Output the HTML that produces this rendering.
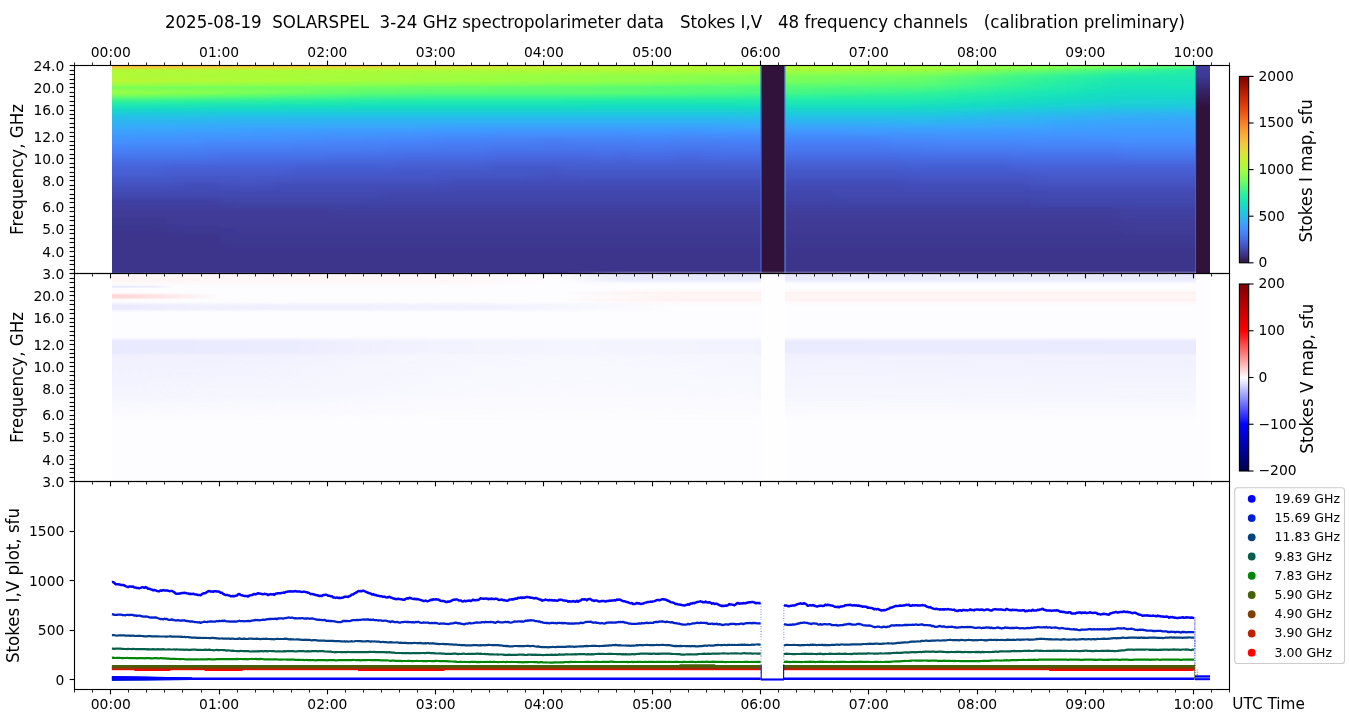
<!DOCTYPE html>
<html lang="en"><head><meta charset="utf-8"><title>SOLARSPEL 2025-08-19</title>
<style>html,body{margin:0;padding:0;background:#fff;overflow:hidden}svg{display:block}</style></head>
<body>
<svg width="1350" height="725" viewBox="0 0 1350 725" font-family="'DejaVu Sans','Liberation Sans',sans-serif" fill="#000">
<rect width="1350" height="725" fill="#fff"/>
<defs><filter id="hb" filterUnits="userSpaceOnUse" x="60" y="60" width="1190" height="220"><feGaussianBlur stdDeviation="7 0"/></filter><clipPath id="hc"><rect x="112" y="65.5" width="1084" height="208"/></clipPath><linearGradient id="c0" x1="0" y1="0" x2="0" y2="1"><stop offset="0.000" stop-color="#f8be39"/><stop offset="0.009" stop-color="#f4c73a"/><stop offset="0.011" stop-color="#eecf3a"/><stop offset="0.021" stop-color="#b1f936"/><stop offset="0.032" stop-color="#b1f936"/><stop offset="0.043" stop-color="#b1f936"/><stop offset="0.053" stop-color="#b1f936"/><stop offset="0.064" stop-color="#b7f735"/><stop offset="0.074" stop-color="#b9f635"/><stop offset="0.085" stop-color="#a7fc3a"/><stop offset="0.096" stop-color="#92ff47"/><stop offset="0.106" stop-color="#79fe59"/><stop offset="0.117" stop-color="#88ff4e"/><stop offset="0.128" stop-color="#99fe42"/><stop offset="0.138" stop-color="#8bff4b"/><stop offset="0.149" stop-color="#6dfe62"/><stop offset="0.170" stop-color="#35f394"/><stop offset="0.191" stop-color="#1de7b2"/><stop offset="0.213" stop-color="#18d9c8"/><stop offset="0.234" stop-color="#1fc9dd"/><stop offset="0.255" stop-color="#28bceb"/><stop offset="0.277" stop-color="#2fb2f4"/><stop offset="0.298" stop-color="#35abf8"/><stop offset="0.319" stop-color="#3ba0fd"/><stop offset="0.362" stop-color="#4391fe"/><stop offset="0.404" stop-color="#4682f8"/><stop offset="0.447" stop-color="#4771e9"/><stop offset="0.489" stop-color="#4664da"/><stop offset="0.532" stop-color="#455ccf"/><stop offset="0.574" stop-color="#4451bf"/><stop offset="0.617" stop-color="#4249b1"/><stop offset="0.660" stop-color="#4040a2"/><stop offset="0.702" stop-color="#3f3b97"/><stop offset="0.745" stop-color="#3e3891"/><stop offset="0.830" stop-color="#3d358b"/><stop offset="0.915" stop-color="#3d358b"/><stop offset="1.000" stop-color="#3d358b"/></linearGradient><linearGradient id="c1" x1="0" y1="0" x2="0" y2="1"><stop offset="0.000" stop-color="#f8be39"/><stop offset="0.009" stop-color="#f4c73a"/><stop offset="0.011" stop-color="#eecf3a"/><stop offset="0.021" stop-color="#b1f936"/><stop offset="0.032" stop-color="#b1f936"/><stop offset="0.043" stop-color="#b1f936"/><stop offset="0.053" stop-color="#b1f936"/><stop offset="0.064" stop-color="#b7f735"/><stop offset="0.074" stop-color="#b9f635"/><stop offset="0.085" stop-color="#a7fc3a"/><stop offset="0.096" stop-color="#92ff47"/><stop offset="0.106" stop-color="#79fe59"/><stop offset="0.117" stop-color="#88ff4e"/><stop offset="0.128" stop-color="#99fe42"/><stop offset="0.138" stop-color="#8bff4b"/><stop offset="0.149" stop-color="#6dfe62"/><stop offset="0.170" stop-color="#35f394"/><stop offset="0.191" stop-color="#1de7b2"/><stop offset="0.213" stop-color="#18d9c8"/><stop offset="0.234" stop-color="#1fc9dd"/><stop offset="0.255" stop-color="#28bceb"/><stop offset="0.277" stop-color="#2fb2f4"/><stop offset="0.298" stop-color="#35abf8"/><stop offset="0.319" stop-color="#3ba0fd"/><stop offset="0.362" stop-color="#4391fe"/><stop offset="0.404" stop-color="#4682f8"/><stop offset="0.447" stop-color="#4771e9"/><stop offset="0.489" stop-color="#4664da"/><stop offset="0.532" stop-color="#455ccf"/><stop offset="0.574" stop-color="#4451bf"/><stop offset="0.617" stop-color="#4249b1"/><stop offset="0.660" stop-color="#4040a2"/><stop offset="0.702" stop-color="#3f3b97"/><stop offset="0.745" stop-color="#3e3891"/><stop offset="0.830" stop-color="#3d358b"/><stop offset="0.915" stop-color="#3d358b"/><stop offset="1.000" stop-color="#3d358b"/></linearGradient><linearGradient id="c2" x1="0" y1="0" x2="0" y2="1"><stop offset="0.000" stop-color="#f8be39"/><stop offset="0.009" stop-color="#f4c73a"/><stop offset="0.011" stop-color="#ecd13a"/><stop offset="0.021" stop-color="#b1f936"/><stop offset="0.032" stop-color="#b1f936"/><stop offset="0.043" stop-color="#affa37"/><stop offset="0.053" stop-color="#b1f936"/><stop offset="0.064" stop-color="#b4f836"/><stop offset="0.074" stop-color="#b9f635"/><stop offset="0.085" stop-color="#a7fc3a"/><stop offset="0.096" stop-color="#92ff47"/><stop offset="0.106" stop-color="#79fe59"/><stop offset="0.117" stop-color="#88ff4e"/><stop offset="0.128" stop-color="#99fe42"/><stop offset="0.138" stop-color="#88ff4e"/><stop offset="0.149" stop-color="#69fd66"/><stop offset="0.170" stop-color="#35f394"/><stop offset="0.191" stop-color="#1de7b2"/><stop offset="0.213" stop-color="#18d9c8"/><stop offset="0.234" stop-color="#1fc9dd"/><stop offset="0.255" stop-color="#28bceb"/><stop offset="0.277" stop-color="#2fb2f4"/><stop offset="0.298" stop-color="#35abf8"/><stop offset="0.319" stop-color="#3ba0fd"/><stop offset="0.362" stop-color="#4391fe"/><stop offset="0.404" stop-color="#4682f8"/><stop offset="0.447" stop-color="#4771e9"/><stop offset="0.489" stop-color="#4664da"/><stop offset="0.532" stop-color="#455ccf"/><stop offset="0.574" stop-color="#4451bf"/><stop offset="0.617" stop-color="#4249b1"/><stop offset="0.660" stop-color="#4040a2"/><stop offset="0.702" stop-color="#3f3b97"/><stop offset="0.745" stop-color="#3e3891"/><stop offset="0.830" stop-color="#3d358b"/><stop offset="0.915" stop-color="#3d358b"/><stop offset="1.000" stop-color="#3d358b"/></linearGradient><linearGradient id="c3" x1="0" y1="0" x2="0" y2="1"><stop offset="0.000" stop-color="#f7c13a"/><stop offset="0.009" stop-color="#f2c93a"/><stop offset="0.011" stop-color="#ecd13a"/><stop offset="0.021" stop-color="#b1f936"/><stop offset="0.032" stop-color="#affa37"/><stop offset="0.043" stop-color="#affa37"/><stop offset="0.053" stop-color="#affa37"/><stop offset="0.064" stop-color="#b4f836"/><stop offset="0.074" stop-color="#b9f635"/><stop offset="0.085" stop-color="#a7fc3a"/><stop offset="0.096" stop-color="#92ff47"/><stop offset="0.106" stop-color="#79fe59"/><stop offset="0.117" stop-color="#84ff51"/><stop offset="0.128" stop-color="#96fe44"/><stop offset="0.138" stop-color="#84ff51"/><stop offset="0.149" stop-color="#69fd66"/><stop offset="0.170" stop-color="#35f394"/><stop offset="0.191" stop-color="#1de7b2"/><stop offset="0.213" stop-color="#18d9c8"/><stop offset="0.234" stop-color="#1fc9dd"/><stop offset="0.255" stop-color="#28bceb"/><stop offset="0.277" stop-color="#2fb2f4"/><stop offset="0.298" stop-color="#37a8fa"/><stop offset="0.319" stop-color="#3ba0fd"/><stop offset="0.362" stop-color="#4391fe"/><stop offset="0.404" stop-color="#4680f6"/><stop offset="0.447" stop-color="#4771e9"/><stop offset="0.489" stop-color="#4664da"/><stop offset="0.532" stop-color="#455ccf"/><stop offset="0.574" stop-color="#4451bf"/><stop offset="0.617" stop-color="#4249b1"/><stop offset="0.660" stop-color="#4040a2"/><stop offset="0.702" stop-color="#3f3b97"/><stop offset="0.745" stop-color="#3e3891"/><stop offset="0.830" stop-color="#3d358b"/><stop offset="0.915" stop-color="#3d358b"/><stop offset="1.000" stop-color="#3d358b"/></linearGradient><linearGradient id="c4" x1="0" y1="0" x2="0" y2="1"><stop offset="0.000" stop-color="#f7c13a"/><stop offset="0.009" stop-color="#f2c93a"/><stop offset="0.011" stop-color="#ebd339"/><stop offset="0.021" stop-color="#b1f936"/><stop offset="0.032" stop-color="#affa37"/><stop offset="0.043" stop-color="#affa37"/><stop offset="0.053" stop-color="#affa37"/><stop offset="0.064" stop-color="#b4f836"/><stop offset="0.074" stop-color="#b7f735"/><stop offset="0.085" stop-color="#a4fc3c"/><stop offset="0.096" stop-color="#8fff49"/><stop offset="0.106" stop-color="#79fe59"/><stop offset="0.117" stop-color="#80ff53"/><stop offset="0.128" stop-color="#92ff47"/><stop offset="0.138" stop-color="#80ff53"/><stop offset="0.149" stop-color="#65fd69"/><stop offset="0.170" stop-color="#32f298"/><stop offset="0.191" stop-color="#1ce6b4"/><stop offset="0.213" stop-color="#18d7ca"/><stop offset="0.234" stop-color="#1fc9dd"/><stop offset="0.255" stop-color="#28bceb"/><stop offset="0.277" stop-color="#2fb2f4"/><stop offset="0.298" stop-color="#37a8fa"/><stop offset="0.319" stop-color="#3ba0fd"/><stop offset="0.362" stop-color="#448ffe"/><stop offset="0.404" stop-color="#4680f6"/><stop offset="0.447" stop-color="#4771e9"/><stop offset="0.489" stop-color="#4664da"/><stop offset="0.532" stop-color="#455ccf"/><stop offset="0.574" stop-color="#4451bf"/><stop offset="0.617" stop-color="#4249b1"/><stop offset="0.660" stop-color="#4040a2"/><stop offset="0.702" stop-color="#3f3b97"/><stop offset="0.745" stop-color="#3e3891"/><stop offset="0.830" stop-color="#3d358b"/><stop offset="0.915" stop-color="#3d358b"/><stop offset="1.000" stop-color="#3d358b"/></linearGradient><linearGradient id="c5" x1="0" y1="0" x2="0" y2="1"><stop offset="0.000" stop-color="#f6c33a"/><stop offset="0.009" stop-color="#f1cb3a"/><stop offset="0.011" stop-color="#e9d539"/><stop offset="0.021" stop-color="#b1f936"/><stop offset="0.032" stop-color="#affa37"/><stop offset="0.043" stop-color="#affa37"/><stop offset="0.053" stop-color="#affa37"/><stop offset="0.064" stop-color="#b1f936"/><stop offset="0.074" stop-color="#b4f836"/><stop offset="0.085" stop-color="#a4fc3c"/><stop offset="0.096" stop-color="#8fff49"/><stop offset="0.106" stop-color="#75fe5c"/><stop offset="0.117" stop-color="#80ff53"/><stop offset="0.128" stop-color="#8fff49"/><stop offset="0.138" stop-color="#7dff56"/><stop offset="0.149" stop-color="#61fc6c"/><stop offset="0.170" stop-color="#32f298"/><stop offset="0.191" stop-color="#1ce6b4"/><stop offset="0.213" stop-color="#18d7ca"/><stop offset="0.234" stop-color="#20c7df"/><stop offset="0.255" stop-color="#28bceb"/><stop offset="0.277" stop-color="#2fb2f4"/><stop offset="0.298" stop-color="#37a8fa"/><stop offset="0.319" stop-color="#3ba0fd"/><stop offset="0.362" stop-color="#448ffe"/><stop offset="0.404" stop-color="#4680f6"/><stop offset="0.447" stop-color="#4771e9"/><stop offset="0.489" stop-color="#4661d6"/><stop offset="0.532" stop-color="#4559cb"/><stop offset="0.574" stop-color="#4451bf"/><stop offset="0.617" stop-color="#4249b1"/><stop offset="0.660" stop-color="#4040a2"/><stop offset="0.702" stop-color="#3f3b97"/><stop offset="0.745" stop-color="#3f3b97"/><stop offset="0.830" stop-color="#3d358b"/><stop offset="0.915" stop-color="#3d358b"/><stop offset="1.000" stop-color="#3d358b"/></linearGradient><linearGradient id="c6" x1="0" y1="0" x2="0" y2="1"><stop offset="0.000" stop-color="#f5c53a"/><stop offset="0.009" stop-color="#efcd3a"/><stop offset="0.011" stop-color="#e9d539"/><stop offset="0.021" stop-color="#b1f936"/><stop offset="0.032" stop-color="#affa37"/><stop offset="0.043" stop-color="#acfb38"/><stop offset="0.053" stop-color="#acfb38"/><stop offset="0.064" stop-color="#b1f936"/><stop offset="0.074" stop-color="#b4f836"/><stop offset="0.085" stop-color="#a1fd3d"/><stop offset="0.096" stop-color="#8fff49"/><stop offset="0.106" stop-color="#75fe5c"/><stop offset="0.117" stop-color="#7dff56"/><stop offset="0.128" stop-color="#8bff4b"/><stop offset="0.138" stop-color="#79fe59"/><stop offset="0.149" stop-color="#5dfc6f"/><stop offset="0.170" stop-color="#2ff19b"/><stop offset="0.191" stop-color="#1ce6b4"/><stop offset="0.213" stop-color="#18d7ca"/><stop offset="0.234" stop-color="#20c7df"/><stop offset="0.255" stop-color="#28bceb"/><stop offset="0.277" stop-color="#31aff5"/><stop offset="0.298" stop-color="#37a8fa"/><stop offset="0.319" stop-color="#3d9efe"/><stop offset="0.362" stop-color="#448ffe"/><stop offset="0.404" stop-color="#4680f6"/><stop offset="0.447" stop-color="#4771e9"/><stop offset="0.489" stop-color="#4661d6"/><stop offset="0.532" stop-color="#4559cb"/><stop offset="0.574" stop-color="#434eba"/><stop offset="0.617" stop-color="#4249b1"/><stop offset="0.660" stop-color="#4040a2"/><stop offset="0.702" stop-color="#3f3b97"/><stop offset="0.745" stop-color="#3f3b97"/><stop offset="0.830" stop-color="#3d358b"/><stop offset="0.915" stop-color="#3d358b"/><stop offset="1.000" stop-color="#3d358b"/></linearGradient><linearGradient id="c7" x1="0" y1="0" x2="0" y2="1"><stop offset="0.000" stop-color="#f5c53a"/><stop offset="0.009" stop-color="#eecf3a"/><stop offset="0.011" stop-color="#e7d739"/><stop offset="0.021" stop-color="#b1f936"/><stop offset="0.032" stop-color="#affa37"/><stop offset="0.043" stop-color="#acfb38"/><stop offset="0.053" stop-color="#acfb38"/><stop offset="0.064" stop-color="#affa37"/><stop offset="0.074" stop-color="#b1f936"/><stop offset="0.085" stop-color="#a1fd3d"/><stop offset="0.096" stop-color="#8bff4b"/><stop offset="0.106" stop-color="#75fe5c"/><stop offset="0.117" stop-color="#7dff56"/><stop offset="0.128" stop-color="#88ff4e"/><stop offset="0.138" stop-color="#75fe5c"/><stop offset="0.149" stop-color="#59fb73"/><stop offset="0.170" stop-color="#2ff19b"/><stop offset="0.191" stop-color="#1ae4b6"/><stop offset="0.213" stop-color="#18d7ca"/><stop offset="0.234" stop-color="#20c7df"/><stop offset="0.255" stop-color="#28bceb"/><stop offset="0.277" stop-color="#31aff5"/><stop offset="0.298" stop-color="#37a8fa"/><stop offset="0.319" stop-color="#3d9efe"/><stop offset="0.362" stop-color="#458cfd"/><stop offset="0.404" stop-color="#467df4"/><stop offset="0.447" stop-color="#4771e9"/><stop offset="0.489" stop-color="#4661d6"/><stop offset="0.532" stop-color="#4559cb"/><stop offset="0.574" stop-color="#434eba"/><stop offset="0.617" stop-color="#4249b1"/><stop offset="0.660" stop-color="#4040a2"/><stop offset="0.702" stop-color="#3f3b97"/><stop offset="0.745" stop-color="#3f3b97"/><stop offset="0.830" stop-color="#3d358b"/><stop offset="0.915" stop-color="#3d358b"/><stop offset="1.000" stop-color="#3d358b"/></linearGradient><linearGradient id="c8" x1="0" y1="0" x2="0" y2="1"><stop offset="0.000" stop-color="#f4c73a"/><stop offset="0.009" stop-color="#eecf3a"/><stop offset="0.011" stop-color="#e5d938"/><stop offset="0.021" stop-color="#b1f936"/><stop offset="0.032" stop-color="#acfb38"/><stop offset="0.043" stop-color="#acfb38"/><stop offset="0.053" stop-color="#acfb38"/><stop offset="0.064" stop-color="#affa37"/><stop offset="0.074" stop-color="#b1f936"/><stop offset="0.085" stop-color="#9ffd3f"/><stop offset="0.096" stop-color="#8bff4b"/><stop offset="0.106" stop-color="#75fe5c"/><stop offset="0.117" stop-color="#79fe59"/><stop offset="0.128" stop-color="#84ff51"/><stop offset="0.138" stop-color="#71fe5f"/><stop offset="0.149" stop-color="#59fb73"/><stop offset="0.170" stop-color="#2cf09e"/><stop offset="0.191" stop-color="#1ae4b6"/><stop offset="0.213" stop-color="#18d7ca"/><stop offset="0.234" stop-color="#20c7df"/><stop offset="0.255" stop-color="#2ab9ee"/><stop offset="0.277" stop-color="#31aff5"/><stop offset="0.298" stop-color="#38a5fb"/><stop offset="0.319" stop-color="#3d9efe"/><stop offset="0.362" stop-color="#458cfd"/><stop offset="0.404" stop-color="#467df4"/><stop offset="0.447" stop-color="#476ee6"/><stop offset="0.489" stop-color="#4661d6"/><stop offset="0.532" stop-color="#4559cb"/><stop offset="0.574" stop-color="#4451bf"/><stop offset="0.617" stop-color="#4249b1"/><stop offset="0.660" stop-color="#4143a7"/><stop offset="0.702" stop-color="#3f3b97"/><stop offset="0.745" stop-color="#3f3b97"/><stop offset="0.830" stop-color="#3e3891"/><stop offset="0.915" stop-color="#3d358b"/><stop offset="1.000" stop-color="#3d358b"/></linearGradient><linearGradient id="c9" x1="0" y1="0" x2="0" y2="1"><stop offset="0.000" stop-color="#f2c93a"/><stop offset="0.009" stop-color="#ecd13a"/><stop offset="0.011" stop-color="#e5d938"/><stop offset="0.021" stop-color="#b1f936"/><stop offset="0.032" stop-color="#acfb38"/><stop offset="0.043" stop-color="#acfb38"/><stop offset="0.053" stop-color="#a9fb39"/><stop offset="0.064" stop-color="#acfb38"/><stop offset="0.074" stop-color="#affa37"/><stop offset="0.085" stop-color="#9ffd3f"/><stop offset="0.096" stop-color="#8bff4b"/><stop offset="0.106" stop-color="#71fe5f"/><stop offset="0.117" stop-color="#75fe5c"/><stop offset="0.128" stop-color="#80ff53"/><stop offset="0.138" stop-color="#6dfe62"/><stop offset="0.149" stop-color="#55fa76"/><stop offset="0.170" stop-color="#2cf09e"/><stop offset="0.191" stop-color="#1ae4b6"/><stop offset="0.213" stop-color="#18d7ca"/><stop offset="0.234" stop-color="#20c7df"/><stop offset="0.255" stop-color="#2ab9ee"/><stop offset="0.277" stop-color="#31aff5"/><stop offset="0.298" stop-color="#38a5fb"/><stop offset="0.319" stop-color="#3d9efe"/><stop offset="0.362" stop-color="#458cfd"/><stop offset="0.404" stop-color="#467df4"/><stop offset="0.447" stop-color="#476ee6"/><stop offset="0.489" stop-color="#4661d6"/><stop offset="0.532" stop-color="#4559cb"/><stop offset="0.574" stop-color="#4451bf"/><stop offset="0.617" stop-color="#4249b1"/><stop offset="0.660" stop-color="#4143a7"/><stop offset="0.702" stop-color="#3f3b97"/><stop offset="0.745" stop-color="#3f3b97"/><stop offset="0.830" stop-color="#3e3891"/><stop offset="0.915" stop-color="#3d358b"/><stop offset="1.000" stop-color="#3d358b"/></linearGradient><linearGradient id="c10" x1="0" y1="0" x2="0" y2="1"><stop offset="0.000" stop-color="#f2c93a"/><stop offset="0.009" stop-color="#ebd339"/><stop offset="0.011" stop-color="#e3db38"/><stop offset="0.021" stop-color="#b1f936"/><stop offset="0.032" stop-color="#acfb38"/><stop offset="0.043" stop-color="#a9fb39"/><stop offset="0.053" stop-color="#a9fb39"/><stop offset="0.064" stop-color="#acfb38"/><stop offset="0.074" stop-color="#acfb38"/><stop offset="0.085" stop-color="#9cfe40"/><stop offset="0.096" stop-color="#88ff4e"/><stop offset="0.106" stop-color="#71fe5f"/><stop offset="0.117" stop-color="#75fe5c"/><stop offset="0.128" stop-color="#7dff56"/><stop offset="0.138" stop-color="#69fd66"/><stop offset="0.149" stop-color="#52fa7a"/><stop offset="0.170" stop-color="#2aefa1"/><stop offset="0.191" stop-color="#1ae4b6"/><stop offset="0.213" stop-color="#18d7ca"/><stop offset="0.234" stop-color="#20c7df"/><stop offset="0.255" stop-color="#2ab9ee"/><stop offset="0.277" stop-color="#31aff5"/><stop offset="0.298" stop-color="#38a5fb"/><stop offset="0.319" stop-color="#3e9bfe"/><stop offset="0.362" stop-color="#458cfd"/><stop offset="0.404" stop-color="#467df4"/><stop offset="0.447" stop-color="#476ee6"/><stop offset="0.489" stop-color="#4661d6"/><stop offset="0.532" stop-color="#4559cb"/><stop offset="0.574" stop-color="#4451bf"/><stop offset="0.617" stop-color="#4249b1"/><stop offset="0.660" stop-color="#4143a7"/><stop offset="0.702" stop-color="#3f3b97"/><stop offset="0.745" stop-color="#3f3b97"/><stop offset="0.830" stop-color="#3e3891"/><stop offset="0.915" stop-color="#3d358b"/><stop offset="1.000" stop-color="#3d358b"/></linearGradient><linearGradient id="c11" x1="0" y1="0" x2="0" y2="1"><stop offset="0.000" stop-color="#f1cb3a"/><stop offset="0.009" stop-color="#e9d539"/><stop offset="0.011" stop-color="#e1dd37"/><stop offset="0.021" stop-color="#b1f936"/><stop offset="0.032" stop-color="#acfb38"/><stop offset="0.043" stop-color="#a9fb39"/><stop offset="0.053" stop-color="#a9fb39"/><stop offset="0.064" stop-color="#a9fb39"/><stop offset="0.074" stop-color="#acfb38"/><stop offset="0.085" stop-color="#9cfe40"/><stop offset="0.096" stop-color="#88ff4e"/><stop offset="0.106" stop-color="#71fe5f"/><stop offset="0.117" stop-color="#71fe5f"/><stop offset="0.128" stop-color="#75fe5c"/><stop offset="0.138" stop-color="#65fd69"/><stop offset="0.149" stop-color="#4ef97d"/><stop offset="0.170" stop-color="#2aefa1"/><stop offset="0.191" stop-color="#19e3b9"/><stop offset="0.213" stop-color="#18d7ca"/><stop offset="0.234" stop-color="#20c7df"/><stop offset="0.255" stop-color="#2ab9ee"/><stop offset="0.277" stop-color="#31aff5"/><stop offset="0.298" stop-color="#38a5fb"/><stop offset="0.319" stop-color="#3e9bfe"/><stop offset="0.362" stop-color="#458cfd"/><stop offset="0.404" stop-color="#467df4"/><stop offset="0.447" stop-color="#476ee6"/><stop offset="0.489" stop-color="#4661d6"/><stop offset="0.532" stop-color="#4559cb"/><stop offset="0.574" stop-color="#434eba"/><stop offset="0.617" stop-color="#4249b1"/><stop offset="0.660" stop-color="#4143a7"/><stop offset="0.702" stop-color="#3f3b97"/><stop offset="0.745" stop-color="#3f3b97"/><stop offset="0.830" stop-color="#3e3891"/><stop offset="0.915" stop-color="#3d358b"/><stop offset="1.000" stop-color="#3d358b"/></linearGradient><linearGradient id="c12" x1="0" y1="0" x2="0" y2="1"><stop offset="0.000" stop-color="#efcd3a"/><stop offset="0.009" stop-color="#e9d539"/><stop offset="0.011" stop-color="#e1dd37"/><stop offset="0.021" stop-color="#affa37"/><stop offset="0.032" stop-color="#acfb38"/><stop offset="0.043" stop-color="#a9fb39"/><stop offset="0.053" stop-color="#a7fc3a"/><stop offset="0.064" stop-color="#a9fb39"/><stop offset="0.074" stop-color="#a9fb39"/><stop offset="0.085" stop-color="#99fe42"/><stop offset="0.096" stop-color="#88ff4e"/><stop offset="0.106" stop-color="#71fe5f"/><stop offset="0.117" stop-color="#71fe5f"/><stop offset="0.128" stop-color="#71fe5f"/><stop offset="0.138" stop-color="#61fc6c"/><stop offset="0.149" stop-color="#4af880"/><stop offset="0.170" stop-color="#2aefa1"/><stop offset="0.191" stop-color="#19e3b9"/><stop offset="0.213" stop-color="#19d5cd"/><stop offset="0.234" stop-color="#20c7df"/><stop offset="0.255" stop-color="#2ab9ee"/><stop offset="0.277" stop-color="#31aff5"/><stop offset="0.298" stop-color="#38a5fb"/><stop offset="0.319" stop-color="#3e9bfe"/><stop offset="0.362" stop-color="#458afc"/><stop offset="0.404" stop-color="#477bf2"/><stop offset="0.447" stop-color="#476ee6"/><stop offset="0.489" stop-color="#455ed3"/><stop offset="0.532" stop-color="#4456c7"/><stop offset="0.574" stop-color="#434eba"/><stop offset="0.617" stop-color="#4249b1"/><stop offset="0.660" stop-color="#4143a7"/><stop offset="0.702" stop-color="#3f3b97"/><stop offset="0.745" stop-color="#3f3b97"/><stop offset="0.830" stop-color="#3e3891"/><stop offset="0.915" stop-color="#3d358b"/><stop offset="1.000" stop-color="#3d358b"/></linearGradient><linearGradient id="c13" x1="0" y1="0" x2="0" y2="1"><stop offset="0.000" stop-color="#efcd3a"/><stop offset="0.009" stop-color="#e7d739"/><stop offset="0.011" stop-color="#dfdf37"/><stop offset="0.021" stop-color="#affa37"/><stop offset="0.032" stop-color="#acfb38"/><stop offset="0.043" stop-color="#a7fc3a"/><stop offset="0.053" stop-color="#a7fc3a"/><stop offset="0.064" stop-color="#a7fc3a"/><stop offset="0.074" stop-color="#a9fb39"/><stop offset="0.085" stop-color="#99fe42"/><stop offset="0.096" stop-color="#84ff51"/><stop offset="0.106" stop-color="#71fe5f"/><stop offset="0.117" stop-color="#6dfe62"/><stop offset="0.128" stop-color="#6dfe62"/><stop offset="0.138" stop-color="#5dfc6f"/><stop offset="0.149" stop-color="#46f884"/><stop offset="0.170" stop-color="#27eea4"/><stop offset="0.191" stop-color="#19e3b9"/><stop offset="0.213" stop-color="#19d5cd"/><stop offset="0.234" stop-color="#20c7df"/><stop offset="0.255" stop-color="#2ab9ee"/><stop offset="0.277" stop-color="#31aff5"/><stop offset="0.298" stop-color="#38a5fb"/><stop offset="0.319" stop-color="#3e9bfe"/><stop offset="0.362" stop-color="#458afc"/><stop offset="0.404" stop-color="#477bf2"/><stop offset="0.447" stop-color="#476ee6"/><stop offset="0.489" stop-color="#455ed3"/><stop offset="0.532" stop-color="#4456c7"/><stop offset="0.574" stop-color="#434eba"/><stop offset="0.617" stop-color="#4249b1"/><stop offset="0.660" stop-color="#4143a7"/><stop offset="0.702" stop-color="#3f3b97"/><stop offset="0.745" stop-color="#3f3b97"/><stop offset="0.830" stop-color="#3e3891"/><stop offset="0.915" stop-color="#3d358b"/><stop offset="1.000" stop-color="#3d358b"/></linearGradient><linearGradient id="c14" x1="0" y1="0" x2="0" y2="1"><stop offset="0.000" stop-color="#eecf3a"/><stop offset="0.009" stop-color="#e5d938"/><stop offset="0.011" stop-color="#dde037"/><stop offset="0.021" stop-color="#affa37"/><stop offset="0.032" stop-color="#a9fb39"/><stop offset="0.043" stop-color="#a7fc3a"/><stop offset="0.053" stop-color="#a4fc3c"/><stop offset="0.064" stop-color="#a7fc3a"/><stop offset="0.074" stop-color="#a7fc3a"/><stop offset="0.085" stop-color="#96fe44"/><stop offset="0.096" stop-color="#84ff51"/><stop offset="0.106" stop-color="#6dfe62"/><stop offset="0.117" stop-color="#69fd66"/><stop offset="0.128" stop-color="#69fd66"/><stop offset="0.138" stop-color="#59fb73"/><stop offset="0.149" stop-color="#46f884"/><stop offset="0.170" stop-color="#27eea4"/><stop offset="0.191" stop-color="#19e3b9"/><stop offset="0.213" stop-color="#19d5cd"/><stop offset="0.234" stop-color="#20c7df"/><stop offset="0.255" stop-color="#2ab9ee"/><stop offset="0.277" stop-color="#33adf7"/><stop offset="0.298" stop-color="#3aa3fc"/><stop offset="0.319" stop-color="#4099ff"/><stop offset="0.362" stop-color="#4687fb"/><stop offset="0.404" stop-color="#477bf2"/><stop offset="0.447" stop-color="#466be3"/><stop offset="0.489" stop-color="#455ed3"/><stop offset="0.532" stop-color="#4456c7"/><stop offset="0.574" stop-color="#434eba"/><stop offset="0.617" stop-color="#4249b1"/><stop offset="0.660" stop-color="#4143a7"/><stop offset="0.702" stop-color="#3f3e9c"/><stop offset="0.745" stop-color="#3f3b97"/><stop offset="0.830" stop-color="#3e3891"/><stop offset="0.915" stop-color="#3d358b"/><stop offset="1.000" stop-color="#3d358b"/></linearGradient><linearGradient id="c15" x1="0" y1="0" x2="0" y2="1"><stop offset="0.000" stop-color="#ecd13a"/><stop offset="0.009" stop-color="#e3db38"/><stop offset="0.011" stop-color="#dde037"/><stop offset="0.021" stop-color="#affa37"/><stop offset="0.032" stop-color="#a9fb39"/><stop offset="0.043" stop-color="#a7fc3a"/><stop offset="0.053" stop-color="#a4fc3c"/><stop offset="0.064" stop-color="#a4fc3c"/><stop offset="0.074" stop-color="#a4fc3c"/><stop offset="0.085" stop-color="#96fe44"/><stop offset="0.096" stop-color="#84ff51"/><stop offset="0.106" stop-color="#6dfe62"/><stop offset="0.117" stop-color="#69fd66"/><stop offset="0.128" stop-color="#65fd69"/><stop offset="0.138" stop-color="#55fa76"/><stop offset="0.149" stop-color="#43f787"/><stop offset="0.170" stop-color="#25eca7"/><stop offset="0.191" stop-color="#19e2bb"/><stop offset="0.213" stop-color="#19d5cd"/><stop offset="0.234" stop-color="#20c7df"/><stop offset="0.255" stop-color="#2ab9ee"/><stop offset="0.277" stop-color="#33adf7"/><stop offset="0.298" stop-color="#3aa3fc"/><stop offset="0.319" stop-color="#4099ff"/><stop offset="0.362" stop-color="#4687fb"/><stop offset="0.404" stop-color="#477bf2"/><stop offset="0.447" stop-color="#466be3"/><stop offset="0.489" stop-color="#455ed3"/><stop offset="0.532" stop-color="#4456c7"/><stop offset="0.574" stop-color="#434eba"/><stop offset="0.617" stop-color="#4249b1"/><stop offset="0.660" stop-color="#4143a7"/><stop offset="0.702" stop-color="#3f3e9c"/><stop offset="0.745" stop-color="#3f3b97"/><stop offset="0.830" stop-color="#3e3891"/><stop offset="0.915" stop-color="#3d358b"/><stop offset="1.000" stop-color="#3d358b"/></linearGradient><linearGradient id="c16" x1="0" y1="0" x2="0" y2="1"><stop offset="0.000" stop-color="#ecd13a"/><stop offset="0.009" stop-color="#e3db38"/><stop offset="0.011" stop-color="#dbe236"/><stop offset="0.021" stop-color="#affa37"/><stop offset="0.032" stop-color="#a9fb39"/><stop offset="0.043" stop-color="#a7fc3a"/><stop offset="0.053" stop-color="#a4fc3c"/><stop offset="0.064" stop-color="#a4fc3c"/><stop offset="0.074" stop-color="#a4fc3c"/><stop offset="0.085" stop-color="#92ff47"/><stop offset="0.096" stop-color="#80ff53"/><stop offset="0.106" stop-color="#6dfe62"/><stop offset="0.117" stop-color="#65fd69"/><stop offset="0.128" stop-color="#61fc6c"/><stop offset="0.138" stop-color="#52fa7a"/><stop offset="0.149" stop-color="#3ff68a"/><stop offset="0.170" stop-color="#25eca7"/><stop offset="0.191" stop-color="#19e2bb"/><stop offset="0.213" stop-color="#19d5cd"/><stop offset="0.234" stop-color="#20c7df"/><stop offset="0.255" stop-color="#2ab9ee"/><stop offset="0.277" stop-color="#33adf7"/><stop offset="0.298" stop-color="#3aa3fc"/><stop offset="0.319" stop-color="#4099ff"/><stop offset="0.362" stop-color="#4687fb"/><stop offset="0.404" stop-color="#477bf2"/><stop offset="0.447" stop-color="#466be3"/><stop offset="0.489" stop-color="#455ed3"/><stop offset="0.532" stop-color="#4456c7"/><stop offset="0.574" stop-color="#434eba"/><stop offset="0.617" stop-color="#4249b1"/><stop offset="0.660" stop-color="#4143a7"/><stop offset="0.702" stop-color="#3f3e9c"/><stop offset="0.745" stop-color="#3f3b97"/><stop offset="0.830" stop-color="#3e3891"/><stop offset="0.915" stop-color="#3d358b"/><stop offset="1.000" stop-color="#3d358b"/></linearGradient><linearGradient id="c17" x1="0" y1="0" x2="0" y2="1"><stop offset="0.000" stop-color="#e9d539"/><stop offset="0.009" stop-color="#e1dd37"/><stop offset="0.011" stop-color="#d9e436"/><stop offset="0.021" stop-color="#affa37"/><stop offset="0.032" stop-color="#a9fb39"/><stop offset="0.043" stop-color="#a4fc3c"/><stop offset="0.053" stop-color="#a1fd3d"/><stop offset="0.064" stop-color="#a1fd3d"/><stop offset="0.074" stop-color="#a1fd3d"/><stop offset="0.085" stop-color="#92ff47"/><stop offset="0.096" stop-color="#80ff53"/><stop offset="0.106" stop-color="#6dfe62"/><stop offset="0.117" stop-color="#65fd69"/><stop offset="0.128" stop-color="#61fc6c"/><stop offset="0.138" stop-color="#52fa7a"/><stop offset="0.149" stop-color="#3ff68a"/><stop offset="0.170" stop-color="#22ebaa"/><stop offset="0.191" stop-color="#19e2bb"/><stop offset="0.213" stop-color="#19d5cd"/><stop offset="0.234" stop-color="#20c7df"/><stop offset="0.255" stop-color="#2ab9ee"/><stop offset="0.277" stop-color="#33adf7"/><stop offset="0.298" stop-color="#3aa3fc"/><stop offset="0.319" stop-color="#4099ff"/><stop offset="0.362" stop-color="#4685fa"/><stop offset="0.404" stop-color="#4778f0"/><stop offset="0.447" stop-color="#466be3"/><stop offset="0.489" stop-color="#455ed3"/><stop offset="0.532" stop-color="#4456c7"/><stop offset="0.574" stop-color="#434eba"/><stop offset="0.617" stop-color="#4146ac"/><stop offset="0.660" stop-color="#4143a7"/><stop offset="0.702" stop-color="#3f3e9c"/><stop offset="0.745" stop-color="#3f3b97"/><stop offset="0.830" stop-color="#3e3891"/><stop offset="0.915" stop-color="#3d358b"/><stop offset="1.000" stop-color="#3d358b"/></linearGradient><linearGradient id="c18" x1="0" y1="0" x2="0" y2="1"><stop offset="0.000" stop-color="#e7d739"/><stop offset="0.009" stop-color="#dde037"/><stop offset="0.011" stop-color="#d7e535"/><stop offset="0.021" stop-color="#affa37"/><stop offset="0.032" stop-color="#a9fb39"/><stop offset="0.043" stop-color="#a4fc3c"/><stop offset="0.053" stop-color="#a1fd3d"/><stop offset="0.064" stop-color="#a1fd3d"/><stop offset="0.074" stop-color="#a1fd3d"/><stop offset="0.085" stop-color="#92ff47"/><stop offset="0.096" stop-color="#7dff56"/><stop offset="0.106" stop-color="#69fd66"/><stop offset="0.117" stop-color="#61fc6c"/><stop offset="0.128" stop-color="#5dfc6f"/><stop offset="0.138" stop-color="#4ef97d"/><stop offset="0.149" stop-color="#3ff68a"/><stop offset="0.170" stop-color="#22ebaa"/><stop offset="0.191" stop-color="#19e2bb"/><stop offset="0.213" stop-color="#19d5cd"/><stop offset="0.234" stop-color="#20c7df"/><stop offset="0.255" stop-color="#2ab9ee"/><stop offset="0.277" stop-color="#33adf7"/><stop offset="0.298" stop-color="#3aa3fc"/><stop offset="0.319" stop-color="#4099ff"/><stop offset="0.362" stop-color="#4685fa"/><stop offset="0.404" stop-color="#4778f0"/><stop offset="0.447" stop-color="#4669e0"/><stop offset="0.489" stop-color="#455ccf"/><stop offset="0.532" stop-color="#4456c7"/><stop offset="0.574" stop-color="#434eba"/><stop offset="0.617" stop-color="#4146ac"/><stop offset="0.660" stop-color="#4143a7"/><stop offset="0.702" stop-color="#3f3e9c"/><stop offset="0.745" stop-color="#3f3b97"/><stop offset="0.830" stop-color="#3e3891"/><stop offset="0.915" stop-color="#3d358b"/><stop offset="1.000" stop-color="#3d358b"/></linearGradient><linearGradient id="c19" x1="0" y1="0" x2="0" y2="1"><stop offset="0.000" stop-color="#e3db38"/><stop offset="0.009" stop-color="#dbe236"/><stop offset="0.011" stop-color="#d4e735"/><stop offset="0.021" stop-color="#affa37"/><stop offset="0.032" stop-color="#a9fb39"/><stop offset="0.043" stop-color="#a4fc3c"/><stop offset="0.053" stop-color="#9ffd3f"/><stop offset="0.064" stop-color="#9ffd3f"/><stop offset="0.074" stop-color="#9ffd3f"/><stop offset="0.085" stop-color="#8fff49"/><stop offset="0.096" stop-color="#7dff56"/><stop offset="0.106" stop-color="#69fd66"/><stop offset="0.117" stop-color="#61fc6c"/><stop offset="0.128" stop-color="#5dfc6f"/><stop offset="0.138" stop-color="#4ef97d"/><stop offset="0.149" stop-color="#3cf58e"/><stop offset="0.170" stop-color="#22ebaa"/><stop offset="0.191" stop-color="#19e2bb"/><stop offset="0.213" stop-color="#19d5cd"/><stop offset="0.234" stop-color="#20c7df"/><stop offset="0.255" stop-color="#2ab9ee"/><stop offset="0.277" stop-color="#33adf7"/><stop offset="0.298" stop-color="#3aa3fc"/><stop offset="0.319" stop-color="#4196ff"/><stop offset="0.362" stop-color="#4685fa"/><stop offset="0.404" stop-color="#4778f0"/><stop offset="0.447" stop-color="#4669e0"/><stop offset="0.489" stop-color="#455ccf"/><stop offset="0.532" stop-color="#4456c7"/><stop offset="0.574" stop-color="#434eba"/><stop offset="0.617" stop-color="#4146ac"/><stop offset="0.660" stop-color="#4143a7"/><stop offset="0.702" stop-color="#3f3e9c"/><stop offset="0.745" stop-color="#3f3b97"/><stop offset="0.830" stop-color="#3e3891"/><stop offset="0.915" stop-color="#3d358b"/><stop offset="1.000" stop-color="#3d358b"/></linearGradient><linearGradient id="c20" x1="0" y1="0" x2="0" y2="1"><stop offset="0.000" stop-color="#e1dd37"/><stop offset="0.009" stop-color="#d9e436"/><stop offset="0.011" stop-color="#d2e935"/><stop offset="0.021" stop-color="#affa37"/><stop offset="0.032" stop-color="#a9fb39"/><stop offset="0.043" stop-color="#a1fd3d"/><stop offset="0.053" stop-color="#9ffd3f"/><stop offset="0.064" stop-color="#9ffd3f"/><stop offset="0.074" stop-color="#9ffd3f"/><stop offset="0.085" stop-color="#8fff49"/><stop offset="0.096" stop-color="#7dff56"/><stop offset="0.106" stop-color="#69fd66"/><stop offset="0.117" stop-color="#61fc6c"/><stop offset="0.128" stop-color="#5dfc6f"/><stop offset="0.138" stop-color="#4ef97d"/><stop offset="0.149" stop-color="#3cf58e"/><stop offset="0.170" stop-color="#22ebaa"/><stop offset="0.191" stop-color="#19e2bb"/><stop offset="0.213" stop-color="#19d5cd"/><stop offset="0.234" stop-color="#20c7df"/><stop offset="0.255" stop-color="#2ab9ee"/><stop offset="0.277" stop-color="#33adf7"/><stop offset="0.298" stop-color="#3ba0fd"/><stop offset="0.319" stop-color="#4196ff"/><stop offset="0.362" stop-color="#4682f8"/><stop offset="0.404" stop-color="#4776ee"/><stop offset="0.447" stop-color="#4669e0"/><stop offset="0.489" stop-color="#455ccf"/><stop offset="0.532" stop-color="#4454c3"/><stop offset="0.574" stop-color="#434eba"/><stop offset="0.617" stop-color="#4146ac"/><stop offset="0.660" stop-color="#4143a7"/><stop offset="0.702" stop-color="#3f3e9c"/><stop offset="0.745" stop-color="#3f3b97"/><stop offset="0.830" stop-color="#3e3891"/><stop offset="0.915" stop-color="#3d358b"/><stop offset="1.000" stop-color="#3d358b"/></linearGradient><linearGradient id="c21" x1="0" y1="0" x2="0" y2="1"><stop offset="0.000" stop-color="#dde037"/><stop offset="0.009" stop-color="#d7e535"/><stop offset="0.011" stop-color="#d0ea34"/><stop offset="0.021" stop-color="#affa37"/><stop offset="0.032" stop-color="#a7fc3a"/><stop offset="0.043" stop-color="#a1fd3d"/><stop offset="0.053" stop-color="#9cfe40"/><stop offset="0.064" stop-color="#9cfe40"/><stop offset="0.074" stop-color="#9ffd3f"/><stop offset="0.085" stop-color="#8bff4b"/><stop offset="0.096" stop-color="#79fe59"/><stop offset="0.106" stop-color="#65fd69"/><stop offset="0.117" stop-color="#61fc6c"/><stop offset="0.128" stop-color="#5dfc6f"/><stop offset="0.138" stop-color="#4ef97d"/><stop offset="0.149" stop-color="#3cf58e"/><stop offset="0.170" stop-color="#22ebaa"/><stop offset="0.191" stop-color="#19e2bb"/><stop offset="0.213" stop-color="#19d5cd"/><stop offset="0.234" stop-color="#20c7df"/><stop offset="0.255" stop-color="#2ab9ee"/><stop offset="0.277" stop-color="#33adf7"/><stop offset="0.298" stop-color="#3ba0fd"/><stop offset="0.319" stop-color="#4196ff"/><stop offset="0.362" stop-color="#4682f8"/><stop offset="0.404" stop-color="#4776ee"/><stop offset="0.447" stop-color="#4669e0"/><stop offset="0.489" stop-color="#455ccf"/><stop offset="0.532" stop-color="#4454c3"/><stop offset="0.574" stop-color="#424bb5"/><stop offset="0.617" stop-color="#4146ac"/><stop offset="0.660" stop-color="#4143a7"/><stop offset="0.702" stop-color="#3f3e9c"/><stop offset="0.745" stop-color="#3f3b97"/><stop offset="0.830" stop-color="#3e3891"/><stop offset="0.915" stop-color="#3d358b"/><stop offset="1.000" stop-color="#3d358b"/></linearGradient><linearGradient id="c22" x1="0" y1="0" x2="0" y2="1"><stop offset="0.000" stop-color="#dbe236"/><stop offset="0.009" stop-color="#d2e935"/><stop offset="0.011" stop-color="#cdec34"/><stop offset="0.021" stop-color="#affa37"/><stop offset="0.032" stop-color="#a7fc3a"/><stop offset="0.043" stop-color="#a1fd3d"/><stop offset="0.053" stop-color="#9cfe40"/><stop offset="0.064" stop-color="#9cfe40"/><stop offset="0.074" stop-color="#9cfe40"/><stop offset="0.085" stop-color="#8bff4b"/><stop offset="0.096" stop-color="#79fe59"/><stop offset="0.106" stop-color="#65fd69"/><stop offset="0.117" stop-color="#61fc6c"/><stop offset="0.128" stop-color="#5dfc6f"/><stop offset="0.138" stop-color="#4ef97d"/><stop offset="0.149" stop-color="#3cf58e"/><stop offset="0.170" stop-color="#22ebaa"/><stop offset="0.191" stop-color="#19e2bb"/><stop offset="0.213" stop-color="#19d5cd"/><stop offset="0.234" stop-color="#20c7df"/><stop offset="0.255" stop-color="#2ab9ee"/><stop offset="0.277" stop-color="#33adf7"/><stop offset="0.298" stop-color="#3ba0fd"/><stop offset="0.319" stop-color="#4196ff"/><stop offset="0.362" stop-color="#4682f8"/><stop offset="0.404" stop-color="#4776ee"/><stop offset="0.447" stop-color="#4669e0"/><stop offset="0.489" stop-color="#455ccf"/><stop offset="0.532" stop-color="#4454c3"/><stop offset="0.574" stop-color="#424bb5"/><stop offset="0.617" stop-color="#4146ac"/><stop offset="0.660" stop-color="#4143a7"/><stop offset="0.702" stop-color="#3f3e9c"/><stop offset="0.745" stop-color="#3f3b97"/><stop offset="0.830" stop-color="#3e3891"/><stop offset="0.915" stop-color="#3d358b"/><stop offset="1.000" stop-color="#3d358b"/></linearGradient><linearGradient id="c23" x1="0" y1="0" x2="0" y2="1"><stop offset="0.000" stop-color="#d7e535"/><stop offset="0.009" stop-color="#d0ea34"/><stop offset="0.011" stop-color="#cbed34"/><stop offset="0.021" stop-color="#affa37"/><stop offset="0.032" stop-color="#a7fc3a"/><stop offset="0.043" stop-color="#9ffd3f"/><stop offset="0.053" stop-color="#99fe42"/><stop offset="0.064" stop-color="#99fe42"/><stop offset="0.074" stop-color="#9cfe40"/><stop offset="0.085" stop-color="#8bff4b"/><stop offset="0.096" stop-color="#79fe59"/><stop offset="0.106" stop-color="#61fc6c"/><stop offset="0.117" stop-color="#5dfc6f"/><stop offset="0.128" stop-color="#5dfc6f"/><stop offset="0.138" stop-color="#4ef97d"/><stop offset="0.149" stop-color="#3cf58e"/><stop offset="0.170" stop-color="#22ebaa"/><stop offset="0.191" stop-color="#19e2bb"/><stop offset="0.213" stop-color="#19d5cd"/><stop offset="0.234" stop-color="#20c7df"/><stop offset="0.255" stop-color="#2ab9ee"/><stop offset="0.277" stop-color="#33adf7"/><stop offset="0.298" stop-color="#3ba0fd"/><stop offset="0.319" stop-color="#4294ff"/><stop offset="0.362" stop-color="#4680f6"/><stop offset="0.404" stop-color="#4773eb"/><stop offset="0.447" stop-color="#4666dd"/><stop offset="0.489" stop-color="#4559cb"/><stop offset="0.532" stop-color="#4454c3"/><stop offset="0.574" stop-color="#424bb5"/><stop offset="0.617" stop-color="#4146ac"/><stop offset="0.660" stop-color="#4143a7"/><stop offset="0.702" stop-color="#3f3e9c"/><stop offset="0.745" stop-color="#3f3b97"/><stop offset="0.830" stop-color="#3e3891"/><stop offset="0.915" stop-color="#3d358b"/><stop offset="1.000" stop-color="#3d358b"/></linearGradient><linearGradient id="c24" x1="0" y1="0" x2="0" y2="1"><stop offset="0.000" stop-color="#d4e735"/><stop offset="0.009" stop-color="#cdec34"/><stop offset="0.011" stop-color="#c8ef34"/><stop offset="0.021" stop-color="#affa37"/><stop offset="0.032" stop-color="#a7fc3a"/><stop offset="0.043" stop-color="#9ffd3f"/><stop offset="0.053" stop-color="#99fe42"/><stop offset="0.064" stop-color="#99fe42"/><stop offset="0.074" stop-color="#99fe42"/><stop offset="0.085" stop-color="#88ff4e"/><stop offset="0.096" stop-color="#75fe5c"/><stop offset="0.106" stop-color="#61fc6c"/><stop offset="0.117" stop-color="#5dfc6f"/><stop offset="0.128" stop-color="#5dfc6f"/><stop offset="0.138" stop-color="#4ef97d"/><stop offset="0.149" stop-color="#3cf58e"/><stop offset="0.170" stop-color="#22ebaa"/><stop offset="0.191" stop-color="#19e2bb"/><stop offset="0.213" stop-color="#19d5cd"/><stop offset="0.234" stop-color="#20c7df"/><stop offset="0.255" stop-color="#2ab9ee"/><stop offset="0.277" stop-color="#33adf7"/><stop offset="0.298" stop-color="#3ba0fd"/><stop offset="0.319" stop-color="#4294ff"/><stop offset="0.362" stop-color="#4680f6"/><stop offset="0.404" stop-color="#4773eb"/><stop offset="0.447" stop-color="#4666dd"/><stop offset="0.489" stop-color="#4559cb"/><stop offset="0.532" stop-color="#4454c3"/><stop offset="0.574" stop-color="#424bb5"/><stop offset="0.617" stop-color="#4146ac"/><stop offset="0.660" stop-color="#4143a7"/><stop offset="0.702" stop-color="#3f3e9c"/><stop offset="0.745" stop-color="#3f3b97"/><stop offset="0.830" stop-color="#3e3891"/><stop offset="0.915" stop-color="#3d358b"/><stop offset="1.000" stop-color="#3d358b"/></linearGradient><linearGradient id="c25" x1="0" y1="0" x2="0" y2="1"><stop offset="0.000" stop-color="#d0ea34"/><stop offset="0.009" stop-color="#cbed34"/><stop offset="0.011" stop-color="#c6f034"/><stop offset="0.021" stop-color="#affa37"/><stop offset="0.032" stop-color="#a7fc3a"/><stop offset="0.043" stop-color="#9ffd3f"/><stop offset="0.053" stop-color="#96fe44"/><stop offset="0.064" stop-color="#99fe42"/><stop offset="0.074" stop-color="#99fe42"/><stop offset="0.085" stop-color="#88ff4e"/><stop offset="0.096" stop-color="#75fe5c"/><stop offset="0.106" stop-color="#61fc6c"/><stop offset="0.117" stop-color="#5dfc6f"/><stop offset="0.128" stop-color="#5dfc6f"/><stop offset="0.138" stop-color="#4ef97d"/><stop offset="0.149" stop-color="#3cf58e"/><stop offset="0.170" stop-color="#22ebaa"/><stop offset="0.191" stop-color="#19e2bb"/><stop offset="0.213" stop-color="#19d5cd"/><stop offset="0.234" stop-color="#20c7df"/><stop offset="0.255" stop-color="#2ab9ee"/><stop offset="0.277" stop-color="#33adf7"/><stop offset="0.298" stop-color="#3ba0fd"/><stop offset="0.319" stop-color="#4294ff"/><stop offset="0.362" stop-color="#4680f6"/><stop offset="0.404" stop-color="#4773eb"/><stop offset="0.447" stop-color="#4666dd"/><stop offset="0.489" stop-color="#4559cb"/><stop offset="0.532" stop-color="#4454c3"/><stop offset="0.574" stop-color="#424bb5"/><stop offset="0.617" stop-color="#4146ac"/><stop offset="0.660" stop-color="#4143a7"/><stop offset="0.702" stop-color="#3f3e9c"/><stop offset="0.745" stop-color="#3f3b97"/><stop offset="0.830" stop-color="#3e3891"/><stop offset="0.915" stop-color="#3d358b"/><stop offset="1.000" stop-color="#3d358b"/></linearGradient><linearGradient id="c26" x1="0" y1="0" x2="0" y2="1"><stop offset="0.000" stop-color="#cdec34"/><stop offset="0.009" stop-color="#c6f034"/><stop offset="0.011" stop-color="#c3f134"/><stop offset="0.021" stop-color="#affa37"/><stop offset="0.032" stop-color="#a7fc3a"/><stop offset="0.043" stop-color="#9cfe40"/><stop offset="0.053" stop-color="#96fe44"/><stop offset="0.064" stop-color="#96fe44"/><stop offset="0.074" stop-color="#96fe44"/><stop offset="0.085" stop-color="#84ff51"/><stop offset="0.096" stop-color="#71fe5f"/><stop offset="0.106" stop-color="#5dfc6f"/><stop offset="0.117" stop-color="#5dfc6f"/><stop offset="0.128" stop-color="#5dfc6f"/><stop offset="0.138" stop-color="#4ef97d"/><stop offset="0.149" stop-color="#3cf58e"/><stop offset="0.170" stop-color="#22ebaa"/><stop offset="0.191" stop-color="#19e2bb"/><stop offset="0.213" stop-color="#19d5cd"/><stop offset="0.234" stop-color="#20c7df"/><stop offset="0.255" stop-color="#2ab9ee"/><stop offset="0.277" stop-color="#33adf7"/><stop offset="0.298" stop-color="#3ba0fd"/><stop offset="0.319" stop-color="#4294ff"/><stop offset="0.362" stop-color="#467df4"/><stop offset="0.404" stop-color="#4773eb"/><stop offset="0.447" stop-color="#4666dd"/><stop offset="0.489" stop-color="#4559cb"/><stop offset="0.532" stop-color="#4451bf"/><stop offset="0.574" stop-color="#424bb5"/><stop offset="0.617" stop-color="#4146ac"/><stop offset="0.660" stop-color="#4143a7"/><stop offset="0.702" stop-color="#3f3e9c"/><stop offset="0.745" stop-color="#3f3b97"/><stop offset="0.830" stop-color="#3e3891"/><stop offset="0.915" stop-color="#3d358b"/><stop offset="1.000" stop-color="#3d358b"/></linearGradient><linearGradient id="c27" x1="0" y1="0" x2="0" y2="1"><stop offset="0.000" stop-color="#c8ef34"/><stop offset="0.009" stop-color="#c3f134"/><stop offset="0.011" stop-color="#c1f334"/><stop offset="0.021" stop-color="#affa37"/><stop offset="0.032" stop-color="#a7fc3a"/><stop offset="0.043" stop-color="#9cfe40"/><stop offset="0.053" stop-color="#92ff47"/><stop offset="0.064" stop-color="#96fe44"/><stop offset="0.074" stop-color="#96fe44"/><stop offset="0.085" stop-color="#84ff51"/><stop offset="0.096" stop-color="#71fe5f"/><stop offset="0.106" stop-color="#5dfc6f"/><stop offset="0.117" stop-color="#5dfc6f"/><stop offset="0.128" stop-color="#5dfc6f"/><stop offset="0.138" stop-color="#4ef97d"/><stop offset="0.149" stop-color="#3cf58e"/><stop offset="0.170" stop-color="#20eaac"/><stop offset="0.191" stop-color="#19e2bb"/><stop offset="0.213" stop-color="#19d5cd"/><stop offset="0.234" stop-color="#20c7df"/><stop offset="0.255" stop-color="#2ab9ee"/><stop offset="0.277" stop-color="#33adf7"/><stop offset="0.298" stop-color="#3ba0fd"/><stop offset="0.319" stop-color="#4294ff"/><stop offset="0.362" stop-color="#4680f6"/><stop offset="0.404" stop-color="#4773eb"/><stop offset="0.447" stop-color="#4666dd"/><stop offset="0.489" stop-color="#455ccf"/><stop offset="0.532" stop-color="#4454c3"/><stop offset="0.574" stop-color="#424bb5"/><stop offset="0.617" stop-color="#4146ac"/><stop offset="0.660" stop-color="#4143a7"/><stop offset="0.702" stop-color="#3f3e9c"/><stop offset="0.745" stop-color="#3f3b97"/><stop offset="0.830" stop-color="#3e3891"/><stop offset="0.915" stop-color="#3d358b"/><stop offset="1.000" stop-color="#3d358b"/></linearGradient><linearGradient id="c28" x1="0" y1="0" x2="0" y2="1"><stop offset="0.000" stop-color="#c6f034"/><stop offset="0.009" stop-color="#c1f334"/><stop offset="0.011" stop-color="#bef434"/><stop offset="0.021" stop-color="#b1f936"/><stop offset="0.032" stop-color="#a7fc3a"/><stop offset="0.043" stop-color="#9cfe40"/><stop offset="0.053" stop-color="#92ff47"/><stop offset="0.064" stop-color="#92ff47"/><stop offset="0.074" stop-color="#96fe44"/><stop offset="0.085" stop-color="#84ff51"/><stop offset="0.096" stop-color="#71fe5f"/><stop offset="0.106" stop-color="#5dfc6f"/><stop offset="0.117" stop-color="#59fb73"/><stop offset="0.128" stop-color="#5dfc6f"/><stop offset="0.138" stop-color="#4ef97d"/><stop offset="0.149" stop-color="#3cf58e"/><stop offset="0.170" stop-color="#20eaac"/><stop offset="0.191" stop-color="#18e0bd"/><stop offset="0.213" stop-color="#19d5cd"/><stop offset="0.234" stop-color="#20c7df"/><stop offset="0.255" stop-color="#2ab9ee"/><stop offset="0.277" stop-color="#33adf7"/><stop offset="0.298" stop-color="#3ba0fd"/><stop offset="0.319" stop-color="#4294ff"/><stop offset="0.362" stop-color="#4680f6"/><stop offset="0.404" stop-color="#4773eb"/><stop offset="0.447" stop-color="#4666dd"/><stop offset="0.489" stop-color="#455ccf"/><stop offset="0.532" stop-color="#4454c3"/><stop offset="0.574" stop-color="#424bb5"/><stop offset="0.617" stop-color="#4146ac"/><stop offset="0.660" stop-color="#4143a7"/><stop offset="0.702" stop-color="#3f3e9c"/><stop offset="0.745" stop-color="#3f3b97"/><stop offset="0.830" stop-color="#3e3891"/><stop offset="0.915" stop-color="#3d358b"/><stop offset="1.000" stop-color="#3d358b"/></linearGradient><linearGradient id="c29" x1="0" y1="0" x2="0" y2="1"><stop offset="0.000" stop-color="#c1f334"/><stop offset="0.009" stop-color="#bef434"/><stop offset="0.011" stop-color="#bcf534"/><stop offset="0.021" stop-color="#b1f936"/><stop offset="0.032" stop-color="#a4fc3c"/><stop offset="0.043" stop-color="#99fe42"/><stop offset="0.053" stop-color="#8fff49"/><stop offset="0.064" stop-color="#92ff47"/><stop offset="0.074" stop-color="#92ff47"/><stop offset="0.085" stop-color="#80ff53"/><stop offset="0.096" stop-color="#6dfe62"/><stop offset="0.106" stop-color="#59fb73"/><stop offset="0.117" stop-color="#59fb73"/><stop offset="0.128" stop-color="#5dfc6f"/><stop offset="0.138" stop-color="#4ef97d"/><stop offset="0.149" stop-color="#3cf58e"/><stop offset="0.170" stop-color="#20eaac"/><stop offset="0.191" stop-color="#18e0bd"/><stop offset="0.213" stop-color="#19d5cd"/><stop offset="0.234" stop-color="#20c7df"/><stop offset="0.255" stop-color="#2ab9ee"/><stop offset="0.277" stop-color="#33adf7"/><stop offset="0.298" stop-color="#3ba0fd"/><stop offset="0.319" stop-color="#4294ff"/><stop offset="0.362" stop-color="#4680f6"/><stop offset="0.404" stop-color="#4776ee"/><stop offset="0.447" stop-color="#4669e0"/><stop offset="0.489" stop-color="#455ccf"/><stop offset="0.532" stop-color="#4454c3"/><stop offset="0.574" stop-color="#424bb5"/><stop offset="0.617" stop-color="#4146ac"/><stop offset="0.660" stop-color="#4143a7"/><stop offset="0.702" stop-color="#3f3e9c"/><stop offset="0.745" stop-color="#3f3b97"/><stop offset="0.830" stop-color="#3e3891"/><stop offset="0.915" stop-color="#3d358b"/><stop offset="1.000" stop-color="#3d358b"/></linearGradient><linearGradient id="c30" x1="0" y1="0" x2="0" y2="1"><stop offset="0.000" stop-color="#bcf534"/><stop offset="0.009" stop-color="#b9f635"/><stop offset="0.011" stop-color="#b9f635"/><stop offset="0.021" stop-color="#b1f936"/><stop offset="0.032" stop-color="#a4fc3c"/><stop offset="0.043" stop-color="#99fe42"/><stop offset="0.053" stop-color="#8fff49"/><stop offset="0.064" stop-color="#8fff49"/><stop offset="0.074" stop-color="#92ff47"/><stop offset="0.085" stop-color="#80ff53"/><stop offset="0.096" stop-color="#6dfe62"/><stop offset="0.106" stop-color="#59fb73"/><stop offset="0.117" stop-color="#59fb73"/><stop offset="0.128" stop-color="#5dfc6f"/><stop offset="0.138" stop-color="#4ef97d"/><stop offset="0.149" stop-color="#38f491"/><stop offset="0.170" stop-color="#20eaac"/><stop offset="0.191" stop-color="#18e0bd"/><stop offset="0.213" stop-color="#19d5cd"/><stop offset="0.234" stop-color="#20c7df"/><stop offset="0.255" stop-color="#2ab9ee"/><stop offset="0.277" stop-color="#33adf7"/><stop offset="0.298" stop-color="#3ba0fd"/><stop offset="0.319" stop-color="#4294ff"/><stop offset="0.362" stop-color="#4680f6"/><stop offset="0.404" stop-color="#4773eb"/><stop offset="0.447" stop-color="#4666dd"/><stop offset="0.489" stop-color="#455ccf"/><stop offset="0.532" stop-color="#4454c3"/><stop offset="0.574" stop-color="#424bb5"/><stop offset="0.617" stop-color="#4146ac"/><stop offset="0.660" stop-color="#4143a7"/><stop offset="0.702" stop-color="#3f3e9c"/><stop offset="0.745" stop-color="#3f3b97"/><stop offset="0.830" stop-color="#3e3891"/><stop offset="0.915" stop-color="#3d358b"/><stop offset="1.000" stop-color="#3d358b"/></linearGradient><linearGradient id="c31" x1="0" y1="0" x2="0" y2="1"><stop offset="0.000" stop-color="#b9f635"/><stop offset="0.009" stop-color="#b7f735"/><stop offset="0.011" stop-color="#b7f735"/><stop offset="0.021" stop-color="#b1f936"/><stop offset="0.032" stop-color="#a4fc3c"/><stop offset="0.043" stop-color="#99fe42"/><stop offset="0.053" stop-color="#8bff4b"/><stop offset="0.064" stop-color="#8fff49"/><stop offset="0.074" stop-color="#8fff49"/><stop offset="0.085" stop-color="#7dff56"/><stop offset="0.096" stop-color="#6dfe62"/><stop offset="0.106" stop-color="#59fb73"/><stop offset="0.117" stop-color="#59fb73"/><stop offset="0.128" stop-color="#59fb73"/><stop offset="0.138" stop-color="#4ef97d"/><stop offset="0.149" stop-color="#38f491"/><stop offset="0.170" stop-color="#20eaac"/><stop offset="0.191" stop-color="#18e0bd"/><stop offset="0.213" stop-color="#19d5cd"/><stop offset="0.234" stop-color="#20c7df"/><stop offset="0.255" stop-color="#2ab9ee"/><stop offset="0.277" stop-color="#33adf7"/><stop offset="0.298" stop-color="#3ba0fd"/><stop offset="0.319" stop-color="#4196ff"/><stop offset="0.362" stop-color="#4682f8"/><stop offset="0.404" stop-color="#4776ee"/><stop offset="0.447" stop-color="#4669e0"/><stop offset="0.489" stop-color="#455ccf"/><stop offset="0.532" stop-color="#4454c3"/><stop offset="0.574" stop-color="#424bb5"/><stop offset="0.617" stop-color="#4146ac"/><stop offset="0.660" stop-color="#4143a7"/><stop offset="0.702" stop-color="#3f3e9c"/><stop offset="0.745" stop-color="#3f3b97"/><stop offset="0.830" stop-color="#3e3891"/><stop offset="0.915" stop-color="#3d358b"/><stop offset="1.000" stop-color="#3d358b"/></linearGradient><linearGradient id="c32" x1="0" y1="0" x2="0" y2="1"><stop offset="0.000" stop-color="#b7f735"/><stop offset="0.009" stop-color="#b4f836"/><stop offset="0.011" stop-color="#b4f836"/><stop offset="0.021" stop-color="#affa37"/><stop offset="0.032" stop-color="#a4fc3c"/><stop offset="0.043" stop-color="#96fe44"/><stop offset="0.053" stop-color="#8bff4b"/><stop offset="0.064" stop-color="#8bff4b"/><stop offset="0.074" stop-color="#8fff49"/><stop offset="0.085" stop-color="#7dff56"/><stop offset="0.096" stop-color="#69fd66"/><stop offset="0.106" stop-color="#55fa76"/><stop offset="0.117" stop-color="#55fa76"/><stop offset="0.128" stop-color="#59fb73"/><stop offset="0.138" stop-color="#4af880"/><stop offset="0.149" stop-color="#38f491"/><stop offset="0.170" stop-color="#20eaac"/><stop offset="0.191" stop-color="#18e0bd"/><stop offset="0.213" stop-color="#19d5cd"/><stop offset="0.234" stop-color="#20c7df"/><stop offset="0.255" stop-color="#2ab9ee"/><stop offset="0.277" stop-color="#33adf7"/><stop offset="0.298" stop-color="#3ba0fd"/><stop offset="0.319" stop-color="#4196ff"/><stop offset="0.362" stop-color="#4682f8"/><stop offset="0.404" stop-color="#4776ee"/><stop offset="0.447" stop-color="#4669e0"/><stop offset="0.489" stop-color="#455ccf"/><stop offset="0.532" stop-color="#4454c3"/><stop offset="0.574" stop-color="#424bb5"/><stop offset="0.617" stop-color="#4146ac"/><stop offset="0.660" stop-color="#4143a7"/><stop offset="0.702" stop-color="#3f3e9c"/><stop offset="0.745" stop-color="#3f3b97"/><stop offset="0.830" stop-color="#3e3891"/><stop offset="0.915" stop-color="#3d358b"/><stop offset="1.000" stop-color="#3d358b"/></linearGradient><linearGradient id="c33" x1="0" y1="0" x2="0" y2="1"><stop offset="0.000" stop-color="#b7f735"/><stop offset="0.009" stop-color="#b4f836"/><stop offset="0.011" stop-color="#b4f836"/><stop offset="0.021" stop-color="#affa37"/><stop offset="0.032" stop-color="#a1fd3d"/><stop offset="0.043" stop-color="#96fe44"/><stop offset="0.053" stop-color="#88ff4e"/><stop offset="0.064" stop-color="#8bff4b"/><stop offset="0.074" stop-color="#8bff4b"/><stop offset="0.085" stop-color="#79fe59"/><stop offset="0.096" stop-color="#69fd66"/><stop offset="0.106" stop-color="#55fa76"/><stop offset="0.117" stop-color="#55fa76"/><stop offset="0.128" stop-color="#55fa76"/><stop offset="0.138" stop-color="#4af880"/><stop offset="0.149" stop-color="#38f491"/><stop offset="0.170" stop-color="#20eaac"/><stop offset="0.191" stop-color="#18e0bd"/><stop offset="0.213" stop-color="#19d5cd"/><stop offset="0.234" stop-color="#20c7df"/><stop offset="0.255" stop-color="#2ab9ee"/><stop offset="0.277" stop-color="#33adf7"/><stop offset="0.298" stop-color="#3ba0fd"/><stop offset="0.319" stop-color="#4294ff"/><stop offset="0.362" stop-color="#4680f6"/><stop offset="0.404" stop-color="#4773eb"/><stop offset="0.447" stop-color="#4666dd"/><stop offset="0.489" stop-color="#455ccf"/><stop offset="0.532" stop-color="#4454c3"/><stop offset="0.574" stop-color="#424bb5"/><stop offset="0.617" stop-color="#4146ac"/><stop offset="0.660" stop-color="#4143a7"/><stop offset="0.702" stop-color="#3f3e9c"/><stop offset="0.745" stop-color="#3f3b97"/><stop offset="0.830" stop-color="#3e3891"/><stop offset="0.915" stop-color="#3d358b"/><stop offset="1.000" stop-color="#3d358b"/></linearGradient><linearGradient id="c34" x1="0" y1="0" x2="0" y2="1"><stop offset="0.000" stop-color="#b4f836"/><stop offset="0.009" stop-color="#b1f936"/><stop offset="0.011" stop-color="#b1f936"/><stop offset="0.021" stop-color="#affa37"/><stop offset="0.032" stop-color="#a1fd3d"/><stop offset="0.043" stop-color="#92ff47"/><stop offset="0.053" stop-color="#88ff4e"/><stop offset="0.064" stop-color="#88ff4e"/><stop offset="0.074" stop-color="#88ff4e"/><stop offset="0.085" stop-color="#79fe59"/><stop offset="0.096" stop-color="#65fd69"/><stop offset="0.106" stop-color="#55fa76"/><stop offset="0.117" stop-color="#55fa76"/><stop offset="0.128" stop-color="#55fa76"/><stop offset="0.138" stop-color="#46f884"/><stop offset="0.149" stop-color="#35f394"/><stop offset="0.170" stop-color="#20eaac"/><stop offset="0.191" stop-color="#18e0bd"/><stop offset="0.213" stop-color="#19d5cd"/><stop offset="0.234" stop-color="#20c7df"/><stop offset="0.255" stop-color="#2ab9ee"/><stop offset="0.277" stop-color="#33adf7"/><stop offset="0.298" stop-color="#3ba0fd"/><stop offset="0.319" stop-color="#4294ff"/><stop offset="0.362" stop-color="#4680f6"/><stop offset="0.404" stop-color="#4773eb"/><stop offset="0.447" stop-color="#4666dd"/><stop offset="0.489" stop-color="#455ccf"/><stop offset="0.532" stop-color="#4454c3"/><stop offset="0.574" stop-color="#424bb5"/><stop offset="0.617" stop-color="#4146ac"/><stop offset="0.660" stop-color="#4143a7"/><stop offset="0.702" stop-color="#3f3e9c"/><stop offset="0.745" stop-color="#3f3b97"/><stop offset="0.830" stop-color="#3e3891"/><stop offset="0.915" stop-color="#3d358b"/><stop offset="1.000" stop-color="#3d358b"/></linearGradient><linearGradient id="c35" x1="0" y1="0" x2="0" y2="1"><stop offset="0.000" stop-color="#b4f836"/><stop offset="0.009" stop-color="#b1f936"/><stop offset="0.011" stop-color="#b1f936"/><stop offset="0.021" stop-color="#acfb38"/><stop offset="0.032" stop-color="#9ffd3f"/><stop offset="0.043" stop-color="#92ff47"/><stop offset="0.053" stop-color="#84ff51"/><stop offset="0.064" stop-color="#84ff51"/><stop offset="0.074" stop-color="#84ff51"/><stop offset="0.085" stop-color="#75fe5c"/><stop offset="0.096" stop-color="#65fd69"/><stop offset="0.106" stop-color="#55fa76"/><stop offset="0.117" stop-color="#52fa7a"/><stop offset="0.128" stop-color="#52fa7a"/><stop offset="0.138" stop-color="#46f884"/><stop offset="0.149" stop-color="#35f394"/><stop offset="0.170" stop-color="#20eaac"/><stop offset="0.191" stop-color="#18e0bd"/><stop offset="0.213" stop-color="#19d5cd"/><stop offset="0.234" stop-color="#20c7df"/><stop offset="0.255" stop-color="#2ab9ee"/><stop offset="0.277" stop-color="#33adf7"/><stop offset="0.298" stop-color="#3ba0fd"/><stop offset="0.319" stop-color="#4196ff"/><stop offset="0.362" stop-color="#4680f6"/><stop offset="0.404" stop-color="#4776ee"/><stop offset="0.447" stop-color="#4669e0"/><stop offset="0.489" stop-color="#455ccf"/><stop offset="0.532" stop-color="#4454c3"/><stop offset="0.574" stop-color="#424bb5"/><stop offset="0.617" stop-color="#4146ac"/><stop offset="0.660" stop-color="#4143a7"/><stop offset="0.702" stop-color="#3f3e9c"/><stop offset="0.745" stop-color="#3f3b97"/><stop offset="0.830" stop-color="#3e3891"/><stop offset="0.915" stop-color="#3d358b"/><stop offset="1.000" stop-color="#3d358b"/></linearGradient><linearGradient id="c36" x1="0" y1="0" x2="0" y2="1"><stop offset="0.000" stop-color="#b1f936"/><stop offset="0.009" stop-color="#b1f936"/><stop offset="0.011" stop-color="#affa37"/><stop offset="0.021" stop-color="#acfb38"/><stop offset="0.032" stop-color="#9ffd3f"/><stop offset="0.043" stop-color="#8fff49"/><stop offset="0.053" stop-color="#84ff51"/><stop offset="0.064" stop-color="#84ff51"/><stop offset="0.074" stop-color="#84ff51"/><stop offset="0.085" stop-color="#75fe5c"/><stop offset="0.096" stop-color="#65fd69"/><stop offset="0.106" stop-color="#55fa76"/><stop offset="0.117" stop-color="#52fa7a"/><stop offset="0.128" stop-color="#4ef97d"/><stop offset="0.138" stop-color="#43f787"/><stop offset="0.149" stop-color="#35f394"/><stop offset="0.170" stop-color="#20eaac"/><stop offset="0.191" stop-color="#18e0bd"/><stop offset="0.213" stop-color="#19d5cd"/><stop offset="0.234" stop-color="#20c7df"/><stop offset="0.255" stop-color="#2ab9ee"/><stop offset="0.277" stop-color="#33adf7"/><stop offset="0.298" stop-color="#3aa3fc"/><stop offset="0.319" stop-color="#4196ff"/><stop offset="0.362" stop-color="#4682f8"/><stop offset="0.404" stop-color="#4776ee"/><stop offset="0.447" stop-color="#4669e0"/><stop offset="0.489" stop-color="#455ccf"/><stop offset="0.532" stop-color="#4454c3"/><stop offset="0.574" stop-color="#424bb5"/><stop offset="0.617" stop-color="#4146ac"/><stop offset="0.660" stop-color="#4143a7"/><stop offset="0.702" stop-color="#3f3e9c"/><stop offset="0.745" stop-color="#3f3b97"/><stop offset="0.830" stop-color="#3e3891"/><stop offset="0.915" stop-color="#3d358b"/><stop offset="1.000" stop-color="#3d358b"/></linearGradient><linearGradient id="c37" x1="0" y1="0" x2="0" y2="1"><stop offset="0.000" stop-color="#b1f936"/><stop offset="0.009" stop-color="#affa37"/><stop offset="0.011" stop-color="#affa37"/><stop offset="0.021" stop-color="#a9fb39"/><stop offset="0.032" stop-color="#9ffd3f"/><stop offset="0.043" stop-color="#8fff49"/><stop offset="0.053" stop-color="#80ff53"/><stop offset="0.064" stop-color="#80ff53"/><stop offset="0.074" stop-color="#80ff53"/><stop offset="0.085" stop-color="#71fe5f"/><stop offset="0.096" stop-color="#61fc6c"/><stop offset="0.106" stop-color="#52fa7a"/><stop offset="0.117" stop-color="#4ef97d"/><stop offset="0.128" stop-color="#4ef97d"/><stop offset="0.138" stop-color="#3ff68a"/><stop offset="0.149" stop-color="#32f298"/><stop offset="0.170" stop-color="#1fe9af"/><stop offset="0.191" stop-color="#19e2bb"/><stop offset="0.213" stop-color="#19d5cd"/><stop offset="0.234" stop-color="#20c7df"/><stop offset="0.255" stop-color="#28bceb"/><stop offset="0.277" stop-color="#33adf7"/><stop offset="0.298" stop-color="#3aa3fc"/><stop offset="0.319" stop-color="#4196ff"/><stop offset="0.362" stop-color="#4682f8"/><stop offset="0.404" stop-color="#4776ee"/><stop offset="0.447" stop-color="#4669e0"/><stop offset="0.489" stop-color="#455ccf"/><stop offset="0.532" stop-color="#4454c3"/><stop offset="0.574" stop-color="#424bb5"/><stop offset="0.617" stop-color="#4146ac"/><stop offset="0.660" stop-color="#4143a7"/><stop offset="0.702" stop-color="#3f3e9c"/><stop offset="0.745" stop-color="#3f3b97"/><stop offset="0.830" stop-color="#3e3891"/><stop offset="0.915" stop-color="#3d358b"/><stop offset="1.000" stop-color="#3d358b"/></linearGradient><linearGradient id="c38" x1="0" y1="0" x2="0" y2="1"><stop offset="0.000" stop-color="#affa37"/><stop offset="0.009" stop-color="#affa37"/><stop offset="0.011" stop-color="#acfb38"/><stop offset="0.021" stop-color="#a9fb39"/><stop offset="0.032" stop-color="#9cfe40"/><stop offset="0.043" stop-color="#8bff4b"/><stop offset="0.053" stop-color="#7dff56"/><stop offset="0.064" stop-color="#7dff56"/><stop offset="0.074" stop-color="#7dff56"/><stop offset="0.085" stop-color="#71fe5f"/><stop offset="0.096" stop-color="#61fc6c"/><stop offset="0.106" stop-color="#52fa7a"/><stop offset="0.117" stop-color="#4ef97d"/><stop offset="0.128" stop-color="#4af880"/><stop offset="0.138" stop-color="#3ff68a"/><stop offset="0.149" stop-color="#32f298"/><stop offset="0.170" stop-color="#1fe9af"/><stop offset="0.191" stop-color="#19e2bb"/><stop offset="0.213" stop-color="#19d5cd"/><stop offset="0.234" stop-color="#1fc9dd"/><stop offset="0.255" stop-color="#28bceb"/><stop offset="0.277" stop-color="#31aff5"/><stop offset="0.298" stop-color="#3aa3fc"/><stop offset="0.319" stop-color="#4196ff"/><stop offset="0.362" stop-color="#4682f8"/><stop offset="0.404" stop-color="#4776ee"/><stop offset="0.447" stop-color="#4669e0"/><stop offset="0.489" stop-color="#455ccf"/><stop offset="0.532" stop-color="#4454c3"/><stop offset="0.574" stop-color="#424bb5"/><stop offset="0.617" stop-color="#4146ac"/><stop offset="0.660" stop-color="#4143a7"/><stop offset="0.702" stop-color="#3f3e9c"/><stop offset="0.745" stop-color="#3f3b97"/><stop offset="0.830" stop-color="#3e3891"/><stop offset="0.915" stop-color="#3d358b"/><stop offset="1.000" stop-color="#3d358b"/></linearGradient><linearGradient id="c39" x1="0" y1="0" x2="0" y2="1"><stop offset="0.000" stop-color="#affa37"/><stop offset="0.009" stop-color="#acfb38"/><stop offset="0.011" stop-color="#acfb38"/><stop offset="0.021" stop-color="#a7fc3a"/><stop offset="0.032" stop-color="#9cfe40"/><stop offset="0.043" stop-color="#8bff4b"/><stop offset="0.053" stop-color="#7dff56"/><stop offset="0.064" stop-color="#7dff56"/><stop offset="0.074" stop-color="#79fe59"/><stop offset="0.085" stop-color="#6dfe62"/><stop offset="0.096" stop-color="#5dfc6f"/><stop offset="0.106" stop-color="#52fa7a"/><stop offset="0.117" stop-color="#4ef97d"/><stop offset="0.128" stop-color="#46f884"/><stop offset="0.138" stop-color="#3cf58e"/><stop offset="0.149" stop-color="#2ff19b"/><stop offset="0.170" stop-color="#1fe9af"/><stop offset="0.191" stop-color="#19e2bb"/><stop offset="0.213" stop-color="#19d5cd"/><stop offset="0.234" stop-color="#1fc9dd"/><stop offset="0.255" stop-color="#28bceb"/><stop offset="0.277" stop-color="#31aff5"/><stop offset="0.298" stop-color="#3aa3fc"/><stop offset="0.319" stop-color="#4196ff"/><stop offset="0.362" stop-color="#4682f8"/><stop offset="0.404" stop-color="#4776ee"/><stop offset="0.447" stop-color="#4669e0"/><stop offset="0.489" stop-color="#455ccf"/><stop offset="0.532" stop-color="#4454c3"/><stop offset="0.574" stop-color="#424bb5"/><stop offset="0.617" stop-color="#4146ac"/><stop offset="0.660" stop-color="#4143a7"/><stop offset="0.702" stop-color="#3f3e9c"/><stop offset="0.745" stop-color="#3f3b97"/><stop offset="0.830" stop-color="#3e3891"/><stop offset="0.915" stop-color="#3d358b"/><stop offset="1.000" stop-color="#3d358b"/></linearGradient><linearGradient id="c40" x1="0" y1="0" x2="0" y2="1"><stop offset="0.000" stop-color="#affa37"/><stop offset="0.009" stop-color="#acfb38"/><stop offset="0.011" stop-color="#acfb38"/><stop offset="0.021" stop-color="#a7fc3a"/><stop offset="0.032" stop-color="#99fe42"/><stop offset="0.043" stop-color="#88ff4e"/><stop offset="0.053" stop-color="#79fe59"/><stop offset="0.064" stop-color="#79fe59"/><stop offset="0.074" stop-color="#79fe59"/><stop offset="0.085" stop-color="#69fd66"/><stop offset="0.096" stop-color="#5dfc6f"/><stop offset="0.106" stop-color="#52fa7a"/><stop offset="0.117" stop-color="#4af880"/><stop offset="0.128" stop-color="#46f884"/><stop offset="0.138" stop-color="#3cf58e"/><stop offset="0.149" stop-color="#2ff19b"/><stop offset="0.170" stop-color="#1fe9af"/><stop offset="0.191" stop-color="#19e2bb"/><stop offset="0.213" stop-color="#19d5cd"/><stop offset="0.234" stop-color="#1fc9dd"/><stop offset="0.255" stop-color="#28bceb"/><stop offset="0.277" stop-color="#31aff5"/><stop offset="0.298" stop-color="#3aa3fc"/><stop offset="0.319" stop-color="#4196ff"/><stop offset="0.362" stop-color="#4682f8"/><stop offset="0.404" stop-color="#4776ee"/><stop offset="0.447" stop-color="#4669e0"/><stop offset="0.489" stop-color="#455ccf"/><stop offset="0.532" stop-color="#4454c3"/><stop offset="0.574" stop-color="#424bb5"/><stop offset="0.617" stop-color="#4146ac"/><stop offset="0.660" stop-color="#4143a7"/><stop offset="0.702" stop-color="#3f3e9c"/><stop offset="0.745" stop-color="#3f3b97"/><stop offset="0.830" stop-color="#3e3891"/><stop offset="0.915" stop-color="#3d358b"/><stop offset="1.000" stop-color="#3d358b"/></linearGradient><linearGradient id="c41" x1="0" y1="0" x2="0" y2="1"><stop offset="0.000" stop-color="#acfb38"/><stop offset="0.009" stop-color="#acfb38"/><stop offset="0.011" stop-color="#a9fb39"/><stop offset="0.021" stop-color="#a7fc3a"/><stop offset="0.032" stop-color="#99fe42"/><stop offset="0.043" stop-color="#88ff4e"/><stop offset="0.053" stop-color="#79fe59"/><stop offset="0.064" stop-color="#75fe5c"/><stop offset="0.074" stop-color="#75fe5c"/><stop offset="0.085" stop-color="#69fd66"/><stop offset="0.096" stop-color="#5dfc6f"/><stop offset="0.106" stop-color="#52fa7a"/><stop offset="0.117" stop-color="#4af880"/><stop offset="0.128" stop-color="#43f787"/><stop offset="0.138" stop-color="#38f491"/><stop offset="0.149" stop-color="#2ff19b"/><stop offset="0.170" stop-color="#1fe9af"/><stop offset="0.191" stop-color="#19e2bb"/><stop offset="0.213" stop-color="#19d5cd"/><stop offset="0.234" stop-color="#1fc9dd"/><stop offset="0.255" stop-color="#28bceb"/><stop offset="0.277" stop-color="#31aff5"/><stop offset="0.298" stop-color="#3aa3fc"/><stop offset="0.319" stop-color="#4196ff"/><stop offset="0.362" stop-color="#4682f8"/><stop offset="0.404" stop-color="#4776ee"/><stop offset="0.447" stop-color="#4669e0"/><stop offset="0.489" stop-color="#455ccf"/><stop offset="0.532" stop-color="#4454c3"/><stop offset="0.574" stop-color="#424bb5"/><stop offset="0.617" stop-color="#4146ac"/><stop offset="0.660" stop-color="#4143a7"/><stop offset="0.702" stop-color="#3f3e9c"/><stop offset="0.745" stop-color="#3f3b97"/><stop offset="0.830" stop-color="#3e3891"/><stop offset="0.915" stop-color="#3d358b"/><stop offset="1.000" stop-color="#3d358b"/></linearGradient><linearGradient id="c42" x1="0" y1="0" x2="0" y2="1"><stop offset="0.000" stop-color="#acfb38"/><stop offset="0.009" stop-color="#a9fb39"/><stop offset="0.011" stop-color="#a9fb39"/><stop offset="0.021" stop-color="#a4fc3c"/><stop offset="0.032" stop-color="#96fe44"/><stop offset="0.043" stop-color="#84ff51"/><stop offset="0.053" stop-color="#75fe5c"/><stop offset="0.064" stop-color="#75fe5c"/><stop offset="0.074" stop-color="#71fe5f"/><stop offset="0.085" stop-color="#65fd69"/><stop offset="0.096" stop-color="#59fb73"/><stop offset="0.106" stop-color="#4ef97d"/><stop offset="0.117" stop-color="#46f884"/><stop offset="0.128" stop-color="#43f787"/><stop offset="0.138" stop-color="#38f491"/><stop offset="0.149" stop-color="#2cf09e"/><stop offset="0.170" stop-color="#1fe9af"/><stop offset="0.191" stop-color="#19e2bb"/><stop offset="0.213" stop-color="#19d5cd"/><stop offset="0.234" stop-color="#1fc9dd"/><stop offset="0.255" stop-color="#28bceb"/><stop offset="0.277" stop-color="#31aff5"/><stop offset="0.298" stop-color="#3aa3fc"/><stop offset="0.319" stop-color="#4196ff"/><stop offset="0.362" stop-color="#4682f8"/><stop offset="0.404" stop-color="#4776ee"/><stop offset="0.447" stop-color="#4669e0"/><stop offset="0.489" stop-color="#455ccf"/><stop offset="0.532" stop-color="#4454c3"/><stop offset="0.574" stop-color="#424bb5"/><stop offset="0.617" stop-color="#4249b1"/><stop offset="0.660" stop-color="#4143a7"/><stop offset="0.702" stop-color="#3f3e9c"/><stop offset="0.745" stop-color="#3f3b97"/><stop offset="0.830" stop-color="#3e3891"/><stop offset="0.915" stop-color="#3d358b"/><stop offset="1.000" stop-color="#3d358b"/></linearGradient><linearGradient id="c43" x1="0" y1="0" x2="0" y2="1"><stop offset="0.000" stop-color="#a9fb39"/><stop offset="0.009" stop-color="#a9fb39"/><stop offset="0.011" stop-color="#a7fc3a"/><stop offset="0.021" stop-color="#a4fc3c"/><stop offset="0.032" stop-color="#96fe44"/><stop offset="0.043" stop-color="#84ff51"/><stop offset="0.053" stop-color="#75fe5c"/><stop offset="0.064" stop-color="#71fe5f"/><stop offset="0.074" stop-color="#6dfe62"/><stop offset="0.085" stop-color="#65fd69"/><stop offset="0.096" stop-color="#59fb73"/><stop offset="0.106" stop-color="#4ef97d"/><stop offset="0.117" stop-color="#46f884"/><stop offset="0.128" stop-color="#3ff68a"/><stop offset="0.138" stop-color="#35f394"/><stop offset="0.149" stop-color="#2cf09e"/><stop offset="0.170" stop-color="#1fe9af"/><stop offset="0.191" stop-color="#19e2bb"/><stop offset="0.213" stop-color="#19d5cd"/><stop offset="0.234" stop-color="#1fc9dd"/><stop offset="0.255" stop-color="#28bceb"/><stop offset="0.277" stop-color="#31aff5"/><stop offset="0.298" stop-color="#3aa3fc"/><stop offset="0.319" stop-color="#4099ff"/><stop offset="0.362" stop-color="#4682f8"/><stop offset="0.404" stop-color="#4776ee"/><stop offset="0.447" stop-color="#4669e0"/><stop offset="0.489" stop-color="#455ccf"/><stop offset="0.532" stop-color="#4454c3"/><stop offset="0.574" stop-color="#424bb5"/><stop offset="0.617" stop-color="#4249b1"/><stop offset="0.660" stop-color="#4143a7"/><stop offset="0.702" stop-color="#3f3e9c"/><stop offset="0.745" stop-color="#3f3b97"/><stop offset="0.830" stop-color="#3e3891"/><stop offset="0.915" stop-color="#3d358b"/><stop offset="1.000" stop-color="#3d358b"/></linearGradient><linearGradient id="c44" x1="0" y1="0" x2="0" y2="1"><stop offset="0.000" stop-color="#a9fb39"/><stop offset="0.009" stop-color="#a7fc3a"/><stop offset="0.011" stop-color="#a7fc3a"/><stop offset="0.021" stop-color="#a1fd3d"/><stop offset="0.032" stop-color="#92ff47"/><stop offset="0.043" stop-color="#80ff53"/><stop offset="0.053" stop-color="#71fe5f"/><stop offset="0.064" stop-color="#6dfe62"/><stop offset="0.074" stop-color="#6dfe62"/><stop offset="0.085" stop-color="#61fc6c"/><stop offset="0.096" stop-color="#59fb73"/><stop offset="0.106" stop-color="#4ef97d"/><stop offset="0.117" stop-color="#46f884"/><stop offset="0.128" stop-color="#3cf58e"/><stop offset="0.138" stop-color="#32f298"/><stop offset="0.149" stop-color="#2aefa1"/><stop offset="0.170" stop-color="#1fe9af"/><stop offset="0.191" stop-color="#19e2bb"/><stop offset="0.213" stop-color="#19d5cd"/><stop offset="0.234" stop-color="#1fc9dd"/><stop offset="0.255" stop-color="#28bceb"/><stop offset="0.277" stop-color="#31aff5"/><stop offset="0.298" stop-color="#38a5fb"/><stop offset="0.319" stop-color="#4099ff"/><stop offset="0.362" stop-color="#4682f8"/><stop offset="0.404" stop-color="#4776ee"/><stop offset="0.447" stop-color="#4669e0"/><stop offset="0.489" stop-color="#455ccf"/><stop offset="0.532" stop-color="#4454c3"/><stop offset="0.574" stop-color="#424bb5"/><stop offset="0.617" stop-color="#4249b1"/><stop offset="0.660" stop-color="#4143a7"/><stop offset="0.702" stop-color="#3f3e9c"/><stop offset="0.745" stop-color="#3f3b97"/><stop offset="0.830" stop-color="#3e3891"/><stop offset="0.915" stop-color="#3d358b"/><stop offset="1.000" stop-color="#3d358b"/></linearGradient><linearGradient id="c45" x1="0" y1="0" x2="0" y2="1"><stop offset="0.000" stop-color="#a7fc3a"/><stop offset="0.009" stop-color="#a7fc3a"/><stop offset="0.011" stop-color="#a7fc3a"/><stop offset="0.021" stop-color="#a1fd3d"/><stop offset="0.032" stop-color="#92ff47"/><stop offset="0.043" stop-color="#80ff53"/><stop offset="0.053" stop-color="#71fe5f"/><stop offset="0.064" stop-color="#6dfe62"/><stop offset="0.074" stop-color="#69fd66"/><stop offset="0.085" stop-color="#5dfc6f"/><stop offset="0.096" stop-color="#55fa76"/><stop offset="0.106" stop-color="#4ef97d"/><stop offset="0.117" stop-color="#43f787"/><stop offset="0.128" stop-color="#3cf58e"/><stop offset="0.138" stop-color="#32f298"/><stop offset="0.149" stop-color="#2aefa1"/><stop offset="0.170" stop-color="#1fe9af"/><stop offset="0.191" stop-color="#19e2bb"/><stop offset="0.213" stop-color="#19d5cd"/><stop offset="0.234" stop-color="#1fc9dd"/><stop offset="0.255" stop-color="#28bceb"/><stop offset="0.277" stop-color="#31aff5"/><stop offset="0.298" stop-color="#38a5fb"/><stop offset="0.319" stop-color="#4099ff"/><stop offset="0.362" stop-color="#4685fa"/><stop offset="0.404" stop-color="#4778f0"/><stop offset="0.447" stop-color="#4669e0"/><stop offset="0.489" stop-color="#455ccf"/><stop offset="0.532" stop-color="#4454c3"/><stop offset="0.574" stop-color="#424bb5"/><stop offset="0.617" stop-color="#4249b1"/><stop offset="0.660" stop-color="#4143a7"/><stop offset="0.702" stop-color="#3f3e9c"/><stop offset="0.745" stop-color="#3f3b97"/><stop offset="0.830" stop-color="#3e3891"/><stop offset="0.915" stop-color="#3d358b"/><stop offset="1.000" stop-color="#3d358b"/></linearGradient><linearGradient id="c46" x1="0" y1="0" x2="0" y2="1"><stop offset="0.000" stop-color="#a7fc3a"/><stop offset="0.009" stop-color="#a4fc3c"/><stop offset="0.011" stop-color="#a4fc3c"/><stop offset="0.021" stop-color="#a1fd3d"/><stop offset="0.032" stop-color="#8fff49"/><stop offset="0.043" stop-color="#7dff56"/><stop offset="0.053" stop-color="#6dfe62"/><stop offset="0.064" stop-color="#69fd66"/><stop offset="0.074" stop-color="#65fd69"/><stop offset="0.085" stop-color="#5dfc6f"/><stop offset="0.096" stop-color="#55fa76"/><stop offset="0.106" stop-color="#4ef97d"/><stop offset="0.117" stop-color="#43f787"/><stop offset="0.128" stop-color="#38f491"/><stop offset="0.138" stop-color="#2ff19b"/><stop offset="0.149" stop-color="#2aefa1"/><stop offset="0.170" stop-color="#1fe9af"/><stop offset="0.191" stop-color="#19e2bb"/><stop offset="0.213" stop-color="#19d5cd"/><stop offset="0.234" stop-color="#1fc9dd"/><stop offset="0.255" stop-color="#27bee9"/><stop offset="0.277" stop-color="#2fb2f4"/><stop offset="0.298" stop-color="#38a5fb"/><stop offset="0.319" stop-color="#3e9bfe"/><stop offset="0.362" stop-color="#4687fb"/><stop offset="0.404" stop-color="#4778f0"/><stop offset="0.447" stop-color="#466be3"/><stop offset="0.489" stop-color="#455ed3"/><stop offset="0.532" stop-color="#4456c7"/><stop offset="0.574" stop-color="#434eba"/><stop offset="0.617" stop-color="#4249b1"/><stop offset="0.660" stop-color="#4143a7"/><stop offset="0.702" stop-color="#3f3e9c"/><stop offset="0.745" stop-color="#3f3b97"/><stop offset="0.830" stop-color="#3e3891"/><stop offset="0.915" stop-color="#3d358b"/><stop offset="1.000" stop-color="#3d358b"/></linearGradient><linearGradient id="c47" x1="0" y1="0" x2="0" y2="1"><stop offset="0.000" stop-color="#a4fc3c"/><stop offset="0.009" stop-color="#a1fd3d"/><stop offset="0.011" stop-color="#a1fd3d"/><stop offset="0.021" stop-color="#9cfe40"/><stop offset="0.032" stop-color="#8bff4b"/><stop offset="0.043" stop-color="#79fe59"/><stop offset="0.053" stop-color="#69fd66"/><stop offset="0.064" stop-color="#65fd69"/><stop offset="0.074" stop-color="#61fc6c"/><stop offset="0.085" stop-color="#59fb73"/><stop offset="0.096" stop-color="#52fa7a"/><stop offset="0.106" stop-color="#4af880"/><stop offset="0.117" stop-color="#3ff68a"/><stop offset="0.128" stop-color="#35f394"/><stop offset="0.138" stop-color="#2cf09e"/><stop offset="0.149" stop-color="#27eea4"/><stop offset="0.170" stop-color="#1de7b2"/><stop offset="0.191" stop-color="#18e0bd"/><stop offset="0.213" stop-color="#19d5cd"/><stop offset="0.234" stop-color="#1fc9dd"/><stop offset="0.255" stop-color="#28bceb"/><stop offset="0.277" stop-color="#2fb2f4"/><stop offset="0.298" stop-color="#38a5fb"/><stop offset="0.319" stop-color="#3e9bfe"/><stop offset="0.362" stop-color="#4687fb"/><stop offset="0.404" stop-color="#477bf2"/><stop offset="0.447" stop-color="#466be3"/><stop offset="0.489" stop-color="#455ed3"/><stop offset="0.532" stop-color="#4456c7"/><stop offset="0.574" stop-color="#434eba"/><stop offset="0.617" stop-color="#4249b1"/><stop offset="0.660" stop-color="#4143a7"/><stop offset="0.702" stop-color="#3f3e9c"/><stop offset="0.745" stop-color="#3f3b97"/><stop offset="0.830" stop-color="#3e3891"/><stop offset="0.915" stop-color="#3d358b"/><stop offset="1.000" stop-color="#3d358b"/></linearGradient><linearGradient id="c48" x1="0" y1="0" x2="0" y2="1"><stop offset="0.000" stop-color="#a1fd3d"/><stop offset="0.009" stop-color="#9ffd3f"/><stop offset="0.011" stop-color="#9ffd3f"/><stop offset="0.021" stop-color="#96fe44"/><stop offset="0.032" stop-color="#84ff51"/><stop offset="0.043" stop-color="#71fe5f"/><stop offset="0.053" stop-color="#61fc6c"/><stop offset="0.064" stop-color="#5dfc6f"/><stop offset="0.074" stop-color="#55fa76"/><stop offset="0.085" stop-color="#52fa7a"/><stop offset="0.096" stop-color="#4af880"/><stop offset="0.106" stop-color="#43f787"/><stop offset="0.117" stop-color="#38f491"/><stop offset="0.128" stop-color="#2ff19b"/><stop offset="0.138" stop-color="#2aefa1"/><stop offset="0.149" stop-color="#25eca7"/><stop offset="0.170" stop-color="#1ce6b4"/><stop offset="0.191" stop-color="#18dec0"/><stop offset="0.213" stop-color="#1ad4d0"/><stop offset="0.234" stop-color="#20c7df"/><stop offset="0.255" stop-color="#28bceb"/><stop offset="0.277" stop-color="#31aff5"/><stop offset="0.298" stop-color="#38a5fb"/><stop offset="0.319" stop-color="#3e9bfe"/><stop offset="0.362" stop-color="#458afc"/><stop offset="0.404" stop-color="#477bf2"/><stop offset="0.447" stop-color="#466be3"/><stop offset="0.489" stop-color="#455ed3"/><stop offset="0.532" stop-color="#4456c7"/><stop offset="0.574" stop-color="#434eba"/><stop offset="0.617" stop-color="#4249b1"/><stop offset="0.660" stop-color="#4143a7"/><stop offset="0.702" stop-color="#3f3e9c"/><stop offset="0.745" stop-color="#3f3b97"/><stop offset="0.830" stop-color="#3e3891"/><stop offset="0.915" stop-color="#3d358b"/><stop offset="1.000" stop-color="#3d358b"/></linearGradient><linearGradient id="c49" x1="0" y1="0" x2="0" y2="1"><stop offset="0.000" stop-color="#9ffd3f"/><stop offset="0.009" stop-color="#9cfe40"/><stop offset="0.011" stop-color="#99fe42"/><stop offset="0.021" stop-color="#8fff49"/><stop offset="0.032" stop-color="#7dff56"/><stop offset="0.043" stop-color="#69fd66"/><stop offset="0.053" stop-color="#59fb73"/><stop offset="0.064" stop-color="#52fa7a"/><stop offset="0.074" stop-color="#4ef97d"/><stop offset="0.085" stop-color="#4af880"/><stop offset="0.096" stop-color="#43f787"/><stop offset="0.106" stop-color="#3cf58e"/><stop offset="0.117" stop-color="#32f298"/><stop offset="0.128" stop-color="#2cf09e"/><stop offset="0.138" stop-color="#25eca7"/><stop offset="0.149" stop-color="#20eaac"/><stop offset="0.170" stop-color="#1ae4b6"/><stop offset="0.191" stop-color="#18ddc2"/><stop offset="0.213" stop-color="#1ad2d2"/><stop offset="0.234" stop-color="#22c5e2"/><stop offset="0.255" stop-color="#2ab9ee"/><stop offset="0.277" stop-color="#31aff5"/><stop offset="0.298" stop-color="#38a5fb"/><stop offset="0.319" stop-color="#3e9bfe"/><stop offset="0.362" stop-color="#458afc"/><stop offset="0.404" stop-color="#477bf2"/><stop offset="0.447" stop-color="#466be3"/><stop offset="0.489" stop-color="#455ed3"/><stop offset="0.532" stop-color="#4456c7"/><stop offset="0.574" stop-color="#434eba"/><stop offset="0.617" stop-color="#4249b1"/><stop offset="0.660" stop-color="#4143a7"/><stop offset="0.702" stop-color="#3f3e9c"/><stop offset="0.745" stop-color="#3f3b97"/><stop offset="0.830" stop-color="#3e3891"/><stop offset="0.915" stop-color="#3d358b"/><stop offset="1.000" stop-color="#3d358b"/></linearGradient><linearGradient id="c50" x1="0" y1="0" x2="0" y2="1"><stop offset="0.000" stop-color="#99fe42"/><stop offset="0.009" stop-color="#96fe44"/><stop offset="0.011" stop-color="#96fe44"/><stop offset="0.021" stop-color="#88ff4e"/><stop offset="0.032" stop-color="#75fe5c"/><stop offset="0.043" stop-color="#61fc6c"/><stop offset="0.053" stop-color="#4ef97d"/><stop offset="0.064" stop-color="#4af880"/><stop offset="0.074" stop-color="#46f884"/><stop offset="0.085" stop-color="#43f787"/><stop offset="0.096" stop-color="#3cf58e"/><stop offset="0.106" stop-color="#35f394"/><stop offset="0.117" stop-color="#2ff19b"/><stop offset="0.128" stop-color="#27eea4"/><stop offset="0.138" stop-color="#22ebaa"/><stop offset="0.149" stop-color="#1fe9af"/><stop offset="0.170" stop-color="#19e3b9"/><stop offset="0.191" stop-color="#18dbc5"/><stop offset="0.213" stop-color="#1bd0d5"/><stop offset="0.234" stop-color="#23c3e4"/><stop offset="0.255" stop-color="#2cb7f0"/><stop offset="0.277" stop-color="#33adf7"/><stop offset="0.298" stop-color="#3aa3fc"/><stop offset="0.319" stop-color="#3e9bfe"/><stop offset="0.362" stop-color="#458afc"/><stop offset="0.404" stop-color="#477bf2"/><stop offset="0.447" stop-color="#466be3"/><stop offset="0.489" stop-color="#455ed3"/><stop offset="0.532" stop-color="#4456c7"/><stop offset="0.574" stop-color="#434eba"/><stop offset="0.617" stop-color="#4249b1"/><stop offset="0.660" stop-color="#4143a7"/><stop offset="0.702" stop-color="#3f3e9c"/><stop offset="0.745" stop-color="#3f3b97"/><stop offset="0.830" stop-color="#3e3891"/><stop offset="0.915" stop-color="#3d358b"/><stop offset="1.000" stop-color="#3d358b"/></linearGradient><linearGradient id="c51" x1="0" y1="0" x2="0" y2="1"><stop offset="0.000" stop-color="#96fe44"/><stop offset="0.009" stop-color="#92ff47"/><stop offset="0.011" stop-color="#8fff49"/><stop offset="0.021" stop-color="#7dff56"/><stop offset="0.032" stop-color="#69fd66"/><stop offset="0.043" stop-color="#55fa76"/><stop offset="0.053" stop-color="#46f884"/><stop offset="0.064" stop-color="#43f787"/><stop offset="0.074" stop-color="#3ff68a"/><stop offset="0.085" stop-color="#38f491"/><stop offset="0.096" stop-color="#35f394"/><stop offset="0.106" stop-color="#2ff19b"/><stop offset="0.117" stop-color="#2aefa1"/><stop offset="0.128" stop-color="#25eca7"/><stop offset="0.138" stop-color="#1fe9af"/><stop offset="0.149" stop-color="#1ce6b4"/><stop offset="0.170" stop-color="#19e2bb"/><stop offset="0.191" stop-color="#18d9c8"/><stop offset="0.213" stop-color="#1ccdd8"/><stop offset="0.234" stop-color="#25c0e7"/><stop offset="0.255" stop-color="#2eb4f2"/><stop offset="0.277" stop-color="#33adf7"/><stop offset="0.298" stop-color="#3aa3fc"/><stop offset="0.319" stop-color="#3e9bfe"/><stop offset="0.362" stop-color="#458afc"/><stop offset="0.404" stop-color="#477bf2"/><stop offset="0.447" stop-color="#466be3"/><stop offset="0.489" stop-color="#455ed3"/><stop offset="0.532" stop-color="#4456c7"/><stop offset="0.574" stop-color="#434eba"/><stop offset="0.617" stop-color="#4249b1"/><stop offset="0.660" stop-color="#4143a7"/><stop offset="0.702" stop-color="#3f3e9c"/><stop offset="0.745" stop-color="#3f3b97"/><stop offset="0.830" stop-color="#3e3891"/><stop offset="0.915" stop-color="#3d358b"/><stop offset="1.000" stop-color="#3d358b"/></linearGradient><linearGradient id="c52" x1="0" y1="0" x2="0" y2="1"><stop offset="0.000" stop-color="#92ff47"/><stop offset="0.009" stop-color="#8bff4b"/><stop offset="0.011" stop-color="#88ff4e"/><stop offset="0.021" stop-color="#75fe5c"/><stop offset="0.032" stop-color="#61fc6c"/><stop offset="0.043" stop-color="#4ef97d"/><stop offset="0.053" stop-color="#3ff68a"/><stop offset="0.064" stop-color="#3cf58e"/><stop offset="0.074" stop-color="#38f491"/><stop offset="0.085" stop-color="#32f298"/><stop offset="0.096" stop-color="#2ff19b"/><stop offset="0.106" stop-color="#2aefa1"/><stop offset="0.117" stop-color="#25eca7"/><stop offset="0.128" stop-color="#20eaac"/><stop offset="0.138" stop-color="#1de7b2"/><stop offset="0.149" stop-color="#1ae4b6"/><stop offset="0.170" stop-color="#18dec0"/><stop offset="0.191" stop-color="#18d7ca"/><stop offset="0.213" stop-color="#1ecbda"/><stop offset="0.234" stop-color="#27bee9"/><stop offset="0.255" stop-color="#2eb4f2"/><stop offset="0.277" stop-color="#35abf8"/><stop offset="0.298" stop-color="#3aa3fc"/><stop offset="0.319" stop-color="#4099ff"/><stop offset="0.362" stop-color="#458afc"/><stop offset="0.404" stop-color="#467df4"/><stop offset="0.447" stop-color="#476ee6"/><stop offset="0.489" stop-color="#4661d6"/><stop offset="0.532" stop-color="#4456c7"/><stop offset="0.574" stop-color="#434eba"/><stop offset="0.617" stop-color="#4249b1"/><stop offset="0.660" stop-color="#4143a7"/><stop offset="0.702" stop-color="#3f3e9c"/><stop offset="0.745" stop-color="#3f3b97"/><stop offset="0.830" stop-color="#3e3891"/><stop offset="0.915" stop-color="#3d358b"/><stop offset="1.000" stop-color="#3d358b"/></linearGradient><linearGradient id="c53" x1="0" y1="0" x2="0" y2="1"><stop offset="0.000" stop-color="#8bff4b"/><stop offset="0.009" stop-color="#88ff4e"/><stop offset="0.011" stop-color="#84ff51"/><stop offset="0.021" stop-color="#6dfe62"/><stop offset="0.032" stop-color="#59fb73"/><stop offset="0.043" stop-color="#46f884"/><stop offset="0.053" stop-color="#38f491"/><stop offset="0.064" stop-color="#35f394"/><stop offset="0.074" stop-color="#32f298"/><stop offset="0.085" stop-color="#2cf09e"/><stop offset="0.096" stop-color="#2aefa1"/><stop offset="0.106" stop-color="#27eea4"/><stop offset="0.117" stop-color="#22ebaa"/><stop offset="0.128" stop-color="#1de7b2"/><stop offset="0.138" stop-color="#1ce6b4"/><stop offset="0.149" stop-color="#19e3b9"/><stop offset="0.170" stop-color="#18ddc2"/><stop offset="0.191" stop-color="#19d5cd"/><stop offset="0.213" stop-color="#1fc9dd"/><stop offset="0.234" stop-color="#27bee9"/><stop offset="0.255" stop-color="#2fb2f4"/><stop offset="0.277" stop-color="#35abf8"/><stop offset="0.298" stop-color="#3aa3fc"/><stop offset="0.319" stop-color="#3e9bfe"/><stop offset="0.362" stop-color="#458cfd"/><stop offset="0.404" stop-color="#467df4"/><stop offset="0.447" stop-color="#476ee6"/><stop offset="0.489" stop-color="#4661d6"/><stop offset="0.532" stop-color="#4559cb"/><stop offset="0.574" stop-color="#4451bf"/><stop offset="0.617" stop-color="#4249b1"/><stop offset="0.660" stop-color="#4146ac"/><stop offset="0.702" stop-color="#3f3e9c"/><stop offset="0.745" stop-color="#3f3b97"/><stop offset="0.830" stop-color="#3e3891"/><stop offset="0.915" stop-color="#3d358b"/><stop offset="1.000" stop-color="#3d358b"/></linearGradient><linearGradient id="c54" x1="0" y1="0" x2="0" y2="1"><stop offset="0.000" stop-color="#88ff4e"/><stop offset="0.009" stop-color="#84ff51"/><stop offset="0.011" stop-color="#7dff56"/><stop offset="0.021" stop-color="#65fd69"/><stop offset="0.032" stop-color="#52fa7a"/><stop offset="0.043" stop-color="#3ff68a"/><stop offset="0.053" stop-color="#32f298"/><stop offset="0.064" stop-color="#2ff19b"/><stop offset="0.074" stop-color="#2cf09e"/><stop offset="0.085" stop-color="#27eea4"/><stop offset="0.096" stop-color="#25eca7"/><stop offset="0.106" stop-color="#22ebaa"/><stop offset="0.117" stop-color="#1fe9af"/><stop offset="0.128" stop-color="#1ce6b4"/><stop offset="0.138" stop-color="#19e3b9"/><stop offset="0.149" stop-color="#18e0bd"/><stop offset="0.170" stop-color="#18dbc5"/><stop offset="0.191" stop-color="#1ad4d0"/><stop offset="0.213" stop-color="#20c7df"/><stop offset="0.234" stop-color="#28bceb"/><stop offset="0.255" stop-color="#31aff5"/><stop offset="0.277" stop-color="#37a8fa"/><stop offset="0.298" stop-color="#3ba0fd"/><stop offset="0.319" stop-color="#4099ff"/><stop offset="0.362" stop-color="#458afc"/><stop offset="0.404" stop-color="#467df4"/><stop offset="0.447" stop-color="#476ee6"/><stop offset="0.489" stop-color="#4661d6"/><stop offset="0.532" stop-color="#4559cb"/><stop offset="0.574" stop-color="#4451bf"/><stop offset="0.617" stop-color="#4249b1"/><stop offset="0.660" stop-color="#4146ac"/><stop offset="0.702" stop-color="#3f3e9c"/><stop offset="0.745" stop-color="#3f3b97"/><stop offset="0.830" stop-color="#3e3891"/><stop offset="0.915" stop-color="#3d358b"/><stop offset="1.000" stop-color="#3d358b"/></linearGradient><linearGradient id="c55" x1="0" y1="0" x2="0" y2="1"><stop offset="0.000" stop-color="#84ff51"/><stop offset="0.009" stop-color="#7dff56"/><stop offset="0.011" stop-color="#79fe59"/><stop offset="0.021" stop-color="#59fb73"/><stop offset="0.032" stop-color="#4af880"/><stop offset="0.043" stop-color="#38f491"/><stop offset="0.053" stop-color="#2cf09e"/><stop offset="0.064" stop-color="#2aefa1"/><stop offset="0.074" stop-color="#27eea4"/><stop offset="0.085" stop-color="#22ebaa"/><stop offset="0.096" stop-color="#20eaac"/><stop offset="0.106" stop-color="#1fe9af"/><stop offset="0.117" stop-color="#1ce6b4"/><stop offset="0.128" stop-color="#19e3b9"/><stop offset="0.138" stop-color="#19e2bb"/><stop offset="0.149" stop-color="#18dec0"/><stop offset="0.170" stop-color="#18d9c8"/><stop offset="0.191" stop-color="#1ad2d2"/><stop offset="0.213" stop-color="#22c5e2"/><stop offset="0.234" stop-color="#2ab9ee"/><stop offset="0.255" stop-color="#31aff5"/><stop offset="0.277" stop-color="#38a5fb"/><stop offset="0.298" stop-color="#3ba0fd"/><stop offset="0.319" stop-color="#4099ff"/><stop offset="0.362" stop-color="#458afc"/><stop offset="0.404" stop-color="#467df4"/><stop offset="0.447" stop-color="#476ee6"/><stop offset="0.489" stop-color="#4661d6"/><stop offset="0.532" stop-color="#4559cb"/><stop offset="0.574" stop-color="#4451bf"/><stop offset="0.617" stop-color="#4249b1"/><stop offset="0.660" stop-color="#4146ac"/><stop offset="0.702" stop-color="#3f3e9c"/><stop offset="0.745" stop-color="#3f3b97"/><stop offset="0.830" stop-color="#3e3891"/><stop offset="0.915" stop-color="#3d358b"/><stop offset="1.000" stop-color="#3d358b"/></linearGradient><linearGradient id="c56" x1="0" y1="0" x2="0" y2="1"><stop offset="0.000" stop-color="#7dff56"/><stop offset="0.009" stop-color="#79fe59"/><stop offset="0.011" stop-color="#71fe5f"/><stop offset="0.021" stop-color="#52fa7a"/><stop offset="0.032" stop-color="#3ff68a"/><stop offset="0.043" stop-color="#32f298"/><stop offset="0.053" stop-color="#27eea4"/><stop offset="0.064" stop-color="#25eca7"/><stop offset="0.074" stop-color="#20eaac"/><stop offset="0.085" stop-color="#1fe9af"/><stop offset="0.096" stop-color="#1de7b2"/><stop offset="0.106" stop-color="#1ce6b4"/><stop offset="0.117" stop-color="#19e3b9"/><stop offset="0.128" stop-color="#19e2bb"/><stop offset="0.138" stop-color="#18dec0"/><stop offset="0.149" stop-color="#18ddc2"/><stop offset="0.170" stop-color="#18d7ca"/><stop offset="0.191" stop-color="#1bd0d5"/><stop offset="0.213" stop-color="#23c3e4"/><stop offset="0.234" stop-color="#2cb7f0"/><stop offset="0.255" stop-color="#33adf7"/><stop offset="0.277" stop-color="#38a5fb"/><stop offset="0.298" stop-color="#3d9efe"/><stop offset="0.319" stop-color="#4099ff"/><stop offset="0.362" stop-color="#458cfd"/><stop offset="0.404" stop-color="#467df4"/><stop offset="0.447" stop-color="#476ee6"/><stop offset="0.489" stop-color="#4661d6"/><stop offset="0.532" stop-color="#4559cb"/><stop offset="0.574" stop-color="#4451bf"/><stop offset="0.617" stop-color="#4249b1"/><stop offset="0.660" stop-color="#4146ac"/><stop offset="0.702" stop-color="#3f3e9c"/><stop offset="0.745" stop-color="#3f3b97"/><stop offset="0.830" stop-color="#3e3891"/><stop offset="0.915" stop-color="#3d358b"/><stop offset="1.000" stop-color="#3d358b"/></linearGradient><linearGradient id="c57" x1="0" y1="0" x2="0" y2="1"><stop offset="0.000" stop-color="#79fe59"/><stop offset="0.009" stop-color="#71fe5f"/><stop offset="0.011" stop-color="#6dfe62"/><stop offset="0.021" stop-color="#4af880"/><stop offset="0.032" stop-color="#38f491"/><stop offset="0.043" stop-color="#2aefa1"/><stop offset="0.053" stop-color="#22ebaa"/><stop offset="0.064" stop-color="#1fe9af"/><stop offset="0.074" stop-color="#1de7b2"/><stop offset="0.085" stop-color="#1ce6b4"/><stop offset="0.096" stop-color="#1ae4b6"/><stop offset="0.106" stop-color="#19e3b9"/><stop offset="0.117" stop-color="#19e2bb"/><stop offset="0.128" stop-color="#18dec0"/><stop offset="0.138" stop-color="#18ddc2"/><stop offset="0.149" stop-color="#18d9c8"/><stop offset="0.170" stop-color="#19d5cd"/><stop offset="0.191" stop-color="#1ccdd8"/><stop offset="0.213" stop-color="#25c0e7"/><stop offset="0.234" stop-color="#2eb4f2"/><stop offset="0.255" stop-color="#35abf8"/><stop offset="0.277" stop-color="#3aa3fc"/><stop offset="0.298" stop-color="#3d9efe"/><stop offset="0.319" stop-color="#4099ff"/><stop offset="0.362" stop-color="#458cfd"/><stop offset="0.404" stop-color="#467df4"/><stop offset="0.447" stop-color="#476ee6"/><stop offset="0.489" stop-color="#4661d6"/><stop offset="0.532" stop-color="#4559cb"/><stop offset="0.574" stop-color="#4451bf"/><stop offset="0.617" stop-color="#4249b1"/><stop offset="0.660" stop-color="#4146ac"/><stop offset="0.702" stop-color="#3f3e9c"/><stop offset="0.745" stop-color="#3f3b97"/><stop offset="0.830" stop-color="#3e3891"/><stop offset="0.915" stop-color="#3d358b"/><stop offset="1.000" stop-color="#3d358b"/></linearGradient><linearGradient id="c58" x1="0" y1="0" x2="0" y2="1"><stop offset="0.000" stop-color="#71fe5f"/><stop offset="0.009" stop-color="#69fd66"/><stop offset="0.011" stop-color="#61fc6c"/><stop offset="0.021" stop-color="#43f787"/><stop offset="0.032" stop-color="#32f298"/><stop offset="0.043" stop-color="#27eea4"/><stop offset="0.053" stop-color="#20eaac"/><stop offset="0.064" stop-color="#1de7b2"/><stop offset="0.074" stop-color="#1ce6b4"/><stop offset="0.085" stop-color="#1ae4b6"/><stop offset="0.096" stop-color="#19e3b9"/><stop offset="0.106" stop-color="#19e2bb"/><stop offset="0.117" stop-color="#18e0bd"/><stop offset="0.128" stop-color="#18dec0"/><stop offset="0.138" stop-color="#18dbc5"/><stop offset="0.149" stop-color="#18d9c8"/><stop offset="0.170" stop-color="#1ad4d0"/><stop offset="0.191" stop-color="#1ccdd8"/><stop offset="0.213" stop-color="#25c0e7"/><stop offset="0.234" stop-color="#2eb4f2"/><stop offset="0.255" stop-color="#35abf8"/><stop offset="0.277" stop-color="#3aa3fc"/><stop offset="0.298" stop-color="#3d9efe"/><stop offset="0.319" stop-color="#4099ff"/><stop offset="0.362" stop-color="#448ffe"/><stop offset="0.404" stop-color="#4680f6"/><stop offset="0.447" stop-color="#4771e9"/><stop offset="0.489" stop-color="#4661d6"/><stop offset="0.532" stop-color="#4559cb"/><stop offset="0.574" stop-color="#4451bf"/><stop offset="0.617" stop-color="#4249b1"/><stop offset="0.660" stop-color="#4146ac"/><stop offset="0.702" stop-color="#4040a2"/><stop offset="0.745" stop-color="#3f3e9c"/><stop offset="0.830" stop-color="#3e3891"/><stop offset="0.915" stop-color="#3d358b"/><stop offset="1.000" stop-color="#3d358b"/></linearGradient><linearGradient id="c59" x1="0" y1="0" x2="0" y2="1"><stop offset="0.000" stop-color="#69fd66"/><stop offset="0.009" stop-color="#61fc6c"/><stop offset="0.011" stop-color="#59fb73"/><stop offset="0.021" stop-color="#38f491"/><stop offset="0.032" stop-color="#2ff19b"/><stop offset="0.043" stop-color="#25eca7"/><stop offset="0.053" stop-color="#1fe9af"/><stop offset="0.064" stop-color="#1de7b2"/><stop offset="0.074" stop-color="#1ce6b4"/><stop offset="0.085" stop-color="#1ae4b6"/><stop offset="0.096" stop-color="#19e3b9"/><stop offset="0.106" stop-color="#19e2bb"/><stop offset="0.117" stop-color="#18e0bd"/><stop offset="0.128" stop-color="#18ddc2"/><stop offset="0.138" stop-color="#18dbc5"/><stop offset="0.149" stop-color="#18d9c8"/><stop offset="0.170" stop-color="#1ad4d0"/><stop offset="0.191" stop-color="#1ccdd8"/><stop offset="0.213" stop-color="#25c0e7"/><stop offset="0.234" stop-color="#2fb2f4"/><stop offset="0.255" stop-color="#35abf8"/><stop offset="0.277" stop-color="#3aa3fc"/><stop offset="0.298" stop-color="#3d9efe"/><stop offset="0.319" stop-color="#4099ff"/><stop offset="0.362" stop-color="#448ffe"/><stop offset="0.404" stop-color="#4680f6"/><stop offset="0.447" stop-color="#4771e9"/><stop offset="0.489" stop-color="#4661d6"/><stop offset="0.532" stop-color="#4559cb"/><stop offset="0.574" stop-color="#4451bf"/><stop offset="0.617" stop-color="#4249b1"/><stop offset="0.660" stop-color="#4146ac"/><stop offset="0.702" stop-color="#4040a2"/><stop offset="0.745" stop-color="#3f3e9c"/><stop offset="0.830" stop-color="#3e3891"/><stop offset="0.915" stop-color="#3d358b"/><stop offset="1.000" stop-color="#3d358b"/></linearGradient><linearGradient id="c60" x1="0" y1="0" x2="0" y2="1"><stop offset="0.000" stop-color="#5dfc6f"/><stop offset="0.009" stop-color="#55fa76"/><stop offset="0.011" stop-color="#4ef97d"/><stop offset="0.021" stop-color="#32f298"/><stop offset="0.032" stop-color="#2aefa1"/><stop offset="0.043" stop-color="#22ebaa"/><stop offset="0.053" stop-color="#1fe9af"/><stop offset="0.064" stop-color="#1de7b2"/><stop offset="0.074" stop-color="#1ce6b4"/><stop offset="0.085" stop-color="#1ae4b6"/><stop offset="0.096" stop-color="#19e3b9"/><stop offset="0.106" stop-color="#19e2bb"/><stop offset="0.117" stop-color="#18e0bd"/><stop offset="0.128" stop-color="#18ddc2"/><stop offset="0.138" stop-color="#18dbc5"/><stop offset="0.149" stop-color="#18d9c8"/><stop offset="0.170" stop-color="#1ad4d0"/><stop offset="0.191" stop-color="#1ccdd8"/><stop offset="0.213" stop-color="#25c0e7"/><stop offset="0.234" stop-color="#2fb2f4"/><stop offset="0.255" stop-color="#35abf8"/><stop offset="0.277" stop-color="#3aa3fc"/><stop offset="0.298" stop-color="#3d9efe"/><stop offset="0.319" stop-color="#4099ff"/><stop offset="0.362" stop-color="#448ffe"/><stop offset="0.404" stop-color="#4680f6"/><stop offset="0.447" stop-color="#4771e9"/><stop offset="0.489" stop-color="#4661d6"/><stop offset="0.532" stop-color="#4559cb"/><stop offset="0.574" stop-color="#4451bf"/><stop offset="0.617" stop-color="#4249b1"/><stop offset="0.660" stop-color="#4146ac"/><stop offset="0.702" stop-color="#4040a2"/><stop offset="0.745" stop-color="#3f3e9c"/><stop offset="0.830" stop-color="#3e3891"/><stop offset="0.915" stop-color="#3d358b"/><stop offset="1.000" stop-color="#3d358b"/></linearGradient><linearGradient id="c61" x1="0" y1="0" x2="0" y2="1"><stop offset="0.000" stop-color="#55fa76"/><stop offset="0.009" stop-color="#4af880"/><stop offset="0.011" stop-color="#46f884"/><stop offset="0.021" stop-color="#2aefa1"/><stop offset="0.032" stop-color="#25eca7"/><stop offset="0.043" stop-color="#20eaac"/><stop offset="0.053" stop-color="#1fe9af"/><stop offset="0.064" stop-color="#1de7b2"/><stop offset="0.074" stop-color="#1ae4b6"/><stop offset="0.085" stop-color="#1ae4b6"/><stop offset="0.096" stop-color="#19e3b9"/><stop offset="0.106" stop-color="#19e2bb"/><stop offset="0.117" stop-color="#18e0bd"/><stop offset="0.128" stop-color="#18ddc2"/><stop offset="0.138" stop-color="#18dbc5"/><stop offset="0.149" stop-color="#18d9c8"/><stop offset="0.170" stop-color="#1ad4d0"/><stop offset="0.191" stop-color="#1ecbda"/><stop offset="0.213" stop-color="#27bee9"/><stop offset="0.234" stop-color="#2fb2f4"/><stop offset="0.255" stop-color="#37a8fa"/><stop offset="0.277" stop-color="#3aa3fc"/><stop offset="0.298" stop-color="#3d9efe"/><stop offset="0.319" stop-color="#4099ff"/><stop offset="0.362" stop-color="#448ffe"/><stop offset="0.404" stop-color="#4680f6"/><stop offset="0.447" stop-color="#4771e9"/><stop offset="0.489" stop-color="#4661d6"/><stop offset="0.532" stop-color="#4559cb"/><stop offset="0.574" stop-color="#4451bf"/><stop offset="0.617" stop-color="#4249b1"/><stop offset="0.660" stop-color="#4146ac"/><stop offset="0.702" stop-color="#4040a2"/><stop offset="0.745" stop-color="#3f3e9c"/><stop offset="0.830" stop-color="#3e3891"/><stop offset="0.915" stop-color="#3d358b"/><stop offset="1.000" stop-color="#3d358b"/></linearGradient><linearGradient id="c62" x1="0" y1="0" x2="0" y2="1"><stop offset="0.000" stop-color="#52fa7a"/><stop offset="0.009" stop-color="#46f884"/><stop offset="0.011" stop-color="#43f787"/><stop offset="0.021" stop-color="#27eea4"/><stop offset="0.032" stop-color="#25eca7"/><stop offset="0.043" stop-color="#20eaac"/><stop offset="0.053" stop-color="#1fe9af"/><stop offset="0.064" stop-color="#1ce6b4"/><stop offset="0.074" stop-color="#1ae4b6"/><stop offset="0.085" stop-color="#1ae4b6"/><stop offset="0.096" stop-color="#19e3b9"/><stop offset="0.106" stop-color="#19e2bb"/><stop offset="0.117" stop-color="#18e0bd"/><stop offset="0.128" stop-color="#18ddc2"/><stop offset="0.138" stop-color="#18dbc5"/><stop offset="0.149" stop-color="#18d9c8"/><stop offset="0.170" stop-color="#1ad4d0"/><stop offset="0.191" stop-color="#1ecbda"/><stop offset="0.213" stop-color="#27bee9"/><stop offset="0.234" stop-color="#2fb2f4"/><stop offset="0.255" stop-color="#37a8fa"/><stop offset="0.277" stop-color="#3aa3fc"/><stop offset="0.298" stop-color="#3d9efe"/><stop offset="0.319" stop-color="#4099ff"/><stop offset="0.362" stop-color="#448ffe"/><stop offset="0.404" stop-color="#4680f6"/><stop offset="0.447" stop-color="#4771e9"/><stop offset="0.489" stop-color="#4661d6"/><stop offset="0.532" stop-color="#4559cb"/><stop offset="0.574" stop-color="#4451bf"/><stop offset="0.617" stop-color="#4249b1"/><stop offset="0.660" stop-color="#4146ac"/><stop offset="0.702" stop-color="#4040a2"/><stop offset="0.745" stop-color="#3f3e9c"/><stop offset="0.830" stop-color="#3e3891"/><stop offset="0.915" stop-color="#3d358b"/><stop offset="1.000" stop-color="#3d358b"/></linearGradient><linearGradient id="c63" x1="0" y1="0" x2="0" y2="1"><stop offset="0.000" stop-color="#52fa7a"/><stop offset="0.009" stop-color="#46f884"/><stop offset="0.011" stop-color="#43f787"/><stop offset="0.021" stop-color="#27eea4"/><stop offset="0.032" stop-color="#25eca7"/><stop offset="0.043" stop-color="#20eaac"/><stop offset="0.053" stop-color="#1fe9af"/><stop offset="0.064" stop-color="#1ce6b4"/><stop offset="0.074" stop-color="#1ae4b6"/><stop offset="0.085" stop-color="#1ae4b6"/><stop offset="0.096" stop-color="#19e3b9"/><stop offset="0.106" stop-color="#19e2bb"/><stop offset="0.117" stop-color="#18e0bd"/><stop offset="0.128" stop-color="#18ddc2"/><stop offset="0.138" stop-color="#18dbc5"/><stop offset="0.149" stop-color="#18d9c8"/><stop offset="0.170" stop-color="#1ad4d0"/><stop offset="0.191" stop-color="#1ecbda"/><stop offset="0.213" stop-color="#27bee9"/><stop offset="0.234" stop-color="#2fb2f4"/><stop offset="0.255" stop-color="#37a8fa"/><stop offset="0.277" stop-color="#3aa3fc"/><stop offset="0.298" stop-color="#3d9efe"/><stop offset="0.319" stop-color="#4099ff"/><stop offset="0.362" stop-color="#448ffe"/><stop offset="0.404" stop-color="#4680f6"/><stop offset="0.447" stop-color="#4771e9"/><stop offset="0.489" stop-color="#4661d6"/><stop offset="0.532" stop-color="#4559cb"/><stop offset="0.574" stop-color="#4451bf"/><stop offset="0.617" stop-color="#4249b1"/><stop offset="0.660" stop-color="#4146ac"/><stop offset="0.702" stop-color="#4040a2"/><stop offset="0.745" stop-color="#3f3e9c"/><stop offset="0.830" stop-color="#3e3891"/><stop offset="0.915" stop-color="#3d358b"/><stop offset="1.000" stop-color="#3d358b"/></linearGradient><linearGradient id="c64" x1="0" y1="0" x2="0" y2="1"><stop offset="0.000" stop-color="#52fa7a"/><stop offset="0.009" stop-color="#46f884"/><stop offset="0.011" stop-color="#43f787"/><stop offset="0.021" stop-color="#27eea4"/><stop offset="0.032" stop-color="#25eca7"/><stop offset="0.043" stop-color="#20eaac"/><stop offset="0.053" stop-color="#1fe9af"/><stop offset="0.064" stop-color="#1ce6b4"/><stop offset="0.074" stop-color="#1ae4b6"/><stop offset="0.085" stop-color="#1ae4b6"/><stop offset="0.096" stop-color="#19e3b9"/><stop offset="0.106" stop-color="#19e2bb"/><stop offset="0.117" stop-color="#18e0bd"/><stop offset="0.128" stop-color="#18ddc2"/><stop offset="0.138" stop-color="#18dbc5"/><stop offset="0.149" stop-color="#18d9c8"/><stop offset="0.170" stop-color="#1ad4d0"/><stop offset="0.191" stop-color="#1ecbda"/><stop offset="0.213" stop-color="#27bee9"/><stop offset="0.234" stop-color="#2fb2f4"/><stop offset="0.255" stop-color="#37a8fa"/><stop offset="0.277" stop-color="#3aa3fc"/><stop offset="0.298" stop-color="#3d9efe"/><stop offset="0.319" stop-color="#4099ff"/><stop offset="0.362" stop-color="#448ffe"/><stop offset="0.404" stop-color="#4680f6"/><stop offset="0.447" stop-color="#4771e9"/><stop offset="0.489" stop-color="#4661d6"/><stop offset="0.532" stop-color="#4559cb"/><stop offset="0.574" stop-color="#4451bf"/><stop offset="0.617" stop-color="#4249b1"/><stop offset="0.660" stop-color="#4146ac"/><stop offset="0.702" stop-color="#4040a2"/><stop offset="0.745" stop-color="#3f3e9c"/><stop offset="0.830" stop-color="#3e3891"/><stop offset="0.915" stop-color="#3d358b"/><stop offset="1.000" stop-color="#3d358b"/></linearGradient><linearGradient id="endb" x1="0" y1="0" x2="0" y2="1"><stop offset="0" stop-color="#3f3e9c"/><stop offset="0.05" stop-color="#3c3a94"/><stop offset="0.12" stop-color="#35246a"/><stop offset="0.2" stop-color="#30123b"/><stop offset="1" stop-color="#30123b"/></linearGradient><linearGradient id="v1" x1="0" y1="0" x2="0" y2="1"><stop offset="0" stop-color="#e9e9ff" stop-opacity="0"/><stop offset="0.35" stop-color="#e9e9ff" stop-opacity="1"/><stop offset="0.65" stop-color="#e9e9ff" stop-opacity="1"/><stop offset="1" stop-color="#e9e9ff" stop-opacity="0"/></linearGradient><linearGradient id="v1m" x1="0" y1="0" x2="1" y2="0"><stop offset="0" stop-color="#fff" stop-opacity="0"/><stop offset="0.1" stop-color="#fff" stop-opacity="1"/><stop offset="1" stop-color="#fff" stop-opacity="1"/></linearGradient><mask id="v1k" maskUnits="userSpaceOnUse" x="560" y="271.0" width="636" height="13.0"><rect x="560" y="271.0" width="636" height="13.0" fill="url(#v1m)"/></mask><linearGradient id="v2" x1="0" y1="0" x2="0" y2="1"><stop offset="0" stop-color="#fff5f5" stop-opacity="0"/><stop offset="0.35" stop-color="#fff5f5" stop-opacity="1"/><stop offset="0.65" stop-color="#fff5f5" stop-opacity="1"/><stop offset="1" stop-color="#fff5f5" stop-opacity="0"/></linearGradient><linearGradient id="v2m" x1="0" y1="0" x2="1" y2="0"><stop offset="0" stop-color="#fff" stop-opacity="1"/><stop offset="0.8" stop-color="#fff" stop-opacity="0.8"/><stop offset="1" stop-color="#fff" stop-opacity="0"/></linearGradient><mask id="v2k" maskUnits="userSpaceOnUse" x="112" y="272" width="450" height="14"><rect x="112" y="272" width="450" height="14" fill="url(#v2m)"/></mask><linearGradient id="v2b" x1="0" y1="0" x2="0" y2="1"><stop offset="0" stop-color="#e9e9ff" stop-opacity="0"/><stop offset="0.35" stop-color="#e9e9ff" stop-opacity="1"/><stop offset="0.65" stop-color="#e9e9ff" stop-opacity="1"/><stop offset="1" stop-color="#e9e9ff" stop-opacity="0"/></linearGradient><linearGradient id="v2bm" x1="0" y1="0" x2="1" y2="0"><stop offset="0" stop-color="#fff" stop-opacity="1"/><stop offset="0.7" stop-color="#fff" stop-opacity="0.8"/><stop offset="1" stop-color="#fff" stop-opacity="0"/></linearGradient><mask id="v2bk" maskUnits="userSpaceOnUse" x="112" y="285.09999999999997" width="62" height="3.2"><rect x="112" y="285.09999999999997" width="62" height="3.2" fill="url(#v2bm)"/></mask><linearGradient id="v3" x1="0" y1="0" x2="0" y2="1"><stop offset="0" stop-color="#ffd5d5" stop-opacity="0"/><stop offset="0.35" stop-color="#ffd5d5" stop-opacity="1"/><stop offset="0.65" stop-color="#ffd5d5" stop-opacity="1"/><stop offset="1" stop-color="#ffd5d5" stop-opacity="0"/></linearGradient><linearGradient id="v3m" x1="0" y1="0" x2="1" y2="0"><stop offset="0" stop-color="#fff" stop-opacity="1"/><stop offset="0.3" stop-color="#fff" stop-opacity="0.75"/><stop offset="1" stop-color="#fff" stop-opacity="0"/></linearGradient><mask id="v3k" maskUnits="userSpaceOnUse" x="112" y="292.7" width="110" height="7.2"><rect x="112" y="292.7" width="110" height="7.2" fill="url(#v3m)"/></mask><linearGradient id="v4" x1="0" y1="0" x2="0" y2="1"><stop offset="0" stop-color="#fff5f5" stop-opacity="0"/><stop offset="0.35" stop-color="#fff5f5" stop-opacity="1"/><stop offset="0.65" stop-color="#fff5f5" stop-opacity="1"/><stop offset="1" stop-color="#fff5f5" stop-opacity="0"/></linearGradient><linearGradient id="v4m" x1="0" y1="0" x2="1" y2="0"><stop offset="0" stop-color="#fff" stop-opacity="0"/><stop offset="0.15" stop-color="#fff" stop-opacity="1"/><stop offset="1" stop-color="#fff" stop-opacity="1"/></linearGradient><mask id="v4k" maskUnits="userSpaceOnUse" x="560" y="288" width="636" height="18"><rect x="560" y="288" width="636" height="18" fill="url(#v4m)"/></mask><linearGradient id="v5" x1="0" y1="0" x2="0" y2="1"><stop offset="0" stop-color="#e9e9ff" stop-opacity="0"/><stop offset="0.35" stop-color="#e9e9ff" stop-opacity="1"/><stop offset="0.65" stop-color="#e9e9ff" stop-opacity="1"/><stop offset="1" stop-color="#e9e9ff" stop-opacity="0"/></linearGradient><linearGradient id="v5m" x1="0" y1="0" x2="1" y2="0"><stop offset="0" stop-color="#fff" stop-opacity="1"/><stop offset="0.14" stop-color="#fff" stop-opacity="0.7"/><stop offset="0.7" stop-color="#fff" stop-opacity="0.55"/><stop offset="1" stop-color="#fff" stop-opacity="0"/></linearGradient><mask id="v5k" maskUnits="userSpaceOnUse" x="112" y="301.5" width="560" height="11.0"><rect x="112" y="301.5" width="560" height="11.0" fill="url(#v5m)"/></mask><linearGradient id="v6" x1="0" y1="0" x2="0" y2="1"><stop offset="0.000" stop-color="#e9e9ff" stop-opacity="0"/><stop offset="0.048" stop-color="#e9e9ff" stop-opacity="1"/><stop offset="0.181" stop-color="#e9e9ff" stop-opacity="1"/><stop offset="0.241" stop-color="#e9e9ff" stop-opacity="0.62"/><stop offset="0.663" stop-color="#e9e9ff" stop-opacity="0.42"/><stop offset="1.000" stop-color="#e9e9ff" stop-opacity="0"/></linearGradient><linearGradient id="v6m" x1="0" y1="0" x2="1" y2="0"><stop offset="0" stop-color="#fff" stop-opacity="1"/><stop offset="0.17" stop-color="#fff" stop-opacity="0.85"/><stop offset="0.3" stop-color="#fff" stop-opacity="0.5"/><stop offset="0.42" stop-color="#fff" stop-opacity="0.42"/><stop offset="0.59" stop-color="#fff" stop-opacity="0.5"/><stop offset="0.62" stop-color="#fff" stop-opacity="0.9"/><stop offset="1" stop-color="#fff" stop-opacity="0.92"/></linearGradient><mask id="v6k" maskUnits="userSpaceOnUse" x="112" y="337" width="1084" height="83"><rect x="112" y="337" width="1084" height="83" fill="url(#v6m)"/></mask><linearGradient id="v8" x1="0" y1="0" x2="0" y2="1"><stop offset="0" stop-color="#fff1f1" stop-opacity="0"/><stop offset="0.35" stop-color="#fff1f1" stop-opacity="1"/><stop offset="0.65" stop-color="#fff1f1" stop-opacity="1"/><stop offset="1" stop-color="#fff1f1" stop-opacity="0"/></linearGradient><linearGradient id="v8m" x1="0" y1="0" x2="1" y2="0"><stop offset="0" stop-color="#fff" stop-opacity="0"/><stop offset="0.2" stop-color="#fff" stop-opacity="1"/><stop offset="1" stop-color="#fff" stop-opacity="1"/></linearGradient><mask id="v8k" maskUnits="userSpaceOnUse" x="560" y="291.4" width="636" height="3.2"><rect x="560" y="291.4" width="636" height="3.2" fill="url(#v8m)"/></mask><linearGradient id="v9" x1="0" y1="0" x2="0" y2="1"><stop offset="0" stop-color="#fff1f1" stop-opacity="0"/><stop offset="0.35" stop-color="#fff1f1" stop-opacity="1"/><stop offset="0.65" stop-color="#fff1f1" stop-opacity="1"/><stop offset="1" stop-color="#fff1f1" stop-opacity="0"/></linearGradient><linearGradient id="v9m" x1="0" y1="0" x2="1" y2="0"><stop offset="0" stop-color="#fff" stop-opacity="0"/><stop offset="0.2" stop-color="#fff" stop-opacity="1"/><stop offset="1" stop-color="#fff" stop-opacity="1"/></linearGradient><mask id="v9k" maskUnits="userSpaceOnUse" x="560" y="298.4" width="636" height="3.2"><rect x="560" y="298.4" width="636" height="3.2" fill="url(#v9m)"/></mask><linearGradient id="cb1" x1="0" y1="0" x2="0" y2="1"><stop offset="0.0000" stop-color="#7a0403"/><stop offset="0.0312" stop-color="#920b01"/><stop offset="0.0625" stop-color="#a91601"/><stop offset="0.0938" stop-color="#be2102"/><stop offset="0.1250" stop-color="#d02f05"/><stop offset="0.1562" stop-color="#df3f08"/><stop offset="0.1875" stop-color="#eb500e"/><stop offset="0.2188" stop-color="#f46617"/><stop offset="0.2500" stop-color="#fb7e21"/><stop offset="0.2812" stop-color="#fe962b"/><stop offset="0.3125" stop-color="#fdac34"/><stop offset="0.3438" stop-color="#f8be39"/><stop offset="0.3750" stop-color="#eecf3a"/><stop offset="0.4062" stop-color="#dfdf37"/><stop offset="0.4375" stop-color="#cdec34"/><stop offset="0.4688" stop-color="#b9f635"/><stop offset="0.5000" stop-color="#a4fc3c"/><stop offset="0.5312" stop-color="#8bff4b"/><stop offset="0.5625" stop-color="#6dfe62"/><stop offset="0.5938" stop-color="#4ef97d"/><stop offset="0.6250" stop-color="#32f298"/><stop offset="0.6562" stop-color="#1fe9af"/><stop offset="0.6875" stop-color="#18ddc2"/><stop offset="0.7188" stop-color="#1ccdd8"/><stop offset="0.7500" stop-color="#28bceb"/><stop offset="0.7812" stop-color="#37a8fa"/><stop offset="0.8125" stop-color="#4294ff"/><stop offset="0.8438" stop-color="#4680f6"/><stop offset="0.8750" stop-color="#466be3"/><stop offset="0.9062" stop-color="#4456c7"/><stop offset="0.9375" stop-color="#4040a2"/><stop offset="0.9688" stop-color="#392a73"/><stop offset="1.0000" stop-color="#30123b"/></linearGradient><linearGradient id="cb2" x1="0" y1="0" x2="0" y2="1"><stop offset="0.0000" stop-color="#800000"/><stop offset="0.0312" stop-color="#8e0000"/><stop offset="0.0625" stop-color="#9e0000"/><stop offset="0.0938" stop-color="#ae0000"/><stop offset="0.1250" stop-color="#be0000"/><stop offset="0.1562" stop-color="#ce0000"/><stop offset="0.1875" stop-color="#de0000"/><stop offset="0.2188" stop-color="#ee0000"/><stop offset="0.2500" stop-color="#fe0000"/><stop offset="0.2812" stop-color="#ff1d1d"/><stop offset="0.3125" stop-color="#ff3d3d"/><stop offset="0.3438" stop-color="#ff5d5d"/><stop offset="0.3750" stop-color="#ff7d7d"/><stop offset="0.4062" stop-color="#ff9d9d"/><stop offset="0.4375" stop-color="#ffbdbd"/><stop offset="0.4688" stop-color="#ffdddd"/><stop offset="0.5000" stop-color="#fffdfd"/><stop offset="0.5312" stop-color="#e1e1ff"/><stop offset="0.5625" stop-color="#c1c1ff"/><stop offset="0.5938" stop-color="#a1a1ff"/><stop offset="0.6250" stop-color="#8181ff"/><stop offset="0.6562" stop-color="#6161ff"/><stop offset="0.6875" stop-color="#4141ff"/><stop offset="0.7188" stop-color="#2121ff"/><stop offset="0.7500" stop-color="#0101ff"/><stop offset="0.7812" stop-color="#0000e9"/><stop offset="0.8125" stop-color="#0000d3"/><stop offset="0.8438" stop-color="#0000bc"/><stop offset="0.8750" stop-color="#0000a6"/><stop offset="0.9062" stop-color="#000090"/><stop offset="0.9375" stop-color="#000079"/><stop offset="0.9688" stop-color="#000063"/><stop offset="1.0000" stop-color="#00004c"/></linearGradient></defs>
<g clip-path="url(#hc)"><g filter="url(#hb)">
<rect x="76" y="65.5" width="19" height="208" fill="url(#c0)"/>
<rect x="94" y="65.5" width="19" height="208" fill="url(#c1)"/>
<rect x="112" y="65.5" width="19" height="208" fill="url(#c2)"/>
<rect x="130" y="65.5" width="19" height="208" fill="url(#c3)"/>
<rect x="148" y="65.5" width="19" height="208" fill="url(#c4)"/>
<rect x="166" y="65.5" width="19" height="208" fill="url(#c5)"/>
<rect x="184" y="65.5" width="19" height="208" fill="url(#c6)"/>
<rect x="202" y="65.5" width="19" height="208" fill="url(#c7)"/>
<rect x="220" y="65.5" width="19" height="208" fill="url(#c8)"/>
<rect x="238" y="65.5" width="19" height="208" fill="url(#c9)"/>
<rect x="256" y="65.5" width="19" height="208" fill="url(#c10)"/>
<rect x="274" y="65.5" width="19" height="208" fill="url(#c11)"/>
<rect x="292" y="65.5" width="19" height="208" fill="url(#c12)"/>
<rect x="310" y="65.5" width="19" height="208" fill="url(#c13)"/>
<rect x="328" y="65.5" width="19" height="208" fill="url(#c14)"/>
<rect x="346" y="65.5" width="19" height="208" fill="url(#c15)"/>
<rect x="364" y="65.5" width="19" height="208" fill="url(#c16)"/>
<rect x="382" y="65.5" width="19" height="208" fill="url(#c17)"/>
<rect x="400" y="65.5" width="19" height="208" fill="url(#c18)"/>
<rect x="418" y="65.5" width="19" height="208" fill="url(#c19)"/>
<rect x="436" y="65.5" width="19" height="208" fill="url(#c20)"/>
<rect x="454" y="65.5" width="19" height="208" fill="url(#c21)"/>
<rect x="472" y="65.5" width="19" height="208" fill="url(#c22)"/>
<rect x="490" y="65.5" width="19" height="208" fill="url(#c23)"/>
<rect x="508" y="65.5" width="19" height="208" fill="url(#c24)"/>
<rect x="526" y="65.5" width="19" height="208" fill="url(#c25)"/>
<rect x="544" y="65.5" width="19" height="208" fill="url(#c26)"/>
<rect x="562" y="65.5" width="19" height="208" fill="url(#c27)"/>
<rect x="580" y="65.5" width="19" height="208" fill="url(#c28)"/>
<rect x="598" y="65.5" width="19" height="208" fill="url(#c29)"/>
<rect x="616" y="65.5" width="19" height="208" fill="url(#c30)"/>
<rect x="634" y="65.5" width="19" height="208" fill="url(#c31)"/>
<rect x="652" y="65.5" width="19" height="208" fill="url(#c32)"/>
<rect x="670" y="65.5" width="19" height="208" fill="url(#c33)"/>
<rect x="688" y="65.5" width="19" height="208" fill="url(#c34)"/>
<rect x="706" y="65.5" width="19" height="208" fill="url(#c35)"/>
<rect x="724" y="65.5" width="19" height="208" fill="url(#c36)"/>
<rect x="742" y="65.5" width="19" height="208" fill="url(#c37)"/>
<rect x="760" y="65.5" width="19" height="208" fill="url(#c38)"/>
<rect x="778" y="65.5" width="19" height="208" fill="url(#c39)"/>
<rect x="796" y="65.5" width="19" height="208" fill="url(#c40)"/>
<rect x="814" y="65.5" width="19" height="208" fill="url(#c41)"/>
<rect x="832" y="65.5" width="19" height="208" fill="url(#c42)"/>
<rect x="850" y="65.5" width="19" height="208" fill="url(#c43)"/>
<rect x="868" y="65.5" width="19" height="208" fill="url(#c44)"/>
<rect x="886" y="65.5" width="19" height="208" fill="url(#c45)"/>
<rect x="904" y="65.5" width="19" height="208" fill="url(#c46)"/>
<rect x="922" y="65.5" width="19" height="208" fill="url(#c47)"/>
<rect x="940" y="65.5" width="19" height="208" fill="url(#c48)"/>
<rect x="958" y="65.5" width="19" height="208" fill="url(#c49)"/>
<rect x="976" y="65.5" width="19" height="208" fill="url(#c50)"/>
<rect x="994" y="65.5" width="19" height="208" fill="url(#c51)"/>
<rect x="1012" y="65.5" width="19" height="208" fill="url(#c52)"/>
<rect x="1030" y="65.5" width="19" height="208" fill="url(#c53)"/>
<rect x="1048" y="65.5" width="19" height="208" fill="url(#c54)"/>
<rect x="1066" y="65.5" width="19" height="208" fill="url(#c55)"/>
<rect x="1084" y="65.5" width="19" height="208" fill="url(#c56)"/>
<rect x="1102" y="65.5" width="19" height="208" fill="url(#c57)"/>
<rect x="1120" y="65.5" width="19" height="208" fill="url(#c58)"/>
<rect x="1138" y="65.5" width="19" height="208" fill="url(#c59)"/>
<rect x="1156" y="65.5" width="19" height="208" fill="url(#c60)"/>
<rect x="1174" y="65.5" width="19" height="208" fill="url(#c61)"/>
<rect x="1192" y="65.5" width="5" height="208" fill="url(#c62)"/>
<rect x="1196" y="65.5" width="19" height="208" fill="url(#c63)"/>
<rect x="1214" y="65.5" width="19" height="208" fill="url(#c64)"/>
</g></g>
<rect x="761.2" y="65.5" width="23.6" height="208" fill="#30123b"/>
<rect x="760.4" y="65.5" width="1.1" height="208" fill="#4668d8"/>
<rect x="784.5" y="65.5" width="1.1" height="208" fill="#4590f0"/>
<rect x="1195.6" y="65.5" width="14.4" height="208" fill="url(#endb)"/>
<rect x="1195.2" y="65.5" width="0.9" height="208" fill="#4585f0" opacity="0.7"/>
<rect x="112" y="273.5" width="1098" height="208" fill="#fdfdff"/>
<rect x="560" y="271.0" width="636" height="13.0" fill="url(#v1)" mask="url(#v1k)"/>
<rect x="112" y="272" width="450" height="14" fill="url(#v2)" mask="url(#v2k)"/>
<rect x="112" y="285.09999999999997" width="62" height="3.2" fill="url(#v2b)" mask="url(#v2bk)"/>
<rect x="112" y="292.7" width="110" height="7.2" fill="url(#v3)" mask="url(#v3k)"/>
<rect x="560" y="288" width="636" height="18" fill="url(#v4)" mask="url(#v4k)"/>
<rect x="112" y="301.5" width="560" height="11.0" fill="url(#v5)" mask="url(#v5k)"/>
<rect x="112" y="337" width="1084" height="83" fill="url(#v6)" mask="url(#v6k)"/>
<rect x="560" y="291.4" width="636" height="3.2" fill="url(#v8)" mask="url(#v8k)"/>
<rect x="560" y="298.4" width="636" height="3.2" fill="url(#v9)" mask="url(#v9k)"/>
<rect x="761.2" y="273.5" width="23.6" height="208" fill="#fefdff"/>
<rect x="1196" y="273.5" width="14" height="208" fill="#fdfcff"/>
<rect x="111.9" y="668.0" width="648.8" height="2.2" fill="#ff0000"/>
<rect x="784.0" y="668.0" width="410.6" height="2.2" fill="#ff0000"/>
<rect x="134.3" y="669.8" width="36.1" height="1.2" rx="0.6" fill="#ff0000"/>
<rect x="204.6" y="669.8" width="37.9" height="1.2" rx="0.6" fill="#ff0000"/>
<rect x="358.0" y="669.8" width="86.6" height="1.2" rx="0.6" fill="#ff0000"/>
<rect x="1049.2" y="669.8" width="144.4" height="1.2" rx="0.6" fill="#ff0000"/>
<rect x="111.9" y="667.2" width="648.8" height="2.2" fill="#ba2405"/>
<rect x="784.0" y="667.2" width="410.6" height="2.2" fill="#ba2405"/>
<rect x="111.9" y="666.4" width="648.8" height="2.3" fill="#804005"/>
<rect x="784.0" y="666.4" width="410.6" height="2.3" fill="#804005"/>
<rect x="111.9" y="665.0" width="648.8" height="2.4" fill="#46600a"/>
<rect x="784.0" y="665.0" width="410.6" height="2.4" fill="#46600a"/>
<rect x="679.3" y="664.2" width="36.1" height="1.5" rx="0.7" fill="#46600a"/>
<path d="M111.9 676.2 L132.5 676.4 L192.0 677.6 L192.0 680 L146.9 680.8 L111.9 680.9Z" fill="#0826d4"/>
<path d="M111.9 676.0 L132.5 676.2 L192.0 677.5 L192.0 679.2 L111.9 679.0Z" fill="#0000ff"/>
<line x1="111.9" y1="678.7" x2="760.7" y2="678.7" stroke="#0000ff" stroke-width="2.4"/>
<line x1="784.0" y1="678.7" x2="1194.5" y2="678.7" stroke="#0000ff" stroke-width="2.4"/>
<polyline points="111.9,657.9 113.1,657.7 114.4,657.9 115.6,658.0 116.9,657.8 118.1,657.9 119.4,657.9 120.6,658.0 121.9,658.1 123.1,658.1 124.4,658.0 125.6,658.0 126.9,657.9 128.1,658.0 129.4,658.1 130.6,658.0 131.9,658.1 133.1,658.1 134.4,658.2 135.6,658.1 136.9,658.3 138.1,658.2 139.4,658.2 140.6,658.1 141.9,658.2 143.1,658.2 144.4,658.3 145.6,658.2 146.9,658.2 148.1,658.2 149.4,658.1 150.6,658.4 151.9,658.3 153.1,658.3 154.4,658.2 155.6,658.2 156.9,658.2 158.1,658.3 159.4,658.3 160.6,658.2 161.9,658.2 163.1,658.3 164.4,658.4 165.6,658.4 166.9,658.6 168.1,658.7 169.4,658.7 170.6,658.8 171.9,658.8 173.1,658.8 174.4,658.8 175.6,658.9 176.9,659.0 178.1,659.0 179.4,659.1 180.6,659.1 181.9,659.0 183.1,659.0 184.4,659.2 185.6,659.3 186.9,659.3 188.1,659.4 189.4,659.3 190.6,659.3 191.9,659.4 193.1,659.4 194.4,659.4 195.6,659.3 196.9,659.3 198.1,659.4 199.4,659.5 200.6,659.4 201.9,659.3 203.1,659.3 204.4,659.3 205.6,659.3 206.9,659.4 208.1,659.2 209.4,659.2 210.6,659.3 211.9,659.4 213.1,659.4 214.4,659.3 215.6,659.3 216.9,659.2 218.1,659.1 219.4,659.1 220.6,659.2 221.9,659.2 223.1,659.0 224.4,659.2 225.6,659.2 226.9,659.1 228.1,659.0 229.4,659.1 230.6,659.1 231.9,659.1 233.1,659.2 234.4,659.1 235.6,659.1 236.9,658.9 238.1,659.1 239.4,659.0 240.6,659.0 241.9,659.0 243.1,659.1 244.4,659.0 245.6,659.1 246.9,659.2 248.1,659.3 249.4,659.0 250.6,659.0 251.9,658.9 253.1,659.0 254.4,659.0 255.6,658.9 256.9,659.1 258.1,659.1 259.4,659.1 260.6,658.9 261.9,659.0 263.1,659.2 264.4,659.3 265.6,659.3 266.9,659.3 268.1,659.3 269.4,659.3 270.6,659.3 271.9,659.5 273.1,659.3 274.4,659.3 275.6,659.3 276.9,659.4 278.1,659.5 279.4,659.6 280.6,659.6 281.9,659.6 283.1,659.5 284.4,659.5 285.6,659.5 286.9,659.7 288.1,659.6 289.4,659.7 290.6,659.7 291.9,659.7 293.1,659.7 294.4,659.7 295.6,659.9 296.9,659.8 298.1,659.9 299.4,659.9 300.6,659.9 301.9,660.0 303.1,659.9 304.4,660.1 305.6,660.0 306.9,659.9 308.1,660.1 309.4,660.2 310.6,660.1 311.9,660.1 313.1,660.0 314.4,660.2 315.6,660.3 316.9,660.1 318.1,660.1 319.4,660.0 320.6,660.2 321.9,660.2 323.1,660.2 324.4,660.2 325.6,660.1 326.9,660.3 328.1,660.2 329.4,660.2 330.6,660.2 331.9,660.0 333.1,660.2 334.4,660.2 335.6,660.3 336.9,660.3 338.1,660.2 339.4,660.0 340.6,660.1 341.9,660.1 343.1,660.1 344.4,660.0 345.6,660.1 346.9,660.2 348.1,660.2 349.4,660.1 350.6,660.0 351.9,660.1 353.1,659.8 354.4,660.0 355.6,660.2 356.9,660.2 358.1,660.2 359.4,660.1 360.6,660.3 361.9,660.1 363.1,660.1 364.4,660.1 365.6,660.0 366.9,660.1 368.1,660.0 369.4,660.0 370.6,660.2 371.9,660.1 373.1,660.1 374.4,660.2 375.6,660.1 376.9,660.1 378.1,660.2 379.4,660.2 380.6,660.3 381.9,660.3 383.1,660.4 384.4,660.3 385.6,660.3 386.9,660.4 388.1,660.5 389.4,660.7 390.6,660.8 391.9,660.7 393.1,660.7 394.4,660.7 395.6,660.8 396.9,660.8 398.1,660.9 399.4,660.8 400.6,660.9 401.9,661.1 403.1,661.0 404.4,661.0 405.6,661.0 406.9,661.0 408.1,660.9 409.4,660.8 410.6,661.0 411.9,661.1 413.1,661.1 414.4,661.0 415.6,661.0 416.9,660.9 418.1,661.0 419.4,661.0 420.6,661.0 421.9,661.0 423.1,661.1 424.4,661.1 425.6,661.0 426.9,661.1 428.1,661.0 429.4,661.0 430.6,661.0 431.9,661.1 433.1,661.0 434.4,661.1 435.6,660.9 436.9,660.8 438.1,661.0 439.4,661.1 440.6,661.0 441.9,661.1 443.1,661.1 444.4,661.2 445.6,661.2 446.9,661.2 448.1,661.3 449.4,661.4 450.6,661.5 451.9,661.5 453.1,661.5 454.4,661.6 455.6,661.7 456.9,661.9 458.1,662.0 459.4,661.9 460.6,661.9 461.9,661.9 463.1,662.0 464.4,661.9 465.6,662.0 466.9,662.0 468.1,662.0 469.4,662.1 470.6,661.9 471.9,661.9 473.1,661.8 474.4,661.9 475.6,661.9 476.9,662.1 478.1,661.9 479.4,662.1 480.6,661.9 481.9,662.0 483.1,662.0 484.4,661.9 485.6,662.0 486.9,661.9 488.1,662.0 489.4,661.9 490.6,661.8 491.9,662.0 493.1,661.9 494.4,661.9 495.6,662.0 496.9,662.0 498.1,662.1 499.4,662.0 500.6,662.0 501.9,662.0 503.1,661.9 504.4,662.0 505.6,662.1 506.9,661.9 508.1,662.0 509.4,662.0 510.6,662.0 511.9,661.9 513.1,662.0 514.4,662.0 515.6,662.0 516.9,662.0 518.1,662.1 519.4,662.0 520.6,662.2 521.9,662.2 523.1,662.3 524.4,662.1 525.6,662.1 526.9,662.1 528.1,662.2 529.4,662.0 530.6,662.0 531.9,662.0 533.1,662.0 534.4,662.2 535.6,662.2 536.9,662.2 538.1,662.3 539.4,662.3 540.6,662.2 541.9,662.2 543.1,662.4 544.4,662.5 545.6,662.4 546.9,662.5 548.1,662.5 549.4,662.5 550.6,662.6 551.9,662.7 553.1,662.6 554.4,662.4 555.6,662.4 556.9,662.4 558.1,662.5 559.4,662.3 560.6,662.3 561.9,662.3 563.1,662.3 564.4,662.1 565.6,662.0 566.9,662.0 568.1,662.1 569.4,662.2 570.6,661.9 571.9,661.9 573.1,662.0 574.4,662.0 575.6,661.9 576.9,662.0 578.1,662.0 579.4,662.0 580.6,662.0 581.9,662.0 583.1,662.0 584.4,662.0 585.6,661.8 586.9,661.9 588.1,661.8 589.4,661.9 590.6,662.0 591.9,662.0 593.1,662.0 594.4,661.9 595.6,661.9 596.9,661.8 598.1,661.8 599.4,662.0 600.6,662.0 601.9,661.9 603.1,661.9 604.4,661.9 605.6,661.9 606.9,661.9 608.1,661.9 609.4,661.9 610.6,661.7 611.9,661.7 613.1,661.9 614.4,661.9 615.6,662.0 616.9,662.0 618.1,662.0 619.4,662.0 620.6,662.0 621.9,661.9 623.1,662.0 624.4,661.9 625.6,662.0 626.9,661.9 628.1,662.1 629.4,662.0 630.6,662.0 631.9,661.8 633.1,662.1 634.4,661.9 635.6,662.0 636.9,661.9 638.1,661.9 639.4,661.9 640.6,661.9 641.9,662.0 643.1,662.0 644.4,661.9 645.6,661.9 646.9,662.0 648.1,661.9 649.4,661.8 650.6,661.8 651.9,661.8 653.1,661.8 654.4,661.8 655.6,662.0 656.9,661.9 658.1,661.9 659.4,661.8 660.6,661.9 661.9,661.9 663.1,661.8 664.4,661.8 665.6,661.8 666.9,662.0 668.1,661.9 669.4,661.8 670.6,662.0 671.9,661.9 673.1,662.0 674.4,661.9 675.6,661.9 676.9,661.8 678.1,661.9 679.4,662.0 680.6,662.0 681.9,662.1 683.1,661.9 684.4,661.9 685.6,661.9 686.9,662.0 688.1,662.0 689.4,661.9 690.6,661.9 691.9,661.8 693.1,661.9 694.4,662.0 695.6,662.1 696.9,662.0 698.1,661.7 699.4,662.0 700.6,661.8 701.9,661.9 703.1,661.9 704.4,661.9 705.6,661.9 706.9,661.7 708.1,661.8 709.4,661.9 710.6,661.9 711.9,661.9 713.1,661.7 714.4,661.9 715.6,661.9 716.9,661.8 718.1,661.8 719.4,661.8 720.6,661.8 721.9,661.9 723.1,661.9 724.4,662.0 725.6,662.1 726.9,662.0 728.1,662.0 729.4,662.0 730.6,662.0 731.9,661.9 733.1,662.0 734.4,661.9 735.6,662.0 736.9,662.0 738.1,661.9 739.4,662.0 740.6,662.0 741.9,662.0 743.1,662.0 744.4,661.9 745.6,661.8 746.9,661.9 748.1,661.8 749.4,662.0 750.6,662.0 751.9,661.9 753.1,662.0 754.4,661.9 755.6,662.0 756.9,661.9 758.1,661.9 759.4,661.8 760.6,661.9" fill="none" stroke="#00870a" stroke-width="2.2" stroke-linejoin="round"/>
<polyline points="784.0,661.8 785.2,661.8 786.5,661.7 787.7,661.8 789.0,661.9 790.2,662.1 791.5,662.0 792.7,661.8 794.0,661.9 795.2,661.8 796.5,661.9 797.7,662.0 799.0,661.9 800.2,662.0 801.5,662.1 802.7,662.0 804.0,662.0 805.2,661.9 806.5,661.8 807.7,661.8 809.0,661.9 810.2,661.7 811.5,661.9 812.7,661.8 814.0,661.8 815.2,662.1 816.5,662.0 817.7,661.9 819.0,661.9 820.2,661.7 821.5,661.8 822.7,661.7 824.0,661.8 825.2,661.8 826.5,661.9 827.7,661.9 829.0,662.0 830.2,661.9 831.5,661.9 832.7,662.0 834.0,662.1 835.2,662.0 836.5,661.9 837.7,661.9 839.0,661.9 840.2,661.9 841.5,661.9 842.7,661.9 844.0,661.9 845.2,661.9 846.5,662.0 847.7,662.0 849.0,662.0 850.2,662.0 851.5,661.8 852.7,661.8 854.0,661.9 855.2,661.8 856.5,661.9 857.7,661.8 859.0,661.8 860.2,661.7 861.5,661.8 862.7,661.9 864.0,661.8 865.2,661.8 866.5,661.8 867.7,661.9 869.0,661.9 870.2,662.0 871.5,662.0 872.7,662.0 874.0,662.0 875.2,661.8 876.5,661.9 877.7,661.9 879.0,662.0 880.2,661.9 881.5,662.0 882.7,662.0 884.0,662.0 885.2,661.9 886.5,661.8 887.7,661.9 889.0,661.9 890.2,661.8 891.5,661.7 892.7,661.5 894.0,661.5 895.2,661.4 896.5,661.4 897.7,661.4 899.0,661.4 900.2,661.3 901.5,661.2 902.7,661.1 904.0,661.0 905.2,660.9 906.5,661.0 907.7,661.0 909.0,660.8 910.2,660.9 911.5,660.6 912.7,660.5 914.0,660.5 915.2,660.6 916.5,660.6 917.7,660.6 919.0,660.6 920.2,660.7 921.5,660.6 922.7,660.6 924.0,660.5 925.2,660.5 926.5,660.7 927.7,660.7 929.0,660.9 930.2,660.7 931.5,660.7 932.7,660.7 934.0,660.7 935.2,660.7 936.5,660.7 937.7,660.8 939.0,660.8 940.2,660.8 941.5,660.9 942.7,660.8 944.0,660.7 945.2,660.8 946.5,660.9 947.7,660.8 949.0,660.9 950.2,660.9 951.5,661.0 952.7,660.9 954.0,661.1 955.2,660.9 956.5,661.0 957.7,661.0 959.0,661.0 960.2,661.2 961.5,661.2 962.7,661.2 964.0,661.2 965.2,661.1 966.5,661.1 967.7,661.2 969.0,661.0 970.2,661.1 971.5,661.0 972.7,661.1 974.0,661.1 975.2,661.2 976.5,661.1 977.7,661.1 979.0,661.1 980.2,661.1 981.5,661.0 982.7,660.9 984.0,660.9 985.2,660.8 986.5,660.8 987.7,660.9 989.0,660.9 990.2,660.7 991.5,660.7 992.7,660.5 994.0,660.5 995.2,660.5 996.5,660.4 997.7,660.5 999.0,660.5 1000.2,660.5 1001.5,660.6 1002.7,660.5 1004.0,660.3 1005.2,660.3 1006.5,660.2 1007.7,660.3 1009.0,660.3 1010.2,660.4 1011.5,660.1 1012.7,660.2 1014.0,660.1 1015.2,660.1 1016.5,660.1 1017.7,660.1 1019.0,660.0 1020.2,660.0 1021.5,660.0 1022.7,659.9 1024.0,659.9 1025.2,660.0 1026.5,660.0 1027.7,659.9 1029.0,659.9 1030.2,659.8 1031.5,659.9 1032.7,659.8 1034.0,659.7 1035.2,659.9 1036.5,659.9 1037.7,659.8 1039.0,659.7 1040.2,659.6 1041.5,659.6 1042.7,659.6 1044.0,659.6 1045.2,659.7 1046.5,659.7 1047.7,659.7 1049.0,659.7 1050.2,659.6 1051.5,659.6 1052.7,659.5 1054.0,659.7 1055.2,659.6 1056.5,659.7 1057.7,659.7 1059.0,659.7 1060.2,659.6 1061.5,659.5 1062.7,659.6 1064.0,659.5 1065.2,659.7 1066.5,659.7 1067.7,659.8 1069.0,659.6 1070.2,659.6 1071.5,659.6 1072.7,659.6 1074.0,659.7 1075.2,659.7 1076.5,659.7 1077.7,659.7 1079.0,659.6 1080.2,659.8 1081.5,659.8 1082.7,659.8 1084.0,659.6 1085.2,659.6 1086.5,659.6 1087.7,659.6 1089.0,659.7 1090.2,659.6 1091.5,659.7 1092.7,659.7 1094.0,659.8 1095.2,659.7 1096.5,659.8 1097.7,659.8 1099.0,659.7 1100.2,659.7 1101.5,659.6 1102.7,659.8 1104.0,659.8 1105.2,659.9 1106.5,659.9 1107.7,659.7 1109.0,659.8 1110.2,659.7 1111.5,659.7 1112.7,659.6 1114.0,659.7 1115.2,659.6 1116.5,659.6 1117.7,659.6 1119.0,659.8 1120.2,659.8 1121.5,659.7 1122.7,659.7 1124.0,659.7 1125.2,659.6 1126.5,659.7 1127.7,659.7 1129.0,659.8 1130.2,659.8 1131.5,659.8 1132.7,659.8 1134.0,659.6 1135.2,659.7 1136.5,659.6 1137.7,659.6 1139.0,659.7 1140.2,659.6 1141.5,659.6 1142.7,659.7 1144.0,659.7 1145.2,659.7 1146.5,659.7 1147.7,659.7 1149.0,659.7 1150.2,659.8 1151.5,659.7 1152.7,659.7 1154.0,659.7 1155.2,659.6 1156.5,659.5 1157.7,659.5 1159.0,659.7 1160.2,659.8 1161.5,659.7 1162.7,659.7 1164.0,659.7 1165.2,659.6 1166.5,659.7 1167.7,659.6 1169.0,659.6 1170.2,659.5 1171.5,659.7 1172.7,659.5 1174.0,659.7 1175.2,659.5 1176.5,659.7 1177.7,659.6 1179.0,659.6 1180.2,659.8 1181.5,659.8 1182.7,659.7 1184.0,659.7 1185.2,659.7 1186.5,659.7 1187.7,659.7 1189.0,659.7 1190.2,659.7 1191.5,659.6 1192.7,659.6 1194.0,659.7" fill="none" stroke="#00870a" stroke-width="2.2" stroke-linejoin="round"/>
<line x1="761.0" y1="661.9" x2="761.0" y2="673.9" stroke="#00870a" stroke-width="0.9" stroke-dasharray="0.8 1.8" opacity="0.75"/>
<line x1="783.8" y1="661.9" x2="783.8" y2="673.9" stroke="#00870a" stroke-width="0.9" stroke-dasharray="0.8 1.8" opacity="0.75"/>
<line x1="1194.9" y1="659.7" x2="1194.9" y2="671.7" stroke="#00870a" stroke-width="0.9" stroke-dasharray="0.8 1.8" opacity="0.75"/>
<polyline points="111.9,648.6 113.1,648.7 114.4,648.9 115.6,648.7 116.9,648.7 118.1,648.6 119.4,648.7 120.6,648.7 121.9,648.8 123.1,648.8 124.4,649.0 125.6,649.0 126.9,649.1 128.1,648.8 129.4,649.0 130.6,649.0 131.9,649.1 133.1,648.9 134.4,649.0 135.6,649.1 136.9,649.1 138.1,649.1 139.4,649.1 140.6,649.2 141.9,649.2 143.1,649.2 144.4,649.1 145.6,649.1 146.9,649.3 148.1,649.2 149.4,649.4 150.6,649.4 151.9,649.4 153.1,649.1 154.4,649.3 155.6,649.3 156.9,649.3 158.1,649.2 159.4,649.3 160.6,649.4 161.9,649.4 163.1,649.2 164.4,649.4 165.6,649.5 166.9,649.5 168.1,649.4 169.4,649.4 170.6,649.5 171.9,649.5 173.1,649.5 174.4,649.4 175.6,649.6 176.9,649.4 178.1,649.5 179.4,649.6 180.6,649.6 181.9,649.7 183.1,649.6 184.4,649.8 185.6,649.6 186.9,649.7 188.1,649.8 189.4,649.8 190.6,649.9 191.9,649.6 193.1,649.6 194.4,649.7 195.6,649.6 196.9,649.8 198.1,649.8 199.4,649.9 200.6,649.8 201.9,650.0 203.1,649.8 204.4,649.8 205.6,649.7 206.9,649.9 208.1,649.8 209.4,649.6 210.6,649.9 211.9,650.0 213.1,650.2 214.4,650.3 215.6,650.0 216.9,649.9 218.1,650.1 219.4,650.1 220.6,650.0 221.9,650.0 223.1,650.1 224.4,650.2 225.6,650.4 226.9,650.6 228.1,650.4 229.4,650.5 230.6,650.7 231.9,650.9 233.1,650.7 234.4,650.9 235.6,651.0 236.9,651.1 238.1,651.0 239.4,651.1 240.6,650.9 241.9,651.0 243.1,651.2 244.4,651.0 245.6,651.2 246.9,651.2 248.1,651.2 249.4,651.3 250.6,651.5 251.9,651.4 253.1,651.3 254.4,651.3 255.6,651.3 256.9,651.3 258.1,651.2 259.4,651.3 260.6,651.2 261.9,651.2 263.1,651.3 264.4,651.2 265.6,651.1 266.9,651.1 268.1,651.3 269.4,651.0 270.6,651.0 271.9,651.2 273.1,651.2 274.4,651.2 275.6,651.5 276.9,651.3 278.1,651.4 279.4,651.3 280.6,651.4 281.9,651.5 283.1,651.3 284.4,651.1 285.6,651.3 286.9,651.1 288.1,651.2 289.4,651.2 290.6,651.0 291.9,651.1 293.1,651.1 294.4,651.3 295.6,651.5 296.9,651.3 298.1,651.2 299.4,651.0 300.6,651.2 301.9,651.2 303.1,651.0 304.4,651.3 305.6,651.3 306.9,651.4 308.1,651.1 309.4,651.4 310.6,651.4 311.9,651.2 313.1,651.1 314.4,651.0 315.6,651.1 316.9,651.1 318.1,651.3 319.4,651.2 320.6,651.2 321.9,651.2 323.1,651.2 324.4,651.4 325.6,651.5 326.9,651.5 328.1,651.6 329.4,651.6 330.6,651.7 331.9,651.9 333.1,652.0 334.4,652.3 335.6,652.1 336.9,652.1 338.1,652.0 339.4,652.0 340.6,652.1 341.9,652.2 343.1,652.1 344.4,652.0 345.6,652.2 346.9,652.2 348.1,651.9 349.4,652.0 350.6,652.2 351.9,652.0 353.1,652.2 354.4,652.1 355.6,652.1 356.9,652.1 358.1,652.1 359.4,652.2 360.6,652.1 361.9,652.2 363.1,652.1 364.4,652.1 365.6,652.2 366.9,652.2 368.1,652.1 369.4,651.9 370.6,651.9 371.9,652.0 373.1,651.9 374.4,651.9 375.6,652.1 376.9,652.1 378.1,652.0 379.4,652.1 380.6,652.2 381.9,652.1 383.1,652.2 384.4,652.2 385.6,652.4 386.9,652.2 388.1,652.3 389.4,652.2 390.6,652.3 391.9,652.6 393.1,652.7 394.4,652.7 395.6,653.0 396.9,653.0 398.1,653.0 399.4,653.0 400.6,653.0 401.9,653.1 403.1,653.1 404.4,653.2 405.6,653.2 406.9,653.2 408.1,653.1 409.4,653.2 410.6,653.3 411.9,653.0 413.1,653.2 414.4,653.2 415.6,653.2 416.9,653.2 418.1,653.2 419.4,653.1 420.6,653.1 421.9,653.0 423.1,653.0 424.4,653.1 425.6,653.1 426.9,652.9 428.1,652.9 429.4,652.9 430.6,653.2 431.9,653.1 433.1,653.0 434.4,653.3 435.6,653.4 436.9,653.5 438.1,653.5 439.4,653.3 440.6,653.4 441.9,653.6 443.1,653.5 444.4,653.7 445.6,653.8 446.9,653.9 448.1,653.9 449.4,653.8 450.6,653.9 451.9,653.9 453.1,653.7 454.4,653.7 455.6,653.7 456.9,653.9 458.1,654.1 459.4,653.9 460.6,654.0 461.9,653.8 463.1,653.7 464.4,653.7 465.6,654.0 466.9,654.0 468.1,653.8 469.4,653.8 470.6,653.8 471.9,653.9 473.1,653.9 474.4,653.9 475.6,653.8 476.9,653.7 478.1,653.7 479.4,653.9 480.6,653.7 481.9,653.9 483.1,654.0 484.4,653.9 485.6,654.1 486.9,654.0 488.1,654.1 489.4,654.3 490.6,654.3 491.9,654.4 493.1,654.4 494.4,654.5 495.6,654.5 496.9,654.4 498.1,654.6 499.4,654.5 500.6,654.5 501.9,654.5 503.1,654.6 504.4,654.8 505.6,654.8 506.9,654.8 508.1,654.9 509.4,654.7 510.6,654.8 511.9,654.9 513.1,654.8 514.4,654.8 515.6,654.8 516.9,654.8 518.1,654.7 519.4,654.5 520.6,654.7 521.9,654.7 523.1,654.7 524.4,654.8 525.6,655.0 526.9,654.9 528.1,654.7 529.4,654.6 530.6,654.6 531.9,654.8 533.1,654.7 534.4,654.8 535.6,654.7 536.9,654.8 538.1,654.8 539.4,654.8 540.6,654.9 541.9,655.0 543.1,655.2 544.4,655.0 545.6,654.9 546.9,654.9 548.1,654.9 549.4,654.9 550.6,654.8 551.9,654.7 553.1,654.8 554.4,654.8 555.6,654.7 556.9,654.8 558.1,654.8 559.4,654.4 560.6,654.6 561.9,654.7 563.1,654.7 564.4,654.6 565.6,654.3 566.9,654.3 568.1,654.4 569.4,654.5 570.6,654.4 571.9,654.4 573.1,654.3 574.4,654.3 575.6,654.2 576.9,654.3 578.1,654.2 579.4,654.0 580.6,654.1 581.9,654.0 583.1,654.2 584.4,654.0 585.6,654.3 586.9,654.3 588.1,654.2 589.4,654.3 590.6,654.3 591.9,654.2 593.1,654.3 594.4,654.2 595.6,654.0 596.9,654.0 598.1,653.9 599.4,653.9 600.6,653.8 601.9,654.0 603.1,653.7 604.4,654.0 605.6,654.0 606.9,654.0 608.1,653.8 609.4,653.8 610.6,653.8 611.9,653.9 613.1,654.0 614.4,654.0 615.6,654.0 616.9,654.1 618.1,654.1 619.4,654.2 620.6,654.0 621.9,654.4 623.1,654.1 624.4,654.3 625.6,654.2 626.9,654.4 628.1,654.3 629.4,654.4 630.6,654.4 631.9,654.2 633.1,654.2 634.4,654.3 635.6,654.1 636.9,654.0 638.1,653.8 639.4,653.8 640.6,653.7 641.9,653.6 643.1,653.7 644.4,653.7 645.6,653.7 646.9,653.6 648.1,653.6 649.4,653.9 650.6,653.7 651.9,653.8 653.1,653.7 654.4,653.7 655.6,653.8 656.9,653.8 658.1,653.7 659.4,653.8 660.6,653.6 661.9,653.7 663.1,653.7 664.4,653.7 665.6,653.6 666.9,653.5 668.1,653.7 669.4,653.5 670.6,653.9 671.9,653.9 673.1,654.0 674.4,654.0 675.6,654.0 676.9,654.1 678.1,654.1 679.4,654.2 680.6,654.4 681.9,654.7 683.1,654.5 684.4,654.7 685.6,654.5 686.9,654.3 688.1,654.4 689.4,654.4 690.6,654.4 691.9,654.3 693.1,654.5 694.4,654.4 695.6,654.4 696.9,654.3 698.1,654.1 699.4,654.0 700.6,654.0 701.9,653.9 703.1,653.8 704.4,653.7 705.6,653.8 706.9,653.9 708.1,653.7 709.4,653.8 710.6,653.8 711.9,653.7 713.1,653.5 714.4,653.7 715.6,653.5 716.9,653.8 718.1,653.5 719.4,653.6 720.6,653.5 721.9,653.5 723.1,653.3 724.4,653.4 725.6,653.5 726.9,653.5 728.1,653.6 729.4,653.5 730.6,653.5 731.9,653.4 733.1,653.5 734.4,653.4 735.6,653.4 736.9,653.4 738.1,653.5 739.4,653.5 740.6,653.6 741.9,653.5 743.1,653.2 744.4,653.2 745.6,653.3 746.9,653.3 748.1,653.5 749.4,653.3 750.6,653.4 751.9,653.6 753.1,653.6 754.4,653.5 755.6,653.5 756.9,653.6 758.1,653.5 759.4,653.6 760.6,653.4" fill="none" stroke="#065f4b" stroke-width="2.2" stroke-linejoin="round"/>
<polyline points="784.0,654.0 785.2,653.8 786.5,653.6 787.7,653.9 789.0,653.8 790.2,654.0 791.5,654.0 792.7,654.2 794.0,654.1 795.2,654.1 796.5,654.0 797.7,654.0 799.0,654.0 800.2,654.0 801.5,653.9 802.7,653.9 804.0,653.8 805.2,653.7 806.5,653.9 807.7,653.9 809.0,653.8 810.2,653.8 811.5,653.8 812.7,653.8 814.0,654.0 815.2,654.0 816.5,654.2 817.7,653.9 819.0,653.9 820.2,653.7 821.5,653.8 822.7,654.1 824.0,654.2 825.2,653.9 826.5,654.0 827.7,654.0 829.0,653.8 830.2,653.6 831.5,653.9 832.7,653.9 834.0,654.0 835.2,653.8 836.5,653.9 837.7,653.8 839.0,653.7 840.2,653.8 841.5,653.8 842.7,653.8 844.0,653.8 845.2,653.7 846.5,653.8 847.7,654.0 849.0,654.0 850.2,653.9 851.5,654.1 852.7,653.8 854.0,653.7 855.2,653.6 856.5,653.8 857.7,653.7 859.0,653.7 860.2,653.6 861.5,653.7 862.7,653.6 864.0,653.7 865.2,653.5 866.5,653.6 867.7,653.4 869.0,653.4 870.2,653.5 871.5,653.5 872.7,653.5 874.0,653.6 875.2,653.5 876.5,653.7 877.7,653.7 879.0,653.5 880.2,653.4 881.5,653.4 882.7,653.5 884.0,653.5 885.2,653.4 886.5,653.3 887.7,653.3 889.0,653.2 890.2,653.3 891.5,653.1 892.7,653.0 894.0,652.9 895.2,653.0 896.5,652.7 897.7,652.8 899.0,652.8 900.2,652.8 901.5,652.8 902.7,652.6 904.0,652.5 905.2,652.3 906.5,652.4 907.7,652.6 909.0,652.4 910.2,652.3 911.5,652.1 912.7,652.0 914.0,652.1 915.2,652.3 916.5,652.2 917.7,652.1 919.0,652.0 920.2,651.9 921.5,652.2 922.7,651.8 924.0,651.9 925.2,651.7 926.5,651.7 927.7,651.6 929.0,651.7 930.2,651.8 931.5,651.7 932.7,651.7 934.0,651.6 935.2,651.8 936.5,651.8 937.7,651.9 939.0,651.7 940.2,651.6 941.5,651.7 942.7,651.8 944.0,651.9 945.2,652.0 946.5,652.2 947.7,652.1 949.0,652.1 950.2,652.0 951.5,651.9 952.7,652.0 954.0,652.0 955.2,652.1 956.5,651.8 957.7,651.8 959.0,651.9 960.2,651.9 961.5,652.1 962.7,652.1 964.0,652.2 965.2,651.9 966.5,652.0 967.7,652.1 969.0,652.2 970.2,652.2 971.5,652.2 972.7,652.0 974.0,652.0 975.2,652.1 976.5,651.9 977.7,652.1 979.0,651.9 980.2,652.3 981.5,652.1 982.7,651.9 984.0,652.1 985.2,652.0 986.5,652.0 987.7,652.0 989.0,652.1 990.2,652.0 991.5,652.0 992.7,651.8 994.0,651.8 995.2,651.7 996.5,651.6 997.7,651.8 999.0,651.6 1000.2,651.4 1001.5,651.4 1002.7,651.4 1004.0,651.3 1005.2,651.5 1006.5,651.4 1007.7,651.4 1009.0,651.3 1010.2,651.3 1011.5,651.2 1012.7,651.2 1014.0,650.9 1015.2,651.1 1016.5,651.1 1017.7,651.0 1019.0,651.1 1020.2,651.2 1021.5,651.1 1022.7,651.0 1024.0,650.8 1025.2,650.9 1026.5,650.9 1027.7,650.8 1029.0,650.7 1030.2,650.9 1031.5,651.0 1032.7,651.0 1034.0,650.9 1035.2,650.6 1036.5,650.6 1037.7,650.6 1039.0,650.9 1040.2,650.7 1041.5,650.8 1042.7,650.8 1044.0,651.0 1045.2,651.0 1046.5,650.9 1047.7,650.8 1049.0,650.9 1050.2,650.9 1051.5,650.9 1052.7,650.9 1054.0,650.7 1055.2,650.9 1056.5,650.9 1057.7,650.7 1059.0,650.8 1060.2,650.7 1061.5,650.8 1062.7,650.8 1064.0,650.8 1065.2,650.8 1066.5,650.8 1067.7,651.0 1069.0,651.0 1070.2,651.0 1071.5,650.9 1072.7,651.0 1074.0,650.9 1075.2,650.9 1076.5,650.9 1077.7,651.0 1079.0,651.1 1080.2,651.1 1081.5,651.0 1082.7,650.8 1084.0,650.9 1085.2,650.7 1086.5,650.7 1087.7,650.8 1089.0,651.0 1090.2,650.9 1091.5,651.1 1092.7,651.0 1094.0,651.1 1095.2,650.8 1096.5,650.9 1097.7,651.0 1099.0,651.0 1100.2,651.0 1101.5,650.8 1102.7,650.9 1104.0,650.9 1105.2,650.9 1106.5,650.8 1107.7,650.7 1109.0,650.8 1110.2,650.9 1111.5,651.0 1112.7,650.9 1114.0,651.2 1115.2,651.2 1116.5,651.0 1117.7,650.9 1119.0,650.6 1120.2,650.7 1121.5,650.4 1122.7,650.4 1124.0,650.3 1125.2,650.1 1126.5,649.8 1127.7,649.7 1129.0,649.6 1130.2,649.5 1131.5,649.7 1132.7,649.6 1134.0,649.8 1135.2,649.7 1136.5,649.6 1137.7,649.7 1139.0,649.7 1140.2,649.6 1141.5,649.6 1142.7,649.7 1144.0,649.5 1145.2,649.6 1146.5,649.5 1147.7,649.5 1149.0,649.8 1150.2,649.6 1151.5,649.9 1152.7,649.6 1154.0,649.8 1155.2,649.7 1156.5,649.8 1157.7,649.8 1159.0,649.8 1160.2,649.7 1161.5,649.8 1162.7,649.6 1164.0,649.6 1165.2,649.6 1166.5,649.5 1167.7,649.6 1169.0,649.9 1170.2,649.7 1171.5,649.6 1172.7,649.6 1174.0,649.4 1175.2,649.7 1176.5,649.6 1177.7,649.7 1179.0,649.7 1180.2,649.8 1181.5,649.7 1182.7,649.5 1184.0,649.5 1185.2,649.6 1186.5,649.4 1187.7,649.7 1189.0,649.7 1190.2,650.0 1191.5,650.1 1192.7,649.6 1194.0,649.8" fill="none" stroke="#065f4b" stroke-width="2.2" stroke-linejoin="round"/>
<line x1="761.0" y1="653.5" x2="761.0" y2="665.5" stroke="#065f4b" stroke-width="0.9" stroke-dasharray="0.8 1.8" opacity="0.75"/>
<line x1="783.8" y1="653.9" x2="783.8" y2="665.9" stroke="#065f4b" stroke-width="0.9" stroke-dasharray="0.8 1.8" opacity="0.75"/>
<line x1="1194.9" y1="649.7" x2="1194.9" y2="661.7" stroke="#065f4b" stroke-width="0.9" stroke-dasharray="0.8 1.8" opacity="0.75"/>
<polyline points="111.9,635.2 113.1,635.2 114.4,635.2 115.6,635.5 116.9,635.6 118.1,635.5 119.4,635.3 120.6,635.4 121.9,635.4 123.1,635.3 124.4,635.4 125.6,635.7 126.9,635.7 128.1,635.7 129.4,635.6 130.6,635.9 131.9,635.6 133.1,635.7 134.4,635.8 135.6,636.0 136.9,635.9 138.1,635.9 139.4,635.9 140.6,635.9 141.9,636.0 143.1,636.2 144.4,636.4 145.6,636.3 146.9,636.3 148.1,636.2 149.4,636.1 150.6,636.2 151.9,636.3 153.1,636.4 154.4,636.4 155.6,636.4 156.9,636.3 158.1,636.4 159.4,636.5 160.6,636.5 161.9,636.5 163.1,636.5 164.4,636.5 165.6,636.6 166.9,636.7 168.1,636.5 169.4,636.4 170.6,636.2 171.9,636.7 173.1,636.6 174.4,636.6 175.6,636.6 176.9,636.6 178.1,636.6 179.4,636.7 180.6,636.8 181.9,636.7 183.1,637.0 184.4,636.9 185.6,637.1 186.9,637.0 188.1,637.0 189.4,637.4 190.6,637.4 191.9,637.7 193.1,637.6 194.4,637.6 195.6,637.6 196.9,637.8 198.1,637.9 199.4,637.9 200.6,637.9 201.9,638.0 203.1,637.9 204.4,638.0 205.6,637.9 206.9,638.0 208.1,638.0 209.4,638.1 210.6,638.1 211.9,637.9 213.1,637.9 214.4,638.2 215.6,638.1 216.9,638.4 218.1,638.4 219.4,638.6 220.6,638.5 221.9,638.4 223.1,638.6 224.4,638.7 225.6,638.6 226.9,638.7 228.1,638.6 229.4,638.7 230.6,638.9 231.9,638.7 233.1,638.6 234.4,638.9 235.6,639.0 236.9,638.8 238.1,638.9 239.4,638.4 240.6,638.8 241.9,638.9 243.1,638.8 244.4,638.6 245.6,638.9 246.9,639.0 248.1,638.8 249.4,638.6 250.6,638.6 251.9,638.6 253.1,638.8 254.4,638.9 255.6,638.9 256.9,638.6 258.1,638.9 259.4,638.9 260.6,639.2 261.9,638.9 263.1,638.9 264.4,638.9 265.6,638.9 266.9,638.7 268.1,639.0 269.4,639.0 270.6,639.1 271.9,639.1 273.1,639.1 274.4,639.3 275.6,639.0 276.9,638.8 278.1,638.8 279.4,639.0 280.6,639.0 281.9,639.0 283.1,639.0 284.4,638.7 285.6,638.8 286.9,638.7 288.1,639.2 289.4,639.3 290.6,639.2 291.9,639.3 293.1,639.4 294.4,639.5 295.6,639.5 296.9,639.4 298.1,639.4 299.4,639.6 300.6,639.7 301.9,639.8 303.1,639.8 304.4,639.8 305.6,639.7 306.9,639.8 308.1,639.9 309.4,639.8 310.6,640.1 311.9,640.3 313.1,640.2 314.4,640.2 315.6,640.1 316.9,640.3 318.1,640.6 319.4,640.7 320.6,640.7 321.9,640.6 323.1,640.7 324.4,640.7 325.6,640.8 326.9,640.9 328.1,640.9 329.4,640.8 330.6,640.8 331.9,640.9 333.1,640.9 334.4,641.1 335.6,641.2 336.9,641.1 338.1,641.1 339.4,641.2 340.6,641.3 341.9,641.4 343.1,641.5 344.4,641.2 345.6,641.6 346.9,641.3 348.1,641.6 349.4,641.5 350.6,641.4 351.9,641.2 353.1,641.5 354.4,641.3 355.6,641.0 356.9,641.0 358.1,641.2 359.4,641.0 360.6,641.1 361.9,641.4 363.1,641.3 364.4,641.5 365.6,641.3 366.9,641.1 368.1,641.1 369.4,641.3 370.6,641.6 371.9,641.4 373.1,641.5 374.4,641.4 375.6,641.5 376.9,641.6 378.1,641.7 379.4,641.7 380.6,642.1 381.9,642.0 383.1,641.9 384.4,642.1 385.6,642.0 386.9,642.3 388.1,642.4 389.4,642.3 390.6,642.2 391.9,642.3 393.1,642.5 394.4,642.5 395.6,642.5 396.9,642.4 398.1,642.5 399.4,642.9 400.6,642.7 401.9,642.8 403.1,642.9 404.4,642.9 405.6,642.9 406.9,643.1 408.1,643.0 409.4,643.2 410.6,643.1 411.9,643.2 413.1,643.0 414.4,642.9 415.6,643.0 416.9,643.1 418.1,643.2 419.4,643.1 420.6,642.9 421.9,643.3 423.1,643.4 424.4,643.4 425.6,643.1 426.9,643.3 428.1,643.0 429.4,643.6 430.6,643.3 431.9,643.4 433.1,643.2 434.4,643.6 435.6,643.6 436.9,643.9 438.1,643.9 439.4,644.1 440.6,644.0 441.9,644.0 443.1,643.9 444.4,644.1 445.6,644.2 446.9,644.1 448.1,644.2 449.4,644.3 450.6,644.3 451.9,644.3 453.1,644.7 454.4,644.7 455.6,644.7 456.9,644.7 458.1,645.0 459.4,644.9 460.6,645.2 461.9,645.1 463.1,645.0 464.4,645.1 465.6,645.3 466.9,645.3 468.1,645.3 469.4,645.4 470.6,645.3 471.9,645.3 473.1,645.2 474.4,645.2 475.6,645.2 476.9,645.2 478.1,645.3 479.4,645.3 480.6,645.2 481.9,645.3 483.1,645.0 484.4,645.3 485.6,645.1 486.9,645.2 488.1,644.9 489.4,644.9 490.6,645.0 491.9,645.2 493.1,645.2 494.4,645.0 495.6,645.2 496.9,645.1 498.1,645.1 499.4,645.3 500.6,645.3 501.9,645.5 503.1,645.9 504.4,645.8 505.6,646.1 506.9,645.9 508.1,646.1 509.4,646.4 510.6,646.3 511.9,646.3 513.1,646.3 514.4,646.0 515.6,646.0 516.9,646.0 518.1,646.1 519.4,646.2 520.6,646.2 521.9,646.1 523.1,646.1 524.4,646.1 525.6,646.0 526.9,645.9 528.1,645.8 529.4,646.1 530.6,646.1 531.9,646.0 533.1,645.9 534.4,646.2 535.6,646.5 536.9,646.6 538.1,646.4 539.4,646.8 540.6,646.8 541.9,647.2 543.1,647.2 544.4,647.2 545.6,647.2 546.9,647.2 548.1,647.3 549.4,647.1 550.6,647.1 551.9,647.0 553.1,646.9 554.4,647.0 555.6,647.1 556.9,646.9 558.1,646.8 559.4,646.8 560.6,646.8 561.9,646.9 563.1,646.9 564.4,646.8 565.6,646.9 566.9,646.6 568.1,646.6 569.4,646.4 570.6,646.6 571.9,646.6 573.1,646.7 574.4,646.8 575.6,646.6 576.9,646.6 578.1,646.5 579.4,646.4 580.6,646.3 581.9,646.4 583.1,646.4 584.4,646.1 585.6,646.1 586.9,645.9 588.1,646.1 589.4,646.0 590.6,646.0 591.9,645.9 593.1,645.9 594.4,645.9 595.6,645.9 596.9,646.0 598.1,646.0 599.4,646.2 600.6,646.0 601.9,646.0 603.1,645.8 604.4,645.8 605.6,645.6 606.9,645.7 608.1,645.6 609.4,645.4 610.6,645.3 611.9,645.3 613.1,645.0 614.4,645.1 615.6,644.9 616.9,645.1 618.1,645.3 619.4,645.2 620.6,645.3 621.9,645.5 623.1,645.5 624.4,645.5 625.6,645.5 626.9,645.7 628.1,645.7 629.4,645.6 630.6,645.8 631.9,645.7 633.1,645.7 634.4,645.7 635.6,645.5 636.9,645.1 638.1,645.3 639.4,645.0 640.6,645.1 641.9,645.2 643.1,645.3 644.4,645.0 645.6,645.0 646.9,644.8 648.1,645.0 649.4,645.1 650.6,645.0 651.9,645.1 653.1,645.2 654.4,645.2 655.6,645.0 656.9,644.9 658.1,645.0 659.4,645.2 660.6,645.0 661.9,644.9 663.1,644.8 664.4,645.0 665.6,645.1 666.9,645.1 668.1,645.2 669.4,645.1 670.6,645.3 671.9,645.7 673.1,645.9 674.4,646.1 675.6,645.9 676.9,646.1 678.1,646.2 679.4,646.1 680.6,645.9 681.9,646.1 683.1,646.0 684.4,646.0 685.6,646.1 686.9,646.2 688.1,646.2 689.4,646.2 690.6,646.3 691.9,646.0 693.1,646.1 694.4,646.0 695.6,646.4 696.9,646.3 698.1,646.3 699.4,646.2 700.6,646.2 701.9,646.2 703.1,645.9 704.4,645.7 705.6,645.5 706.9,645.9 708.1,645.5 709.4,645.3 710.6,645.6 711.9,645.6 713.1,645.7 714.4,645.3 715.6,645.1 716.9,645.2 718.1,644.9 719.4,645.0 720.6,645.1 721.9,645.2 723.1,645.0 724.4,644.9 725.6,645.0 726.9,645.1 728.1,644.9 729.4,644.9 730.6,645.0 731.9,644.9 733.1,645.0 734.4,644.9 735.6,645.0 736.9,645.0 738.1,644.9 739.4,644.9 740.6,644.8 741.9,644.7 743.1,644.8 744.4,644.6 745.6,644.8 746.9,644.8 748.1,644.8 749.4,645.0 750.6,644.9 751.9,644.7 753.1,644.6 754.4,644.8 755.6,644.5 756.9,644.5 758.1,644.4 759.4,644.6 760.6,644.4" fill="none" stroke="#064180" stroke-width="2.2" stroke-linejoin="round"/>
<polyline points="784.0,645.3 785.2,645.1 786.5,644.8 787.7,644.8 789.0,645.0 790.2,645.0 791.5,645.0 792.7,645.0 794.0,644.9 795.2,645.0 796.5,645.0 797.7,645.1 799.0,645.1 800.2,645.3 801.5,645.1 802.7,645.2 804.0,645.1 805.2,645.0 806.5,645.0 807.7,644.8 809.0,645.2 810.2,644.7 811.5,644.9 812.7,644.7 814.0,644.9 815.2,644.8 816.5,645.2 817.7,645.0 819.0,644.8 820.2,645.0 821.5,644.8 822.7,644.9 824.0,645.1 825.2,644.9 826.5,645.1 827.7,645.1 829.0,645.0 830.2,645.2 831.5,644.8 832.7,644.8 834.0,644.8 835.2,644.8 836.5,644.5 837.7,644.6 839.0,644.8 840.2,644.7 841.5,644.3 842.7,644.5 844.0,644.6 845.2,644.6 846.5,644.7 847.7,644.7 849.0,644.6 850.2,644.6 851.5,644.4 852.7,644.3 854.0,644.4 855.2,644.3 856.5,644.3 857.7,644.3 859.0,644.3 860.2,644.3 861.5,644.4 862.7,644.0 864.0,644.0 865.2,644.0 866.5,644.1 867.7,643.8 869.0,643.9 870.2,643.7 871.5,643.8 872.7,643.8 874.0,643.9 875.2,643.7 876.5,643.5 877.7,643.7 879.0,643.8 880.2,643.8 881.5,643.8 882.7,643.7 884.0,643.6 885.2,643.5 886.5,643.5 887.7,643.2 889.0,643.3 890.2,643.5 891.5,643.3 892.7,643.6 894.0,643.4 895.2,643.4 896.5,643.1 897.7,642.9 899.0,642.9 900.2,642.8 901.5,642.6 902.7,642.6 904.0,642.4 905.2,642.3 906.5,642.5 907.7,642.3 909.0,642.1 910.2,641.8 911.5,641.6 912.7,641.6 914.0,641.6 915.2,641.6 916.5,641.5 917.7,641.4 919.0,641.5 920.2,641.4 921.5,640.9 922.7,640.9 924.0,641.0 925.2,640.7 926.5,640.7 927.7,640.9 929.0,640.9 930.2,640.9 931.5,640.7 932.7,640.7 934.0,640.6 935.2,640.6 936.5,640.5 937.7,640.4 939.0,640.5 940.2,640.6 941.5,640.5 942.7,640.4 944.0,640.4 945.2,640.3 946.5,640.3 947.7,640.0 949.0,640.0 950.2,639.7 951.5,640.0 952.7,640.1 954.0,640.0 955.2,640.1 956.5,640.1 957.7,640.2 959.0,640.3 960.2,640.1 961.5,639.9 962.7,640.0 964.0,640.2 965.2,640.3 966.5,640.1 967.7,640.0 969.0,639.9 970.2,640.0 971.5,640.2 972.7,640.2 974.0,640.3 975.2,640.2 976.5,640.2 977.7,640.3 979.0,640.0 980.2,640.0 981.5,639.9 982.7,640.0 984.0,640.3 985.2,640.1 986.5,640.3 987.7,640.2 989.0,639.9 990.2,639.8 991.5,639.9 992.7,640.0 994.0,639.8 995.2,639.8 996.5,640.1 997.7,639.9 999.0,640.0 1000.2,640.0 1001.5,639.8 1002.7,640.0 1004.0,640.0 1005.2,640.1 1006.5,639.9 1007.7,639.7 1009.0,639.8 1010.2,639.8 1011.5,639.9 1012.7,639.8 1014.0,639.7 1015.2,640.0 1016.5,639.7 1017.7,639.7 1019.0,639.7 1020.2,639.8 1021.5,639.6 1022.7,639.5 1024.0,639.6 1025.2,639.5 1026.5,639.5 1027.7,639.4 1029.0,639.8 1030.2,639.6 1031.5,639.7 1032.7,639.6 1034.0,639.5 1035.2,639.5 1036.5,638.9 1037.7,639.1 1039.0,638.8 1040.2,638.8 1041.5,638.7 1042.7,639.0 1044.0,638.8 1045.2,639.1 1046.5,639.0 1047.7,639.1 1049.0,639.3 1050.2,639.2 1051.5,639.3 1052.7,639.3 1054.0,639.5 1055.2,639.4 1056.5,639.3 1057.7,639.4 1059.0,639.5 1060.2,639.6 1061.5,639.6 1062.7,639.3 1064.0,639.2 1065.2,639.4 1066.5,639.5 1067.7,639.6 1069.0,639.5 1070.2,639.6 1071.5,639.5 1072.7,639.4 1074.0,639.4 1075.2,639.4 1076.5,639.7 1077.7,639.5 1079.0,639.3 1080.2,639.3 1081.5,639.2 1082.7,639.2 1084.0,639.2 1085.2,639.3 1086.5,639.3 1087.7,639.2 1089.0,639.0 1090.2,639.3 1091.5,639.3 1092.7,639.1 1094.0,639.1 1095.2,639.4 1096.5,639.1 1097.7,638.9 1099.0,639.0 1100.2,639.0 1101.5,638.8 1102.7,638.8 1104.0,638.6 1105.2,638.9 1106.5,638.9 1107.7,638.9 1109.0,638.6 1110.2,638.7 1111.5,638.3 1112.7,638.3 1114.0,638.0 1115.2,638.1 1116.5,638.3 1117.7,638.1 1119.0,638.2 1120.2,638.1 1121.5,637.9 1122.7,637.7 1124.0,637.7 1125.2,638.0 1126.5,637.8 1127.7,637.9 1129.0,637.6 1130.2,637.7 1131.5,637.7 1132.7,637.7 1134.0,637.5 1135.2,637.7 1136.5,637.7 1137.7,637.9 1139.0,637.7 1140.2,637.8 1141.5,637.4 1142.7,637.9 1144.0,637.7 1145.2,637.8 1146.5,637.8 1147.7,637.9 1149.0,637.6 1150.2,637.5 1151.5,637.6 1152.7,637.6 1154.0,637.6 1155.2,637.5 1156.5,637.8 1157.7,637.9 1159.0,637.8 1160.2,637.8 1161.5,637.8 1162.7,638.1 1164.0,638.0 1165.2,637.7 1166.5,637.7 1167.7,637.5 1169.0,637.6 1170.2,637.4 1171.5,637.4 1172.7,637.7 1174.0,637.4 1175.2,637.7 1176.5,637.6 1177.7,637.5 1179.0,637.6 1180.2,637.5 1181.5,637.6 1182.7,637.8 1184.0,637.7 1185.2,637.7 1186.5,637.6 1187.7,637.6 1189.0,637.3 1190.2,637.5 1191.5,637.7 1192.7,637.6 1194.0,637.6" fill="none" stroke="#064180" stroke-width="2.2" stroke-linejoin="round"/>
<line x1="761.0" y1="644.6" x2="761.0" y2="656.6" stroke="#064180" stroke-width="0.9" stroke-dasharray="0.8 1.8" opacity="0.75"/>
<line x1="783.8" y1="645.0" x2="783.8" y2="657.0" stroke="#064180" stroke-width="0.9" stroke-dasharray="0.8 1.8" opacity="0.75"/>
<line x1="1194.9" y1="637.7" x2="1194.9" y2="649.7" stroke="#064180" stroke-width="0.9" stroke-dasharray="0.8 1.8" opacity="0.75"/>
<polyline points="111.9,614.1 113.1,614.4 114.4,614.8 115.6,614.8 116.9,614.9 118.1,614.7 119.4,614.6 120.6,614.6 121.9,614.8 123.1,615.2 124.4,615.1 125.6,615.3 126.9,614.8 128.1,614.9 129.4,615.0 130.6,614.9 131.9,614.8 133.1,615.0 134.4,615.6 135.6,615.3 136.9,616.0 138.1,615.6 139.4,615.6 140.6,615.9 141.9,616.3 143.1,616.5 144.4,616.6 145.6,616.5 146.9,616.7 148.1,616.9 149.4,617.3 150.6,617.7 151.9,617.5 153.1,617.7 154.4,617.5 155.6,617.4 156.9,617.8 158.1,618.3 159.4,618.7 160.6,619.1 161.9,619.0 163.1,619.4 164.4,618.7 165.6,619.0 166.9,619.0 168.1,619.6 169.4,619.8 170.6,619.9 171.9,619.3 173.1,620.0 174.4,620.2 175.6,620.5 176.9,620.4 178.1,620.1 179.4,620.5 180.6,620.6 181.9,620.5 183.1,620.5 184.4,620.2 185.6,620.9 186.9,621.0 188.1,621.1 189.4,621.3 190.6,621.5 191.9,621.4 193.1,621.6 194.4,622.0 195.6,622.1 196.9,622.2 198.1,622.5 199.4,622.2 200.6,622.9 201.9,622.3 203.1,622.0 204.4,621.6 205.6,621.9 206.9,622.1 208.1,621.7 209.4,621.6 210.6,621.5 211.9,621.5 213.1,621.6 214.4,621.6 215.6,621.5 216.9,621.0 218.1,621.3 219.4,620.8 220.6,621.2 221.9,620.7 223.1,621.1 224.4,620.6 225.6,621.1 226.9,621.3 228.1,621.4 229.4,621.5 230.6,621.6 231.9,621.5 233.1,621.6 234.4,621.5 235.6,621.7 236.9,621.5 238.1,621.2 239.4,620.7 240.6,621.2 241.9,621.2 243.1,621.1 244.4,621.3 245.6,621.1 246.9,621.2 248.1,621.0 249.4,621.2 250.6,621.0 251.9,620.6 253.1,620.4 254.4,620.4 255.6,619.9 256.9,620.1 258.1,620.0 259.4,620.3 260.6,620.1 261.9,619.9 263.1,619.6 264.4,619.8 265.6,619.5 266.9,619.3 268.1,619.1 269.4,618.9 270.6,619.0 271.9,618.8 273.1,618.9 274.4,618.8 275.6,618.6 276.9,619.1 278.1,618.5 279.4,618.3 280.6,618.4 281.9,618.4 283.1,618.7 284.4,618.2 285.6,618.2 286.9,617.8 288.1,617.5 289.4,617.6 290.6,617.8 291.9,617.5 293.1,617.9 294.4,618.3 295.6,618.2 296.9,618.3 298.1,618.3 299.4,618.2 300.6,618.4 301.9,618.2 303.1,618.2 304.4,618.7 305.6,618.4 306.9,618.5 308.1,618.3 309.4,618.8 310.6,618.6 311.9,618.4 313.1,618.7 314.4,619.0 315.6,619.3 316.9,619.5 318.1,619.8 319.4,619.6 320.6,619.8 321.9,620.1 323.1,620.1 324.4,619.8 325.6,620.4 326.9,621.0 328.1,620.7 329.4,621.1 330.6,620.8 331.9,621.2 333.1,621.2 334.4,621.3 335.6,621.7 336.9,621.8 338.1,622.2 339.4,622.2 340.6,622.1 341.9,621.7 343.1,621.0 344.4,620.8 345.6,621.0 346.9,621.0 348.1,621.1 349.4,621.1 350.6,620.9 351.9,620.3 353.1,620.1 354.4,620.1 355.6,620.1 356.9,619.8 358.1,620.2 359.4,619.8 360.6,619.8 361.9,619.7 363.1,619.7 364.4,619.5 365.6,619.6 366.9,619.5 368.1,619.4 369.4,619.9 370.6,619.7 371.9,619.8 373.1,619.5 374.4,620.2 375.6,620.1 376.9,620.2 378.1,620.5 379.4,620.4 380.6,620.4 381.9,620.7 383.1,620.9 384.4,620.7 385.6,620.7 386.9,621.0 388.1,621.3 389.4,621.5 390.6,622.1 391.9,621.3 393.1,621.5 394.4,622.1 395.6,622.2 396.9,622.0 398.1,622.2 399.4,622.7 400.6,622.5 401.9,622.1 403.1,622.2 404.4,621.9 405.6,621.8 406.9,622.0 408.1,621.8 409.4,622.2 410.6,622.2 411.9,622.4 413.1,622.2 414.4,622.5 415.6,622.0 416.9,622.2 418.1,621.7 419.4,622.3 420.6,622.6 421.9,622.8 423.1,622.5 424.4,622.6 425.6,622.6 426.9,622.6 428.1,622.7 429.4,623.1 430.6,623.1 431.9,623.0 433.1,623.1 434.4,622.9 435.6,623.0 436.9,623.1 438.1,623.5 439.4,623.9 440.6,623.5 441.9,623.7 443.1,623.7 444.4,623.5 445.6,623.8 446.9,623.9 448.1,624.1 449.4,623.8 450.6,623.5 451.9,623.3 453.1,623.3 454.4,622.9 455.6,622.7 456.9,622.9 458.1,623.4 459.4,623.1 460.6,623.7 461.9,623.9 463.1,624.1 464.4,624.3 465.6,623.7 466.9,623.6 468.1,623.6 469.4,622.9 470.6,623.3 471.9,623.3 473.1,623.2 474.4,622.9 475.6,622.7 476.9,622.5 478.1,622.7 479.4,622.7 480.6,622.6 481.9,622.2 483.1,622.2 484.4,622.3 485.6,621.9 486.9,622.1 488.1,622.2 489.4,622.2 490.6,621.9 491.9,622.2 493.1,622.1 494.4,622.7 495.6,622.8 496.9,622.0 498.1,621.7 499.4,622.1 500.6,622.4 501.9,622.3 503.1,622.3 504.4,622.2 505.6,621.7 506.9,622.2 508.1,621.9 509.4,622.4 510.6,622.6 511.9,622.4 513.1,622.0 514.4,621.5 515.6,621.7 516.9,621.7 518.1,621.3 519.4,621.4 520.6,621.5 521.9,621.3 523.1,621.8 524.4,621.2 525.6,620.6 526.9,620.9 528.1,620.4 529.4,620.6 530.6,620.1 531.9,620.4 533.1,620.3 534.4,620.7 535.6,621.2 536.9,621.1 538.1,621.5 539.4,621.4 540.6,622.0 541.9,622.1 543.1,622.6 544.4,622.8 545.6,622.9 546.9,623.0 548.1,623.0 549.4,623.3 550.6,623.0 551.9,622.8 553.1,622.9 554.4,623.2 555.6,623.0 556.9,623.3 558.1,622.9 559.4,622.9 560.6,623.1 561.9,622.8 563.1,623.4 564.4,623.0 565.6,623.1 566.9,623.4 568.1,623.5 569.4,623.5 570.6,623.6 571.9,623.4 573.1,623.6 574.4,623.5 575.6,623.4 576.9,623.4 578.1,623.3 579.4,623.4 580.6,622.6 581.9,623.0 583.1,623.0 584.4,622.5 585.6,622.0 586.9,621.8 588.1,621.8 589.4,621.9 590.6,621.6 591.9,622.3 593.1,622.5 594.4,622.6 595.6,622.4 596.9,622.8 598.1,622.8 599.4,623.3 600.6,623.3 601.9,623.0 603.1,623.4 604.4,623.6 605.6,623.1 606.9,622.7 608.1,622.7 609.4,622.5 610.6,622.7 611.9,622.4 613.1,622.6 614.4,622.7 615.6,622.5 616.9,622.3 618.1,622.0 619.4,622.2 620.6,622.0 621.9,622.1 623.1,621.9 624.4,622.5 625.6,622.6 626.9,622.8 628.1,623.3 629.4,623.5 630.6,623.6 631.9,623.9 633.1,623.8 634.4,623.9 635.6,623.9 636.9,623.8 638.1,623.5 639.4,623.4 640.6,623.7 641.9,623.0 643.1,623.4 644.4,623.2 645.6,623.0 646.9,622.7 648.1,623.1 649.4,622.9 650.6,622.9 651.9,622.9 653.1,622.9 654.4,622.1 655.6,622.0 656.9,622.0 658.1,622.0 659.4,621.5 660.6,621.6 661.9,621.4 663.1,621.5 664.4,621.8 665.6,622.1 666.9,621.6 668.1,621.9 669.4,622.1 670.6,622.5 671.9,622.1 673.1,622.6 674.4,623.2 675.6,623.1 676.9,623.4 678.1,623.7 679.4,623.6 680.6,624.2 681.9,624.4 683.1,624.7 684.4,624.7 685.6,624.6 686.9,624.3 688.1,623.9 689.4,624.3 690.6,624.0 691.9,623.7 693.1,623.4 694.4,623.4 695.6,623.2 696.9,622.7 698.1,622.9 699.4,623.1 700.6,622.7 701.9,622.9 703.1,622.8 704.4,622.9 705.6,623.2 706.9,623.0 708.1,623.9 709.4,623.8 710.6,623.9 711.9,623.5 713.1,624.1 714.4,623.8 715.6,624.1 716.9,623.7 718.1,624.4 719.4,624.1 720.6,624.4 721.9,624.8 723.1,625.0 724.4,624.7 725.6,624.3 726.9,624.3 728.1,624.8 729.4,624.2 730.6,624.0 731.9,623.8 733.1,623.8 734.4,623.8 735.6,624.4 736.9,624.1 738.1,624.2 739.4,624.1 740.6,623.7 741.9,623.7 743.1,624.1 744.4,623.6 745.6,623.4 746.9,623.2 748.1,623.2 749.4,623.2 750.6,623.0 751.9,623.4 753.1,622.9 754.4,623.2 755.6,623.0 756.9,623.3 758.1,623.3 759.4,623.3 760.6,623.5" fill="none" stroke="#001fd0" stroke-width="2.3" stroke-linejoin="round"/>
<polyline points="784.0,624.3 785.2,624.3 786.5,624.7 787.7,624.9 789.0,624.9 790.2,624.6 791.5,624.8 792.7,624.3 794.0,624.6 795.2,624.3 796.5,624.1 797.7,623.6 799.0,623.5 800.2,623.0 801.5,622.9 802.7,622.8 804.0,622.5 805.2,622.7 806.5,622.8 807.7,623.0 809.0,623.5 810.2,623.7 811.5,624.1 812.7,623.4 814.0,623.4 815.2,623.7 816.5,623.6 817.7,624.3 819.0,624.7 820.2,624.1 821.5,624.6 822.7,624.5 824.0,624.2 825.2,624.1 826.5,624.3 827.7,624.4 829.0,624.2 830.2,624.2 831.5,625.0 832.7,625.2 834.0,625.2 835.2,625.2 836.5,625.0 837.7,625.6 839.0,625.4 840.2,625.2 841.5,625.1 842.7,625.1 844.0,624.7 845.2,624.5 846.5,624.3 847.7,624.0 849.0,624.0 850.2,623.9 851.5,624.5 852.7,624.6 854.0,624.6 855.2,624.7 856.5,624.3 857.7,623.8 859.0,624.0 860.2,624.2 861.5,624.5 862.7,625.0 864.0,625.3 865.2,625.3 866.5,625.5 867.7,625.6 869.0,625.5 870.2,625.6 871.5,626.0 872.7,626.5 874.0,627.0 875.2,627.1 876.5,626.9 877.7,626.7 879.0,626.6 880.2,627.0 881.5,627.4 882.7,626.9 884.0,626.7 885.2,627.0 886.5,627.1 887.7,626.6 889.0,626.7 890.2,626.0 891.5,625.4 892.7,625.3 894.0,625.5 895.2,625.4 896.5,625.1 897.7,625.4 899.0,625.1 900.2,625.3 901.5,625.3 902.7,625.4 904.0,625.0 905.2,625.0 906.5,625.0 907.7,625.0 909.0,624.9 910.2,624.8 911.5,624.8 912.7,624.7 914.0,624.8 915.2,624.6 916.5,624.5 917.7,624.9 919.0,624.8 920.2,624.6 921.5,624.5 922.7,624.5 924.0,625.2 925.2,625.2 926.5,625.1 927.7,625.1 929.0,625.3 930.2,625.1 931.5,626.0 932.7,626.0 934.0,626.2 935.2,626.9 936.5,626.8 937.7,626.7 939.0,626.1 940.2,626.0 941.5,626.6 942.7,626.5 944.0,626.3 945.2,626.9 946.5,627.1 947.7,627.0 949.0,626.9 950.2,626.8 951.5,626.7 952.7,626.8 954.0,627.3 955.2,627.2 956.5,627.6 957.7,627.5 959.0,627.3 960.2,627.4 961.5,627.0 962.7,627.2 964.0,627.1 965.2,627.2 966.5,627.1 967.7,627.0 969.0,627.1 970.2,626.9 971.5,627.1 972.7,627.3 974.0,627.7 975.2,627.8 976.5,627.8 977.7,627.6 979.0,627.7 980.2,627.7 981.5,628.2 982.7,627.7 984.0,627.9 985.2,627.7 986.5,627.5 987.7,627.6 989.0,627.4 990.2,628.1 991.5,627.6 992.7,628.1 994.0,628.2 995.2,628.2 996.5,627.7 997.7,627.4 999.0,627.9 1000.2,628.0 1001.5,628.5 1002.7,628.1 1004.0,628.0 1005.2,627.4 1006.5,627.9 1007.7,627.6 1009.0,628.0 1010.2,628.1 1011.5,627.9 1012.7,628.0 1014.0,628.0 1015.2,627.9 1016.5,627.7 1017.7,627.9 1019.0,628.1 1020.2,628.4 1021.5,628.2 1022.7,628.1 1024.0,628.3 1025.2,628.4 1026.5,628.1 1027.7,628.0 1029.0,628.2 1030.2,628.0 1031.5,627.6 1032.7,627.9 1034.0,627.5 1035.2,627.5 1036.5,627.3 1037.7,627.1 1039.0,627.2 1040.2,627.3 1041.5,627.4 1042.7,627.4 1044.0,627.2 1045.2,627.5 1046.5,627.0 1047.7,627.7 1049.0,627.4 1050.2,627.4 1051.5,627.8 1052.7,627.7 1054.0,627.6 1055.2,627.4 1056.5,627.7 1057.7,628.0 1059.0,628.4 1060.2,628.3 1061.5,628.0 1062.7,628.1 1064.0,628.4 1065.2,628.6 1066.5,628.8 1067.7,628.7 1069.0,629.0 1070.2,629.1 1071.5,629.3 1072.7,629.4 1074.0,629.1 1075.2,629.6 1076.5,629.3 1077.7,629.8 1079.0,630.1 1080.2,630.1 1081.5,629.6 1082.7,629.6 1084.0,629.6 1085.2,629.6 1086.5,629.6 1087.7,629.3 1089.0,629.1 1090.2,629.0 1091.5,629.5 1092.7,629.4 1094.0,629.2 1095.2,629.4 1096.5,629.3 1097.7,629.2 1099.0,629.4 1100.2,629.2 1101.5,629.3 1102.7,629.2 1104.0,629.3 1105.2,629.2 1106.5,629.3 1107.7,629.1 1109.0,629.6 1110.2,629.0 1111.5,629.0 1112.7,629.0 1114.0,628.9 1115.2,628.8 1116.5,628.5 1117.7,628.2 1119.0,628.3 1120.2,628.4 1121.5,628.5 1122.7,628.3 1124.0,628.1 1125.2,628.6 1126.5,628.9 1127.7,629.2 1129.0,628.9 1130.2,628.8 1131.5,628.7 1132.7,629.0 1134.0,629.3 1135.2,629.8 1136.5,629.9 1137.7,630.0 1139.0,629.9 1140.2,629.6 1141.5,629.9 1142.7,629.6 1144.0,630.2 1145.2,630.2 1146.5,630.6 1147.7,630.6 1149.0,630.6 1150.2,630.6 1151.5,630.6 1152.7,631.0 1154.0,630.8 1155.2,631.2 1156.5,630.9 1157.7,630.9 1159.0,630.9 1160.2,630.9 1161.5,631.0 1162.7,631.4 1164.0,631.4 1165.2,631.4 1166.5,631.3 1167.7,632.0 1169.0,631.9 1170.2,632.0 1171.5,631.7 1172.7,631.8 1174.0,631.9 1175.2,632.4 1176.5,631.9 1177.7,631.8 1179.0,632.0 1180.2,632.5 1181.5,632.4 1182.7,631.8 1184.0,632.0 1185.2,632.2 1186.5,632.4 1187.7,632.2 1189.0,632.2 1190.2,632.2 1191.5,632.1 1192.7,632.2 1194.0,632.5" fill="none" stroke="#001fd0" stroke-width="2.3" stroke-linejoin="round"/>
<line x1="761.0" y1="623.4" x2="761.0" y2="639.4" stroke="#001fd0" stroke-width="0.9" stroke-dasharray="0.8 1.8" opacity="0.75"/>
<line x1="783.8" y1="624.0" x2="783.8" y2="640.0" stroke="#001fd0" stroke-width="0.9" stroke-dasharray="0.8 1.8" opacity="0.75"/>
<line x1="1194.9" y1="632.2" x2="1194.9" y2="648.2" stroke="#001fd0" stroke-width="0.9" stroke-dasharray="0.8 1.8" opacity="0.75"/>
<polyline points="111.9,582.1 113.1,581.9 114.4,583.0 115.6,584.2 116.9,584.3 118.1,584.3 119.4,584.4 120.6,584.9 121.9,585.1 123.1,584.9 124.4,585.5 125.6,586.2 126.9,586.7 128.1,587.1 129.4,586.5 130.6,586.5 131.9,586.7 133.1,586.5 134.4,587.6 135.6,587.6 136.9,588.0 138.1,588.0 139.4,588.3 140.6,587.9 141.9,587.3 143.1,587.3 144.4,587.8 145.6,587.1 146.9,587.7 148.1,588.7 149.4,588.8 150.6,589.2 151.9,589.6 153.1,590.3 154.4,590.0 155.6,590.4 156.9,590.9 158.1,591.2 159.4,591.2 160.6,590.4 161.9,590.7 163.1,590.1 164.4,590.4 165.6,590.5 166.9,590.4 168.1,590.7 169.4,591.2 170.6,591.1 171.9,590.9 173.1,591.5 174.4,592.4 175.6,593.5 176.9,593.7 178.1,593.8 179.4,593.5 180.6,593.4 181.9,593.0 183.1,593.1 184.4,592.7 185.6,593.1 186.9,593.3 188.1,593.4 189.4,594.0 190.6,593.8 191.9,594.1 193.1,593.7 194.4,594.2 195.6,594.4 196.9,594.5 198.1,595.1 199.4,595.0 200.6,595.2 201.9,594.2 203.1,593.5 204.4,593.2 205.6,593.0 206.9,592.0 208.1,591.3 209.4,591.1 210.6,591.6 211.9,591.5 213.1,591.7 214.4,591.3 215.6,591.2 216.9,591.5 218.1,591.5 219.4,591.8 220.6,592.7 221.9,592.7 223.1,593.9 224.4,594.5 225.6,595.1 226.9,594.9 228.1,595.3 229.4,595.5 230.6,596.3 231.9,596.3 233.1,596.1 234.4,596.2 235.6,595.7 236.9,595.5 238.1,594.3 239.4,594.1 240.6,595.0 241.9,595.3 243.1,595.6 244.4,596.0 245.6,596.1 246.9,596.0 248.1,596.5 249.4,595.4 250.6,595.3 251.9,595.0 253.1,594.5 254.4,593.9 255.6,594.5 256.9,593.7 258.1,593.3 259.4,593.6 260.6,593.7 261.9,594.1 263.1,594.3 264.4,593.8 265.6,594.1 266.9,594.3 268.1,595.1 269.4,594.4 270.6,594.1 271.9,594.5 273.1,594.1 274.4,594.8 275.6,593.8 276.9,593.4 278.1,593.3 279.4,593.3 280.6,593.3 281.9,592.9 283.1,592.6 284.4,592.8 285.6,591.9 286.9,591.8 288.1,591.6 289.4,591.6 290.6,591.3 291.9,591.5 293.1,591.4 294.4,591.2 295.6,591.1 296.9,591.5 298.1,591.4 299.4,591.4 300.6,591.8 301.9,591.9 303.1,591.8 304.4,591.7 305.6,592.0 306.9,592.2 308.1,592.8 309.4,593.1 310.6,594.1 311.9,593.9 313.1,594.2 314.4,594.5 315.6,595.1 316.9,595.2 318.1,595.5 319.4,596.0 320.6,595.8 321.9,596.0 323.1,595.1 324.4,594.9 325.6,594.6 326.9,594.9 328.1,595.8 329.4,595.7 330.6,596.3 331.9,596.2 333.1,597.4 334.4,597.6 335.6,597.9 336.9,597.4 338.1,598.0 339.4,597.8 340.6,598.1 341.9,597.7 343.1,597.6 344.4,596.7 345.6,596.8 346.9,596.7 348.1,597.0 349.4,596.1 350.6,595.7 351.9,594.4 353.1,594.6 354.4,593.4 355.6,592.9 356.9,592.1 358.1,591.1 359.4,591.2 360.6,591.0 361.9,591.2 363.1,590.6 364.4,591.1 365.6,591.7 366.9,592.3 368.1,592.7 369.4,593.3 370.6,593.5 371.9,594.6 373.1,594.1 374.4,594.9 375.6,595.0 376.9,595.5 378.1,595.7 379.4,595.9 380.6,596.2 381.9,596.3 383.1,596.9 384.4,596.6 385.6,597.2 386.9,597.4 388.1,597.3 389.4,596.7 390.6,597.5 391.9,597.9 393.1,598.5 394.4,598.6 395.6,599.2 396.9,599.1 398.1,598.7 399.4,599.1 400.6,599.2 401.9,599.3 403.1,599.8 404.4,599.7 405.6,598.9 406.9,598.3 408.1,598.6 409.4,597.7 410.6,598.0 411.9,598.6 413.1,598.9 414.4,598.7 415.6,599.2 416.9,599.0 418.1,599.2 419.4,599.7 420.6,600.0 421.9,600.4 423.1,600.9 424.4,601.1 425.6,600.5 426.9,601.2 428.1,601.2 429.4,600.7 430.6,599.8 431.9,600.1 433.1,599.3 434.4,599.6 435.6,599.2 436.9,599.5 438.1,599.4 439.4,600.1 440.6,600.8 441.9,600.9 443.1,601.0 444.4,601.2 445.6,601.9 446.9,602.0 448.1,601.5 449.4,601.7 450.6,601.1 451.9,600.5 453.1,599.8 454.4,599.8 455.6,599.5 456.9,599.4 458.1,600.0 459.4,600.6 460.6,600.4 461.9,601.2 463.1,601.4 464.4,600.8 465.6,601.2 466.9,600.9 468.1,600.7 469.4,600.6 470.6,601.0 471.9,600.4 473.1,599.7 474.4,600.2 475.6,600.3 476.9,600.1 478.1,600.1 479.4,599.3 480.6,598.3 481.9,598.6 483.1,598.7 484.4,598.7 485.6,598.6 486.9,598.6 488.1,599.2 489.4,598.8 490.6,599.1 491.9,598.5 493.1,599.1 494.4,599.0 495.6,598.8 496.9,598.8 498.1,599.6 499.4,600.1 500.6,599.8 501.9,599.5 503.1,600.2 504.4,600.1 505.6,600.6 506.9,600.8 508.1,600.5 509.4,599.5 510.6,599.6 511.9,599.3 513.1,599.6 514.4,598.9 515.6,598.5 516.9,598.7 518.1,597.8 519.4,598.0 520.6,597.4 521.9,598.0 523.1,597.5 524.4,597.7 525.6,597.3 526.9,596.8 528.1,597.3 529.4,597.3 530.6,597.7 531.9,597.7 533.1,598.2 534.4,598.3 535.6,598.1 536.9,598.3 538.1,598.8 539.4,599.5 540.6,599.4 541.9,600.7 543.1,600.3 544.4,600.0 545.6,599.6 546.9,600.1 548.1,600.2 549.4,600.0 550.6,600.2 551.9,600.1 553.1,600.5 554.4,600.2 555.6,600.4 556.9,600.8 558.1,600.3 559.4,599.7 560.6,599.8 561.9,599.8 563.1,600.5 564.4,600.6 565.6,600.7 566.9,600.8 568.1,601.7 569.4,601.2 570.6,601.5 571.9,601.6 573.1,601.0 574.4,601.6 575.6,601.7 576.9,600.7 578.1,601.8 579.4,600.8 580.6,600.6 581.9,599.3 583.1,599.4 584.4,599.2 585.6,599.5 586.9,600.3 588.1,599.3 589.4,599.0 590.6,599.1 591.9,600.2 593.1,600.4 594.4,601.0 595.6,600.4 596.9,600.6 598.1,601.2 599.4,601.4 600.6,601.3 601.9,601.0 603.1,601.0 604.4,601.1 605.6,601.6 606.9,600.9 608.1,601.0 609.4,600.6 610.6,600.8 611.9,600.4 613.1,600.5 614.4,600.1 615.6,600.5 616.9,599.5 618.1,599.9 619.4,599.5 620.6,599.9 621.9,600.7 623.1,601.2 624.4,601.3 625.6,601.6 626.9,602.0 628.1,602.3 629.4,602.9 630.6,603.3 631.9,602.9 633.1,604.1 634.4,604.0 635.6,603.7 636.9,602.9 638.1,603.5 639.4,603.3 640.6,604.0 641.9,603.7 643.1,603.6 644.4,602.9 645.6,602.6 646.9,602.2 648.1,602.0 649.4,601.9 650.6,601.6 651.9,601.7 653.1,601.4 654.4,601.1 655.6,600.7 656.9,600.1 658.1,600.0 659.4,600.2 660.6,599.8 661.9,599.3 663.1,599.2 664.4,599.5 665.6,599.6 666.9,600.3 668.1,600.7 669.4,601.4 670.6,602.1 671.9,602.4 673.1,602.6 674.4,603.2 675.6,604.0 676.9,603.9 678.1,604.5 679.4,604.6 680.6,604.7 681.9,605.0 683.1,605.2 684.4,605.6 685.6,605.1 686.9,604.7 688.1,604.3 689.4,604.7 690.6,603.4 691.9,603.6 693.1,602.9 694.4,603.2 695.6,602.7 696.9,602.0 698.1,601.9 699.4,601.6 700.6,601.3 701.9,601.8 703.1,602.2 704.4,602.3 705.6,601.6 706.9,602.3 708.1,602.4 709.4,602.2 710.6,602.8 711.9,603.7 713.1,603.2 714.4,603.9 715.6,603.8 716.9,603.8 718.1,604.4 719.4,605.2 720.6,605.5 721.9,606.1 723.1,605.7 724.4,605.9 725.6,605.5 726.9,605.7 728.1,605.1 729.4,604.1 730.6,604.5 731.9,604.6 733.1,604.9 734.4,605.3 735.6,604.5 736.9,603.3 738.1,602.9 739.4,603.8 740.6,603.4 741.9,603.5 743.1,603.1 744.4,603.2 745.6,603.2 746.9,602.8 748.1,602.5 749.4,602.3 750.6,602.3 751.9,602.1 753.1,602.1 754.4,602.5 755.6,603.2 756.9,603.0 758.1,603.0 759.4,603.2 760.6,602.8" fill="none" stroke="#0000ff" stroke-width="2.5" stroke-linejoin="round"/>
<polyline points="784.0,605.5 785.2,605.6 786.5,605.5 787.7,606.1 789.0,606.3 790.2,605.8 791.5,605.8 792.7,605.4 794.0,605.6 795.2,605.2 796.5,604.5 797.7,604.1 799.0,603.8 800.2,603.3 801.5,603.7 802.7,603.7 804.0,603.3 805.2,603.7 806.5,604.5 807.7,605.8 809.0,605.5 810.2,605.1 811.5,605.6 812.7,605.0 814.0,605.5 815.2,606.0 816.5,606.4 817.7,606.4 819.0,605.9 820.2,605.7 821.5,605.7 822.7,606.1 824.0,605.7 825.2,604.7 826.5,605.2 827.7,604.8 829.0,604.9 830.2,605.3 831.5,605.6 832.7,605.7 834.0,606.3 835.2,606.8 836.5,607.1 837.7,606.7 839.0,607.3 840.2,606.6 841.5,606.5 842.7,606.3 844.0,606.0 845.2,605.2 846.5,605.2 847.7,605.1 849.0,605.1 850.2,604.8 851.5,605.2 852.7,605.5 854.0,605.1 855.2,605.6 856.5,605.3 857.7,605.8 859.0,605.5 860.2,606.1 861.5,606.2 862.7,606.8 864.0,606.4 865.2,606.7 866.5,606.7 867.7,607.7 869.0,607.6 870.2,607.9 871.5,607.9 872.7,608.4 874.0,609.3 875.2,608.9 876.5,609.4 877.7,608.9 879.0,609.5 880.2,610.0 881.5,610.5 882.7,610.3 884.0,610.1 885.2,610.2 886.5,609.6 887.7,609.0 889.0,608.8 890.2,607.8 891.5,607.5 892.7,607.2 894.0,606.7 895.2,606.0 896.5,606.1 897.7,606.0 899.0,605.8 900.2,605.5 901.5,605.7 902.7,605.5 904.0,605.6 905.2,605.1 906.5,604.8 907.7,604.9 909.0,604.8 910.2,605.8 911.5,605.8 912.7,605.1 914.0,605.4 915.2,605.3 916.5,605.3 917.7,605.6 919.0,605.6 920.2,605.4 921.5,605.2 922.7,605.1 924.0,605.4 925.2,605.6 926.5,606.5 927.7,606.8 929.0,607.4 930.2,607.1 931.5,607.8 932.7,608.4 934.0,608.8 935.2,608.9 936.5,608.8 937.7,609.1 939.0,609.4 940.2,609.3 941.5,609.4 942.7,609.2 944.0,609.7 945.2,609.1 946.5,609.4 947.7,609.1 949.0,609.3 950.2,609.4 951.5,609.6 952.7,609.9 954.0,609.6 955.2,610.5 956.5,610.8 957.7,611.1 959.0,610.3 960.2,610.2 961.5,610.8 962.7,610.1 964.0,610.1 965.2,610.2 966.5,610.2 967.7,610.4 969.0,610.1 970.2,609.4 971.5,610.0 972.7,609.9 974.0,610.4 975.2,609.7 976.5,609.6 977.7,609.4 979.0,609.9 980.2,609.7 981.5,609.5 982.7,609.8 984.0,610.2 985.2,609.9 986.5,609.5 987.7,609.5 989.0,609.9 990.2,610.4 991.5,610.6 992.7,609.8 994.0,609.4 995.2,609.1 996.5,609.4 997.7,609.5 999.0,609.4 1000.2,609.6 1001.5,609.6 1002.7,609.8 1004.0,609.9 1005.2,610.0 1006.5,609.0 1007.7,609.3 1009.0,610.0 1010.2,610.1 1011.5,610.2 1012.7,609.7 1014.0,609.9 1015.2,609.9 1016.5,610.0 1017.7,610.3 1019.0,610.4 1020.2,610.4 1021.5,610.4 1022.7,610.3 1024.0,610.3 1025.2,611.3 1026.5,610.8 1027.7,610.9 1029.0,610.5 1030.2,610.6 1031.5,610.9 1032.7,609.7 1034.0,610.6 1035.2,610.4 1036.5,610.4 1037.7,609.8 1039.0,610.0 1040.2,609.4 1041.5,609.2 1042.7,608.8 1044.0,609.8 1045.2,610.0 1046.5,610.5 1047.7,610.6 1049.0,610.6 1050.2,610.4 1051.5,610.9 1052.7,610.6 1054.0,610.4 1055.2,610.4 1056.5,610.3 1057.7,610.5 1059.0,611.0 1060.2,611.7 1061.5,611.6 1062.7,612.0 1064.0,611.8 1065.2,612.4 1066.5,612.4 1067.7,612.7 1069.0,612.3 1070.2,612.2 1071.5,613.5 1072.7,613.4 1074.0,613.4 1075.2,613.6 1076.5,612.8 1077.7,612.7 1079.0,612.5 1080.2,612.4 1081.5,613.2 1082.7,612.6 1084.0,612.7 1085.2,612.5 1086.5,613.1 1087.7,613.0 1089.0,612.6 1090.2,612.3 1091.5,612.8 1092.7,613.1 1094.0,612.7 1095.2,612.7 1096.5,612.9 1097.7,614.0 1099.0,613.9 1100.2,614.4 1101.5,614.3 1102.7,614.0 1104.0,613.8 1105.2,614.1 1106.5,614.3 1107.7,614.5 1109.0,614.7 1110.2,613.5 1111.5,613.1 1112.7,612.8 1114.0,612.6 1115.2,612.1 1116.5,612.1 1117.7,612.6 1119.0,612.2 1120.2,612.1 1121.5,612.1 1122.7,612.0 1124.0,611.4 1125.2,611.9 1126.5,612.0 1127.7,611.8 1129.0,612.3 1130.2,612.3 1131.5,613.0 1132.7,613.2 1134.0,612.7 1135.2,612.7 1136.5,613.4 1137.7,614.0 1139.0,614.5 1140.2,614.7 1141.5,615.2 1142.7,615.8 1144.0,615.4 1145.2,615.6 1146.5,615.5 1147.7,615.3 1149.0,615.8 1150.2,615.8 1151.5,615.9 1152.7,615.6 1154.0,615.8 1155.2,615.9 1156.5,616.3 1157.7,615.6 1159.0,616.1 1160.2,616.2 1161.5,616.5 1162.7,616.6 1164.0,616.8 1165.2,616.7 1166.5,616.5 1167.7,616.8 1169.0,617.7 1170.2,617.0 1171.5,617.2 1172.7,617.1 1174.0,617.7 1175.2,617.6 1176.5,617.9 1177.7,618.1 1179.0,617.7 1180.2,617.7 1181.5,617.6 1182.7,617.3 1184.0,617.7 1185.2,617.7 1186.5,617.2 1187.7,617.5 1189.0,617.6 1190.2,617.7 1191.5,617.5 1192.7,617.8 1194.0,617.9" fill="none" stroke="#0000ff" stroke-width="2.5" stroke-linejoin="round"/>
<line x1="761.0" y1="603.8" x2="761.0" y2="619.8" stroke="#0000ff" stroke-width="0.9" stroke-dasharray="0.8 1.8" opacity="0.75"/>
<line x1="783.8" y1="605.1" x2="783.8" y2="621.1" stroke="#0000ff" stroke-width="0.9" stroke-dasharray="0.8 1.8" opacity="0.75"/>
<line x1="1194.9" y1="617.8" x2="1194.9" y2="633.8" stroke="#0000ff" stroke-width="0.9" stroke-dasharray="0.8 1.8" opacity="0.75"/>
<line x1="761.2" y1="665" x2="761.2" y2="679" stroke="#0000ff" stroke-width="1.1"/>
<line x1="783.6" y1="665" x2="783.6" y2="679" stroke="#0000ff" stroke-width="1.1"/>
<line x1="1194.9" y1="617" x2="1194.9" y2="679" stroke="#0000ff" stroke-width="0.9" stroke-dasharray="1 1.4" opacity="0.8"/>
<line x1="1194.7" y1="664" x2="1194.7" y2="679" stroke="#4b640f" stroke-width="0.9" opacity="0.8"/>
<line x1="760.7" y1="679.5" x2="784.0" y2="679.5" stroke="#0000ff" stroke-width="2.1"/>
<rect x="1195.0" y="675.3" width="15.0" height="1.8" fill="#0000ff"/>
<rect x="1195.0" y="677.1" width="15.0" height="1.2" fill="#0826d4" opacity="0.75"/>
<rect x="1195.0" y="678.2" width="15.0" height="2" fill="#0000ff"/>
<line x1="1197.2" y1="669.5" x2="1197.2" y2="675" stroke="#be2d0f" stroke-width="0.9" stroke-dasharray="1 1.2"/>
<rect x="74.5" y="65.5" width="1155.0" height="208" fill="none" stroke="#000" stroke-width="1.111"/>
<rect x="74.5" y="273.5" width="1155.0" height="208" fill="none" stroke="#000" stroke-width="1.111"/>
<rect x="74.5" y="481.5" width="1155.0" height="208" fill="none" stroke="#000" stroke-width="1.111"/>
<line x1="74.50" y1="65.50" x2="74.50" y2="62.45" stroke="#000" stroke-width="0.833"/>
<line x1="74.50" y1="273.50" x2="74.50" y2="276.55" stroke="#000" stroke-width="0.833"/>
<line x1="74.50" y1="481.50" x2="74.50" y2="484.55" stroke="#000" stroke-width="0.833"/>
<line x1="74.50" y1="689.50" x2="74.50" y2="692.55" stroke="#000" stroke-width="0.833"/>
<line x1="92.50" y1="65.50" x2="92.50" y2="62.45" stroke="#000" stroke-width="0.833"/>
<line x1="92.50" y1="273.50" x2="92.50" y2="276.55" stroke="#000" stroke-width="0.833"/>
<line x1="92.50" y1="481.50" x2="92.50" y2="484.55" stroke="#000" stroke-width="0.833"/>
<line x1="92.50" y1="689.50" x2="92.50" y2="692.55" stroke="#000" stroke-width="0.833"/>
<line x1="110.50" y1="65.50" x2="110.50" y2="60.64" stroke="#000" stroke-width="1.111"/>
<line x1="110.50" y1="273.50" x2="110.50" y2="278.36" stroke="#000" stroke-width="1.111"/>
<line x1="110.50" y1="481.50" x2="110.50" y2="486.36" stroke="#000" stroke-width="1.111"/>
<line x1="110.50" y1="689.50" x2="110.50" y2="694.36" stroke="#000" stroke-width="1.111"/>
<line x1="128.50" y1="65.50" x2="128.50" y2="62.45" stroke="#000" stroke-width="0.833"/>
<line x1="128.50" y1="273.50" x2="128.50" y2="276.55" stroke="#000" stroke-width="0.833"/>
<line x1="128.50" y1="481.50" x2="128.50" y2="484.55" stroke="#000" stroke-width="0.833"/>
<line x1="128.50" y1="689.50" x2="128.50" y2="692.55" stroke="#000" stroke-width="0.833"/>
<line x1="146.50" y1="65.50" x2="146.50" y2="62.45" stroke="#000" stroke-width="0.833"/>
<line x1="146.50" y1="273.50" x2="146.50" y2="276.55" stroke="#000" stroke-width="0.833"/>
<line x1="146.50" y1="481.50" x2="146.50" y2="484.55" stroke="#000" stroke-width="0.833"/>
<line x1="146.50" y1="689.50" x2="146.50" y2="692.55" stroke="#000" stroke-width="0.833"/>
<line x1="164.50" y1="65.50" x2="164.50" y2="62.45" stroke="#000" stroke-width="0.833"/>
<line x1="164.50" y1="273.50" x2="164.50" y2="276.55" stroke="#000" stroke-width="0.833"/>
<line x1="164.50" y1="481.50" x2="164.50" y2="484.55" stroke="#000" stroke-width="0.833"/>
<line x1="164.50" y1="689.50" x2="164.50" y2="692.55" stroke="#000" stroke-width="0.833"/>
<line x1="182.50" y1="65.50" x2="182.50" y2="62.45" stroke="#000" stroke-width="0.833"/>
<line x1="182.50" y1="273.50" x2="182.50" y2="276.55" stroke="#000" stroke-width="0.833"/>
<line x1="182.50" y1="481.50" x2="182.50" y2="484.55" stroke="#000" stroke-width="0.833"/>
<line x1="182.50" y1="689.50" x2="182.50" y2="692.55" stroke="#000" stroke-width="0.833"/>
<line x1="201.50" y1="65.50" x2="201.50" y2="62.45" stroke="#000" stroke-width="0.833"/>
<line x1="201.50" y1="273.50" x2="201.50" y2="276.55" stroke="#000" stroke-width="0.833"/>
<line x1="201.50" y1="481.50" x2="201.50" y2="484.55" stroke="#000" stroke-width="0.833"/>
<line x1="201.50" y1="689.50" x2="201.50" y2="692.55" stroke="#000" stroke-width="0.833"/>
<line x1="219.50" y1="65.50" x2="219.50" y2="60.64" stroke="#000" stroke-width="1.111"/>
<line x1="219.50" y1="273.50" x2="219.50" y2="278.36" stroke="#000" stroke-width="1.111"/>
<line x1="219.50" y1="481.50" x2="219.50" y2="486.36" stroke="#000" stroke-width="1.111"/>
<line x1="219.50" y1="689.50" x2="219.50" y2="694.36" stroke="#000" stroke-width="1.111"/>
<line x1="237.50" y1="65.50" x2="237.50" y2="62.45" stroke="#000" stroke-width="0.833"/>
<line x1="237.50" y1="273.50" x2="237.50" y2="276.55" stroke="#000" stroke-width="0.833"/>
<line x1="237.50" y1="481.50" x2="237.50" y2="484.55" stroke="#000" stroke-width="0.833"/>
<line x1="237.50" y1="689.50" x2="237.50" y2="692.55" stroke="#000" stroke-width="0.833"/>
<line x1="255.50" y1="65.50" x2="255.50" y2="62.45" stroke="#000" stroke-width="0.833"/>
<line x1="255.50" y1="273.50" x2="255.50" y2="276.55" stroke="#000" stroke-width="0.833"/>
<line x1="255.50" y1="481.50" x2="255.50" y2="484.55" stroke="#000" stroke-width="0.833"/>
<line x1="255.50" y1="689.50" x2="255.50" y2="692.55" stroke="#000" stroke-width="0.833"/>
<line x1="273.50" y1="65.50" x2="273.50" y2="62.45" stroke="#000" stroke-width="0.833"/>
<line x1="273.50" y1="273.50" x2="273.50" y2="276.55" stroke="#000" stroke-width="0.833"/>
<line x1="273.50" y1="481.50" x2="273.50" y2="484.55" stroke="#000" stroke-width="0.833"/>
<line x1="273.50" y1="689.50" x2="273.50" y2="692.55" stroke="#000" stroke-width="0.833"/>
<line x1="291.50" y1="65.50" x2="291.50" y2="62.45" stroke="#000" stroke-width="0.833"/>
<line x1="291.50" y1="273.50" x2="291.50" y2="276.55" stroke="#000" stroke-width="0.833"/>
<line x1="291.50" y1="481.50" x2="291.50" y2="484.55" stroke="#000" stroke-width="0.833"/>
<line x1="291.50" y1="689.50" x2="291.50" y2="692.55" stroke="#000" stroke-width="0.833"/>
<line x1="309.50" y1="65.50" x2="309.50" y2="62.45" stroke="#000" stroke-width="0.833"/>
<line x1="309.50" y1="273.50" x2="309.50" y2="276.55" stroke="#000" stroke-width="0.833"/>
<line x1="309.50" y1="481.50" x2="309.50" y2="484.55" stroke="#000" stroke-width="0.833"/>
<line x1="309.50" y1="689.50" x2="309.50" y2="692.55" stroke="#000" stroke-width="0.833"/>
<line x1="327.50" y1="65.50" x2="327.50" y2="60.64" stroke="#000" stroke-width="1.111"/>
<line x1="327.50" y1="273.50" x2="327.50" y2="278.36" stroke="#000" stroke-width="1.111"/>
<line x1="327.50" y1="481.50" x2="327.50" y2="486.36" stroke="#000" stroke-width="1.111"/>
<line x1="327.50" y1="689.50" x2="327.50" y2="694.36" stroke="#000" stroke-width="1.111"/>
<line x1="345.50" y1="65.50" x2="345.50" y2="62.45" stroke="#000" stroke-width="0.833"/>
<line x1="345.50" y1="273.50" x2="345.50" y2="276.55" stroke="#000" stroke-width="0.833"/>
<line x1="345.50" y1="481.50" x2="345.50" y2="484.55" stroke="#000" stroke-width="0.833"/>
<line x1="345.50" y1="689.50" x2="345.50" y2="692.55" stroke="#000" stroke-width="0.833"/>
<line x1="363.50" y1="65.50" x2="363.50" y2="62.45" stroke="#000" stroke-width="0.833"/>
<line x1="363.50" y1="273.50" x2="363.50" y2="276.55" stroke="#000" stroke-width="0.833"/>
<line x1="363.50" y1="481.50" x2="363.50" y2="484.55" stroke="#000" stroke-width="0.833"/>
<line x1="363.50" y1="689.50" x2="363.50" y2="692.55" stroke="#000" stroke-width="0.833"/>
<line x1="381.50" y1="65.50" x2="381.50" y2="62.45" stroke="#000" stroke-width="0.833"/>
<line x1="381.50" y1="273.50" x2="381.50" y2="276.55" stroke="#000" stroke-width="0.833"/>
<line x1="381.50" y1="481.50" x2="381.50" y2="484.55" stroke="#000" stroke-width="0.833"/>
<line x1="381.50" y1="689.50" x2="381.50" y2="692.55" stroke="#000" stroke-width="0.833"/>
<line x1="399.50" y1="65.50" x2="399.50" y2="62.45" stroke="#000" stroke-width="0.833"/>
<line x1="399.50" y1="273.50" x2="399.50" y2="276.55" stroke="#000" stroke-width="0.833"/>
<line x1="399.50" y1="481.50" x2="399.50" y2="484.55" stroke="#000" stroke-width="0.833"/>
<line x1="399.50" y1="689.50" x2="399.50" y2="692.55" stroke="#000" stroke-width="0.833"/>
<line x1="417.50" y1="65.50" x2="417.50" y2="62.45" stroke="#000" stroke-width="0.833"/>
<line x1="417.50" y1="273.50" x2="417.50" y2="276.55" stroke="#000" stroke-width="0.833"/>
<line x1="417.50" y1="481.50" x2="417.50" y2="484.55" stroke="#000" stroke-width="0.833"/>
<line x1="417.50" y1="689.50" x2="417.50" y2="692.55" stroke="#000" stroke-width="0.833"/>
<line x1="435.50" y1="65.50" x2="435.50" y2="60.64" stroke="#000" stroke-width="1.111"/>
<line x1="435.50" y1="273.50" x2="435.50" y2="278.36" stroke="#000" stroke-width="1.111"/>
<line x1="435.50" y1="481.50" x2="435.50" y2="486.36" stroke="#000" stroke-width="1.111"/>
<line x1="435.50" y1="689.50" x2="435.50" y2="694.36" stroke="#000" stroke-width="1.111"/>
<line x1="453.50" y1="65.50" x2="453.50" y2="62.45" stroke="#000" stroke-width="0.833"/>
<line x1="453.50" y1="273.50" x2="453.50" y2="276.55" stroke="#000" stroke-width="0.833"/>
<line x1="453.50" y1="481.50" x2="453.50" y2="484.55" stroke="#000" stroke-width="0.833"/>
<line x1="453.50" y1="689.50" x2="453.50" y2="692.55" stroke="#000" stroke-width="0.833"/>
<line x1="471.50" y1="65.50" x2="471.50" y2="62.45" stroke="#000" stroke-width="0.833"/>
<line x1="471.50" y1="273.50" x2="471.50" y2="276.55" stroke="#000" stroke-width="0.833"/>
<line x1="471.50" y1="481.50" x2="471.50" y2="484.55" stroke="#000" stroke-width="0.833"/>
<line x1="471.50" y1="689.50" x2="471.50" y2="692.55" stroke="#000" stroke-width="0.833"/>
<line x1="489.50" y1="65.50" x2="489.50" y2="62.45" stroke="#000" stroke-width="0.833"/>
<line x1="489.50" y1="273.50" x2="489.50" y2="276.55" stroke="#000" stroke-width="0.833"/>
<line x1="489.50" y1="481.50" x2="489.50" y2="484.55" stroke="#000" stroke-width="0.833"/>
<line x1="489.50" y1="689.50" x2="489.50" y2="692.55" stroke="#000" stroke-width="0.833"/>
<line x1="507.50" y1="65.50" x2="507.50" y2="62.45" stroke="#000" stroke-width="0.833"/>
<line x1="507.50" y1="273.50" x2="507.50" y2="276.55" stroke="#000" stroke-width="0.833"/>
<line x1="507.50" y1="481.50" x2="507.50" y2="484.55" stroke="#000" stroke-width="0.833"/>
<line x1="507.50" y1="689.50" x2="507.50" y2="692.55" stroke="#000" stroke-width="0.833"/>
<line x1="525.50" y1="65.50" x2="525.50" y2="62.45" stroke="#000" stroke-width="0.833"/>
<line x1="525.50" y1="273.50" x2="525.50" y2="276.55" stroke="#000" stroke-width="0.833"/>
<line x1="525.50" y1="481.50" x2="525.50" y2="484.55" stroke="#000" stroke-width="0.833"/>
<line x1="525.50" y1="689.50" x2="525.50" y2="692.55" stroke="#000" stroke-width="0.833"/>
<line x1="543.50" y1="65.50" x2="543.50" y2="60.64" stroke="#000" stroke-width="1.111"/>
<line x1="543.50" y1="273.50" x2="543.50" y2="278.36" stroke="#000" stroke-width="1.111"/>
<line x1="543.50" y1="481.50" x2="543.50" y2="486.36" stroke="#000" stroke-width="1.111"/>
<line x1="543.50" y1="689.50" x2="543.50" y2="694.36" stroke="#000" stroke-width="1.111"/>
<line x1="561.50" y1="65.50" x2="561.50" y2="62.45" stroke="#000" stroke-width="0.833"/>
<line x1="561.50" y1="273.50" x2="561.50" y2="276.55" stroke="#000" stroke-width="0.833"/>
<line x1="561.50" y1="481.50" x2="561.50" y2="484.55" stroke="#000" stroke-width="0.833"/>
<line x1="561.50" y1="689.50" x2="561.50" y2="692.55" stroke="#000" stroke-width="0.833"/>
<line x1="580.50" y1="65.50" x2="580.50" y2="62.45" stroke="#000" stroke-width="0.833"/>
<line x1="580.50" y1="273.50" x2="580.50" y2="276.55" stroke="#000" stroke-width="0.833"/>
<line x1="580.50" y1="481.50" x2="580.50" y2="484.55" stroke="#000" stroke-width="0.833"/>
<line x1="580.50" y1="689.50" x2="580.50" y2="692.55" stroke="#000" stroke-width="0.833"/>
<line x1="598.50" y1="65.50" x2="598.50" y2="62.45" stroke="#000" stroke-width="0.833"/>
<line x1="598.50" y1="273.50" x2="598.50" y2="276.55" stroke="#000" stroke-width="0.833"/>
<line x1="598.50" y1="481.50" x2="598.50" y2="484.55" stroke="#000" stroke-width="0.833"/>
<line x1="598.50" y1="689.50" x2="598.50" y2="692.55" stroke="#000" stroke-width="0.833"/>
<line x1="616.50" y1="65.50" x2="616.50" y2="62.45" stroke="#000" stroke-width="0.833"/>
<line x1="616.50" y1="273.50" x2="616.50" y2="276.55" stroke="#000" stroke-width="0.833"/>
<line x1="616.50" y1="481.50" x2="616.50" y2="484.55" stroke="#000" stroke-width="0.833"/>
<line x1="616.50" y1="689.50" x2="616.50" y2="692.55" stroke="#000" stroke-width="0.833"/>
<line x1="634.50" y1="65.50" x2="634.50" y2="62.45" stroke="#000" stroke-width="0.833"/>
<line x1="634.50" y1="273.50" x2="634.50" y2="276.55" stroke="#000" stroke-width="0.833"/>
<line x1="634.50" y1="481.50" x2="634.50" y2="484.55" stroke="#000" stroke-width="0.833"/>
<line x1="634.50" y1="689.50" x2="634.50" y2="692.55" stroke="#000" stroke-width="0.833"/>
<line x1="652.50" y1="65.50" x2="652.50" y2="60.64" stroke="#000" stroke-width="1.111"/>
<line x1="652.50" y1="273.50" x2="652.50" y2="278.36" stroke="#000" stroke-width="1.111"/>
<line x1="652.50" y1="481.50" x2="652.50" y2="486.36" stroke="#000" stroke-width="1.111"/>
<line x1="652.50" y1="689.50" x2="652.50" y2="694.36" stroke="#000" stroke-width="1.111"/>
<line x1="670.50" y1="65.50" x2="670.50" y2="62.45" stroke="#000" stroke-width="0.833"/>
<line x1="670.50" y1="273.50" x2="670.50" y2="276.55" stroke="#000" stroke-width="0.833"/>
<line x1="670.50" y1="481.50" x2="670.50" y2="484.55" stroke="#000" stroke-width="0.833"/>
<line x1="670.50" y1="689.50" x2="670.50" y2="692.55" stroke="#000" stroke-width="0.833"/>
<line x1="688.50" y1="65.50" x2="688.50" y2="62.45" stroke="#000" stroke-width="0.833"/>
<line x1="688.50" y1="273.50" x2="688.50" y2="276.55" stroke="#000" stroke-width="0.833"/>
<line x1="688.50" y1="481.50" x2="688.50" y2="484.55" stroke="#000" stroke-width="0.833"/>
<line x1="688.50" y1="689.50" x2="688.50" y2="692.55" stroke="#000" stroke-width="0.833"/>
<line x1="706.50" y1="65.50" x2="706.50" y2="62.45" stroke="#000" stroke-width="0.833"/>
<line x1="706.50" y1="273.50" x2="706.50" y2="276.55" stroke="#000" stroke-width="0.833"/>
<line x1="706.50" y1="481.50" x2="706.50" y2="484.55" stroke="#000" stroke-width="0.833"/>
<line x1="706.50" y1="689.50" x2="706.50" y2="692.55" stroke="#000" stroke-width="0.833"/>
<line x1="724.50" y1="65.50" x2="724.50" y2="62.45" stroke="#000" stroke-width="0.833"/>
<line x1="724.50" y1="273.50" x2="724.50" y2="276.55" stroke="#000" stroke-width="0.833"/>
<line x1="724.50" y1="481.50" x2="724.50" y2="484.55" stroke="#000" stroke-width="0.833"/>
<line x1="724.50" y1="689.50" x2="724.50" y2="692.55" stroke="#000" stroke-width="0.833"/>
<line x1="742.50" y1="65.50" x2="742.50" y2="62.45" stroke="#000" stroke-width="0.833"/>
<line x1="742.50" y1="273.50" x2="742.50" y2="276.55" stroke="#000" stroke-width="0.833"/>
<line x1="742.50" y1="481.50" x2="742.50" y2="484.55" stroke="#000" stroke-width="0.833"/>
<line x1="742.50" y1="689.50" x2="742.50" y2="692.55" stroke="#000" stroke-width="0.833"/>
<line x1="760.50" y1="65.50" x2="760.50" y2="60.64" stroke="#000" stroke-width="1.111"/>
<line x1="760.50" y1="273.50" x2="760.50" y2="278.36" stroke="#000" stroke-width="1.111"/>
<line x1="760.50" y1="481.50" x2="760.50" y2="486.36" stroke="#000" stroke-width="1.111"/>
<line x1="760.50" y1="689.50" x2="760.50" y2="694.36" stroke="#000" stroke-width="1.111"/>
<line x1="778.50" y1="65.50" x2="778.50" y2="62.45" stroke="#000" stroke-width="0.833"/>
<line x1="778.50" y1="273.50" x2="778.50" y2="276.55" stroke="#000" stroke-width="0.833"/>
<line x1="778.50" y1="481.50" x2="778.50" y2="484.55" stroke="#000" stroke-width="0.833"/>
<line x1="778.50" y1="689.50" x2="778.50" y2="692.55" stroke="#000" stroke-width="0.833"/>
<line x1="796.50" y1="65.50" x2="796.50" y2="62.45" stroke="#000" stroke-width="0.833"/>
<line x1="796.50" y1="273.50" x2="796.50" y2="276.55" stroke="#000" stroke-width="0.833"/>
<line x1="796.50" y1="481.50" x2="796.50" y2="484.55" stroke="#000" stroke-width="0.833"/>
<line x1="796.50" y1="689.50" x2="796.50" y2="692.55" stroke="#000" stroke-width="0.833"/>
<line x1="814.50" y1="65.50" x2="814.50" y2="62.45" stroke="#000" stroke-width="0.833"/>
<line x1="814.50" y1="273.50" x2="814.50" y2="276.55" stroke="#000" stroke-width="0.833"/>
<line x1="814.50" y1="481.50" x2="814.50" y2="484.55" stroke="#000" stroke-width="0.833"/>
<line x1="814.50" y1="689.50" x2="814.50" y2="692.55" stroke="#000" stroke-width="0.833"/>
<line x1="832.50" y1="65.50" x2="832.50" y2="62.45" stroke="#000" stroke-width="0.833"/>
<line x1="832.50" y1="273.50" x2="832.50" y2="276.55" stroke="#000" stroke-width="0.833"/>
<line x1="832.50" y1="481.50" x2="832.50" y2="484.55" stroke="#000" stroke-width="0.833"/>
<line x1="832.50" y1="689.50" x2="832.50" y2="692.55" stroke="#000" stroke-width="0.833"/>
<line x1="850.50" y1="65.50" x2="850.50" y2="62.45" stroke="#000" stroke-width="0.833"/>
<line x1="850.50" y1="273.50" x2="850.50" y2="276.55" stroke="#000" stroke-width="0.833"/>
<line x1="850.50" y1="481.50" x2="850.50" y2="484.55" stroke="#000" stroke-width="0.833"/>
<line x1="850.50" y1="689.50" x2="850.50" y2="692.55" stroke="#000" stroke-width="0.833"/>
<line x1="868.50" y1="65.50" x2="868.50" y2="60.64" stroke="#000" stroke-width="1.111"/>
<line x1="868.50" y1="273.50" x2="868.50" y2="278.36" stroke="#000" stroke-width="1.111"/>
<line x1="868.50" y1="481.50" x2="868.50" y2="486.36" stroke="#000" stroke-width="1.111"/>
<line x1="868.50" y1="689.50" x2="868.50" y2="694.36" stroke="#000" stroke-width="1.111"/>
<line x1="886.50" y1="65.50" x2="886.50" y2="62.45" stroke="#000" stroke-width="0.833"/>
<line x1="886.50" y1="273.50" x2="886.50" y2="276.55" stroke="#000" stroke-width="0.833"/>
<line x1="886.50" y1="481.50" x2="886.50" y2="484.55" stroke="#000" stroke-width="0.833"/>
<line x1="886.50" y1="689.50" x2="886.50" y2="692.55" stroke="#000" stroke-width="0.833"/>
<line x1="904.50" y1="65.50" x2="904.50" y2="62.45" stroke="#000" stroke-width="0.833"/>
<line x1="904.50" y1="273.50" x2="904.50" y2="276.55" stroke="#000" stroke-width="0.833"/>
<line x1="904.50" y1="481.50" x2="904.50" y2="484.55" stroke="#000" stroke-width="0.833"/>
<line x1="904.50" y1="689.50" x2="904.50" y2="692.55" stroke="#000" stroke-width="0.833"/>
<line x1="922.50" y1="65.50" x2="922.50" y2="62.45" stroke="#000" stroke-width="0.833"/>
<line x1="922.50" y1="273.50" x2="922.50" y2="276.55" stroke="#000" stroke-width="0.833"/>
<line x1="922.50" y1="481.50" x2="922.50" y2="484.55" stroke="#000" stroke-width="0.833"/>
<line x1="922.50" y1="689.50" x2="922.50" y2="692.55" stroke="#000" stroke-width="0.833"/>
<line x1="940.50" y1="65.50" x2="940.50" y2="62.45" stroke="#000" stroke-width="0.833"/>
<line x1="940.50" y1="273.50" x2="940.50" y2="276.55" stroke="#000" stroke-width="0.833"/>
<line x1="940.50" y1="481.50" x2="940.50" y2="484.55" stroke="#000" stroke-width="0.833"/>
<line x1="940.50" y1="689.50" x2="940.50" y2="692.55" stroke="#000" stroke-width="0.833"/>
<line x1="959.50" y1="65.50" x2="959.50" y2="62.45" stroke="#000" stroke-width="0.833"/>
<line x1="959.50" y1="273.50" x2="959.50" y2="276.55" stroke="#000" stroke-width="0.833"/>
<line x1="959.50" y1="481.50" x2="959.50" y2="484.55" stroke="#000" stroke-width="0.833"/>
<line x1="959.50" y1="689.50" x2="959.50" y2="692.55" stroke="#000" stroke-width="0.833"/>
<line x1="977.50" y1="65.50" x2="977.50" y2="60.64" stroke="#000" stroke-width="1.111"/>
<line x1="977.50" y1="273.50" x2="977.50" y2="278.36" stroke="#000" stroke-width="1.111"/>
<line x1="977.50" y1="481.50" x2="977.50" y2="486.36" stroke="#000" stroke-width="1.111"/>
<line x1="977.50" y1="689.50" x2="977.50" y2="694.36" stroke="#000" stroke-width="1.111"/>
<line x1="995.50" y1="65.50" x2="995.50" y2="62.45" stroke="#000" stroke-width="0.833"/>
<line x1="995.50" y1="273.50" x2="995.50" y2="276.55" stroke="#000" stroke-width="0.833"/>
<line x1="995.50" y1="481.50" x2="995.50" y2="484.55" stroke="#000" stroke-width="0.833"/>
<line x1="995.50" y1="689.50" x2="995.50" y2="692.55" stroke="#000" stroke-width="0.833"/>
<line x1="1013.50" y1="65.50" x2="1013.50" y2="62.45" stroke="#000" stroke-width="0.833"/>
<line x1="1013.50" y1="273.50" x2="1013.50" y2="276.55" stroke="#000" stroke-width="0.833"/>
<line x1="1013.50" y1="481.50" x2="1013.50" y2="484.55" stroke="#000" stroke-width="0.833"/>
<line x1="1013.50" y1="689.50" x2="1013.50" y2="692.55" stroke="#000" stroke-width="0.833"/>
<line x1="1031.50" y1="65.50" x2="1031.50" y2="62.45" stroke="#000" stroke-width="0.833"/>
<line x1="1031.50" y1="273.50" x2="1031.50" y2="276.55" stroke="#000" stroke-width="0.833"/>
<line x1="1031.50" y1="481.50" x2="1031.50" y2="484.55" stroke="#000" stroke-width="0.833"/>
<line x1="1031.50" y1="689.50" x2="1031.50" y2="692.55" stroke="#000" stroke-width="0.833"/>
<line x1="1049.50" y1="65.50" x2="1049.50" y2="62.45" stroke="#000" stroke-width="0.833"/>
<line x1="1049.50" y1="273.50" x2="1049.50" y2="276.55" stroke="#000" stroke-width="0.833"/>
<line x1="1049.50" y1="481.50" x2="1049.50" y2="484.55" stroke="#000" stroke-width="0.833"/>
<line x1="1049.50" y1="689.50" x2="1049.50" y2="692.55" stroke="#000" stroke-width="0.833"/>
<line x1="1067.50" y1="65.50" x2="1067.50" y2="62.45" stroke="#000" stroke-width="0.833"/>
<line x1="1067.50" y1="273.50" x2="1067.50" y2="276.55" stroke="#000" stroke-width="0.833"/>
<line x1="1067.50" y1="481.50" x2="1067.50" y2="484.55" stroke="#000" stroke-width="0.833"/>
<line x1="1067.50" y1="689.50" x2="1067.50" y2="692.55" stroke="#000" stroke-width="0.833"/>
<line x1="1085.50" y1="65.50" x2="1085.50" y2="60.64" stroke="#000" stroke-width="1.111"/>
<line x1="1085.50" y1="273.50" x2="1085.50" y2="278.36" stroke="#000" stroke-width="1.111"/>
<line x1="1085.50" y1="481.50" x2="1085.50" y2="486.36" stroke="#000" stroke-width="1.111"/>
<line x1="1085.50" y1="689.50" x2="1085.50" y2="694.36" stroke="#000" stroke-width="1.111"/>
<line x1="1103.50" y1="65.50" x2="1103.50" y2="62.45" stroke="#000" stroke-width="0.833"/>
<line x1="1103.50" y1="273.50" x2="1103.50" y2="276.55" stroke="#000" stroke-width="0.833"/>
<line x1="1103.50" y1="481.50" x2="1103.50" y2="484.55" stroke="#000" stroke-width="0.833"/>
<line x1="1103.50" y1="689.50" x2="1103.50" y2="692.55" stroke="#000" stroke-width="0.833"/>
<line x1="1121.50" y1="65.50" x2="1121.50" y2="62.45" stroke="#000" stroke-width="0.833"/>
<line x1="1121.50" y1="273.50" x2="1121.50" y2="276.55" stroke="#000" stroke-width="0.833"/>
<line x1="1121.50" y1="481.50" x2="1121.50" y2="484.55" stroke="#000" stroke-width="0.833"/>
<line x1="1121.50" y1="689.50" x2="1121.50" y2="692.55" stroke="#000" stroke-width="0.833"/>
<line x1="1139.50" y1="65.50" x2="1139.50" y2="62.45" stroke="#000" stroke-width="0.833"/>
<line x1="1139.50" y1="273.50" x2="1139.50" y2="276.55" stroke="#000" stroke-width="0.833"/>
<line x1="1139.50" y1="481.50" x2="1139.50" y2="484.55" stroke="#000" stroke-width="0.833"/>
<line x1="1139.50" y1="689.50" x2="1139.50" y2="692.55" stroke="#000" stroke-width="0.833"/>
<line x1="1157.50" y1="65.50" x2="1157.50" y2="62.45" stroke="#000" stroke-width="0.833"/>
<line x1="1157.50" y1="273.50" x2="1157.50" y2="276.55" stroke="#000" stroke-width="0.833"/>
<line x1="1157.50" y1="481.50" x2="1157.50" y2="484.55" stroke="#000" stroke-width="0.833"/>
<line x1="1157.50" y1="689.50" x2="1157.50" y2="692.55" stroke="#000" stroke-width="0.833"/>
<line x1="1175.50" y1="65.50" x2="1175.50" y2="62.45" stroke="#000" stroke-width="0.833"/>
<line x1="1175.50" y1="273.50" x2="1175.50" y2="276.55" stroke="#000" stroke-width="0.833"/>
<line x1="1175.50" y1="481.50" x2="1175.50" y2="484.55" stroke="#000" stroke-width="0.833"/>
<line x1="1175.50" y1="689.50" x2="1175.50" y2="692.55" stroke="#000" stroke-width="0.833"/>
<line x1="1193.50" y1="65.50" x2="1193.50" y2="60.64" stroke="#000" stroke-width="1.111"/>
<line x1="1193.50" y1="273.50" x2="1193.50" y2="278.36" stroke="#000" stroke-width="1.111"/>
<line x1="1193.50" y1="481.50" x2="1193.50" y2="486.36" stroke="#000" stroke-width="1.111"/>
<line x1="1193.50" y1="689.50" x2="1193.50" y2="694.36" stroke="#000" stroke-width="1.111"/>
<line x1="1211.50" y1="65.50" x2="1211.50" y2="62.45" stroke="#000" stroke-width="0.833"/>
<line x1="1211.50" y1="273.50" x2="1211.50" y2="276.55" stroke="#000" stroke-width="0.833"/>
<line x1="1211.50" y1="481.50" x2="1211.50" y2="484.55" stroke="#000" stroke-width="0.833"/>
<line x1="1211.50" y1="689.50" x2="1211.50" y2="692.55" stroke="#000" stroke-width="0.833"/>
<line x1="1229.50" y1="65.50" x2="1229.50" y2="62.45" stroke="#000" stroke-width="0.833"/>
<line x1="1229.50" y1="273.50" x2="1229.50" y2="276.55" stroke="#000" stroke-width="0.833"/>
<line x1="1229.50" y1="481.50" x2="1229.50" y2="484.55" stroke="#000" stroke-width="0.833"/>
<line x1="1229.50" y1="689.50" x2="1229.50" y2="692.55" stroke="#000" stroke-width="0.833"/>
<line x1="74.50" y1="273.50" x2="69.64" y2="273.50" stroke="#000" stroke-width="1.111"/>
<line x1="74.50" y1="269.50" x2="69.64" y2="269.50" stroke="#000" stroke-width="1.111"/>
<line x1="74.50" y1="264.50" x2="69.64" y2="264.50" stroke="#000" stroke-width="1.111"/>
<line x1="74.50" y1="260.50" x2="69.64" y2="260.50" stroke="#000" stroke-width="1.111"/>
<line x1="74.50" y1="256.50" x2="69.64" y2="256.50" stroke="#000" stroke-width="1.111"/>
<line x1="74.50" y1="251.50" x2="69.64" y2="251.50" stroke="#000" stroke-width="1.111"/>
<line x1="74.50" y1="247.50" x2="69.64" y2="247.50" stroke="#000" stroke-width="1.111"/>
<line x1="74.50" y1="242.50" x2="69.64" y2="242.50" stroke="#000" stroke-width="1.111"/>
<line x1="74.50" y1="238.50" x2="69.64" y2="238.50" stroke="#000" stroke-width="1.111"/>
<line x1="74.50" y1="233.50" x2="69.64" y2="233.50" stroke="#000" stroke-width="1.111"/>
<line x1="74.50" y1="229.50" x2="69.64" y2="229.50" stroke="#000" stroke-width="1.111"/>
<line x1="74.50" y1="225.50" x2="69.64" y2="225.50" stroke="#000" stroke-width="1.111"/>
<line x1="74.50" y1="220.50" x2="69.64" y2="220.50" stroke="#000" stroke-width="1.111"/>
<line x1="74.50" y1="216.50" x2="69.64" y2="216.50" stroke="#000" stroke-width="1.111"/>
<line x1="74.50" y1="211.50" x2="69.64" y2="211.50" stroke="#000" stroke-width="1.111"/>
<line x1="74.50" y1="207.50" x2="69.64" y2="207.50" stroke="#000" stroke-width="1.111"/>
<line x1="74.50" y1="202.50" x2="69.64" y2="202.50" stroke="#000" stroke-width="1.111"/>
<line x1="74.50" y1="198.50" x2="69.64" y2="198.50" stroke="#000" stroke-width="1.111"/>
<line x1="74.50" y1="194.50" x2="69.64" y2="194.50" stroke="#000" stroke-width="1.111"/>
<line x1="74.50" y1="189.50" x2="69.64" y2="189.50" stroke="#000" stroke-width="1.111"/>
<line x1="74.50" y1="185.50" x2="69.64" y2="185.50" stroke="#000" stroke-width="1.111"/>
<line x1="74.50" y1="180.50" x2="69.64" y2="180.50" stroke="#000" stroke-width="1.111"/>
<line x1="74.50" y1="176.50" x2="69.64" y2="176.50" stroke="#000" stroke-width="1.111"/>
<line x1="74.50" y1="172.50" x2="69.64" y2="172.50" stroke="#000" stroke-width="1.111"/>
<line x1="74.50" y1="167.50" x2="69.64" y2="167.50" stroke="#000" stroke-width="1.111"/>
<line x1="74.50" y1="163.50" x2="69.64" y2="163.50" stroke="#000" stroke-width="1.111"/>
<line x1="74.50" y1="158.50" x2="69.64" y2="158.50" stroke="#000" stroke-width="1.111"/>
<line x1="74.50" y1="154.50" x2="69.64" y2="154.50" stroke="#000" stroke-width="1.111"/>
<line x1="74.50" y1="149.50" x2="69.64" y2="149.50" stroke="#000" stroke-width="1.111"/>
<line x1="74.50" y1="145.50" x2="69.64" y2="145.50" stroke="#000" stroke-width="1.111"/>
<line x1="74.50" y1="141.50" x2="69.64" y2="141.50" stroke="#000" stroke-width="1.111"/>
<line x1="74.50" y1="136.50" x2="69.64" y2="136.50" stroke="#000" stroke-width="1.111"/>
<line x1="74.50" y1="132.50" x2="69.64" y2="132.50" stroke="#000" stroke-width="1.111"/>
<line x1="74.50" y1="127.50" x2="69.64" y2="127.50" stroke="#000" stroke-width="1.111"/>
<line x1="74.50" y1="123.50" x2="69.64" y2="123.50" stroke="#000" stroke-width="1.111"/>
<line x1="74.50" y1="118.50" x2="69.64" y2="118.50" stroke="#000" stroke-width="1.111"/>
<line x1="74.50" y1="114.50" x2="69.64" y2="114.50" stroke="#000" stroke-width="1.111"/>
<line x1="74.50" y1="110.50" x2="69.64" y2="110.50" stroke="#000" stroke-width="1.111"/>
<line x1="74.50" y1="105.50" x2="69.64" y2="105.50" stroke="#000" stroke-width="1.111"/>
<line x1="74.50" y1="101.50" x2="69.64" y2="101.50" stroke="#000" stroke-width="1.111"/>
<line x1="74.50" y1="96.50" x2="69.64" y2="96.50" stroke="#000" stroke-width="1.111"/>
<line x1="74.50" y1="92.50" x2="69.64" y2="92.50" stroke="#000" stroke-width="1.111"/>
<line x1="74.50" y1="87.50" x2="69.64" y2="87.50" stroke="#000" stroke-width="1.111"/>
<line x1="74.50" y1="83.50" x2="69.64" y2="83.50" stroke="#000" stroke-width="1.111"/>
<line x1="74.50" y1="79.50" x2="69.64" y2="79.50" stroke="#000" stroke-width="1.111"/>
<line x1="74.50" y1="74.50" x2="69.64" y2="74.50" stroke="#000" stroke-width="1.111"/>
<line x1="74.50" y1="70.50" x2="69.64" y2="70.50" stroke="#000" stroke-width="1.111"/>
<line x1="74.50" y1="65.50" x2="69.64" y2="65.50" stroke="#000" stroke-width="1.111"/>
<line x1="74.50" y1="481.50" x2="69.64" y2="481.50" stroke="#000" stroke-width="1.111"/>
<line x1="74.50" y1="477.50" x2="69.64" y2="477.50" stroke="#000" stroke-width="1.111"/>
<line x1="74.50" y1="472.50" x2="69.64" y2="472.50" stroke="#000" stroke-width="1.111"/>
<line x1="74.50" y1="468.50" x2="69.64" y2="468.50" stroke="#000" stroke-width="1.111"/>
<line x1="74.50" y1="464.50" x2="69.64" y2="464.50" stroke="#000" stroke-width="1.111"/>
<line x1="74.50" y1="459.50" x2="69.64" y2="459.50" stroke="#000" stroke-width="1.111"/>
<line x1="74.50" y1="455.50" x2="69.64" y2="455.50" stroke="#000" stroke-width="1.111"/>
<line x1="74.50" y1="450.50" x2="69.64" y2="450.50" stroke="#000" stroke-width="1.111"/>
<line x1="74.50" y1="446.50" x2="69.64" y2="446.50" stroke="#000" stroke-width="1.111"/>
<line x1="74.50" y1="441.50" x2="69.64" y2="441.50" stroke="#000" stroke-width="1.111"/>
<line x1="74.50" y1="437.50" x2="69.64" y2="437.50" stroke="#000" stroke-width="1.111"/>
<line x1="74.50" y1="433.50" x2="69.64" y2="433.50" stroke="#000" stroke-width="1.111"/>
<line x1="74.50" y1="428.50" x2="69.64" y2="428.50" stroke="#000" stroke-width="1.111"/>
<line x1="74.50" y1="424.50" x2="69.64" y2="424.50" stroke="#000" stroke-width="1.111"/>
<line x1="74.50" y1="419.50" x2="69.64" y2="419.50" stroke="#000" stroke-width="1.111"/>
<line x1="74.50" y1="415.50" x2="69.64" y2="415.50" stroke="#000" stroke-width="1.111"/>
<line x1="74.50" y1="410.50" x2="69.64" y2="410.50" stroke="#000" stroke-width="1.111"/>
<line x1="74.50" y1="406.50" x2="69.64" y2="406.50" stroke="#000" stroke-width="1.111"/>
<line x1="74.50" y1="402.50" x2="69.64" y2="402.50" stroke="#000" stroke-width="1.111"/>
<line x1="74.50" y1="397.50" x2="69.64" y2="397.50" stroke="#000" stroke-width="1.111"/>
<line x1="74.50" y1="393.50" x2="69.64" y2="393.50" stroke="#000" stroke-width="1.111"/>
<line x1="74.50" y1="388.50" x2="69.64" y2="388.50" stroke="#000" stroke-width="1.111"/>
<line x1="74.50" y1="384.50" x2="69.64" y2="384.50" stroke="#000" stroke-width="1.111"/>
<line x1="74.50" y1="380.50" x2="69.64" y2="380.50" stroke="#000" stroke-width="1.111"/>
<line x1="74.50" y1="375.50" x2="69.64" y2="375.50" stroke="#000" stroke-width="1.111"/>
<line x1="74.50" y1="371.50" x2="69.64" y2="371.50" stroke="#000" stroke-width="1.111"/>
<line x1="74.50" y1="366.50" x2="69.64" y2="366.50" stroke="#000" stroke-width="1.111"/>
<line x1="74.50" y1="362.50" x2="69.64" y2="362.50" stroke="#000" stroke-width="1.111"/>
<line x1="74.50" y1="357.50" x2="69.64" y2="357.50" stroke="#000" stroke-width="1.111"/>
<line x1="74.50" y1="353.50" x2="69.64" y2="353.50" stroke="#000" stroke-width="1.111"/>
<line x1="74.50" y1="349.50" x2="69.64" y2="349.50" stroke="#000" stroke-width="1.111"/>
<line x1="74.50" y1="344.50" x2="69.64" y2="344.50" stroke="#000" stroke-width="1.111"/>
<line x1="74.50" y1="340.50" x2="69.64" y2="340.50" stroke="#000" stroke-width="1.111"/>
<line x1="74.50" y1="335.50" x2="69.64" y2="335.50" stroke="#000" stroke-width="1.111"/>
<line x1="74.50" y1="331.50" x2="69.64" y2="331.50" stroke="#000" stroke-width="1.111"/>
<line x1="74.50" y1="326.50" x2="69.64" y2="326.50" stroke="#000" stroke-width="1.111"/>
<line x1="74.50" y1="322.50" x2="69.64" y2="322.50" stroke="#000" stroke-width="1.111"/>
<line x1="74.50" y1="318.50" x2="69.64" y2="318.50" stroke="#000" stroke-width="1.111"/>
<line x1="74.50" y1="313.50" x2="69.64" y2="313.50" stroke="#000" stroke-width="1.111"/>
<line x1="74.50" y1="309.50" x2="69.64" y2="309.50" stroke="#000" stroke-width="1.111"/>
<line x1="74.50" y1="304.50" x2="69.64" y2="304.50" stroke="#000" stroke-width="1.111"/>
<line x1="74.50" y1="300.50" x2="69.64" y2="300.50" stroke="#000" stroke-width="1.111"/>
<line x1="74.50" y1="295.50" x2="69.64" y2="295.50" stroke="#000" stroke-width="1.111"/>
<line x1="74.50" y1="291.50" x2="69.64" y2="291.50" stroke="#000" stroke-width="1.111"/>
<line x1="74.50" y1="287.50" x2="69.64" y2="287.50" stroke="#000" stroke-width="1.111"/>
<line x1="74.50" y1="282.50" x2="69.64" y2="282.50" stroke="#000" stroke-width="1.111"/>
<line x1="74.50" y1="278.50" x2="69.64" y2="278.50" stroke="#000" stroke-width="1.111"/>
<line x1="74.50" y1="273.50" x2="69.64" y2="273.50" stroke="#000" stroke-width="1.111"/>
<line x1="74.50" y1="679.50" x2="69.64" y2="679.50" stroke="#000" stroke-width="1.111"/>
<line x1="74.50" y1="630.50" x2="69.64" y2="630.50" stroke="#000" stroke-width="1.111"/>
<line x1="74.50" y1="580.50" x2="69.64" y2="580.50" stroke="#000" stroke-width="1.111"/>
<line x1="74.50" y1="531.50" x2="69.64" y2="531.50" stroke="#000" stroke-width="1.111"/>
<line x1="74.50" y1="481.50" x2="69.64" y2="481.50" stroke="#000" stroke-width="1.111"/>
<rect x="1239.4" y="76.4" width="9.3" height="186.4" fill="url(#cb1)" stroke="#000" stroke-width="1.111"/>
<line x1="1248.7" y1="262.80" x2="1253.56" y2="262.80" stroke="#000" stroke-width="1.111"/>
<line x1="1248.7" y1="216.20" x2="1253.56" y2="216.20" stroke="#000" stroke-width="1.111"/>
<line x1="1248.7" y1="169.60" x2="1253.56" y2="169.60" stroke="#000" stroke-width="1.111"/>
<line x1="1248.7" y1="123.00" x2="1253.56" y2="123.00" stroke="#000" stroke-width="1.111"/>
<line x1="1248.7" y1="76.40" x2="1253.56" y2="76.40" stroke="#000" stroke-width="1.111"/>
<rect x="1239.4" y="284.0" width="9.3" height="187.0" fill="url(#cb2)" stroke="#000" stroke-width="1.111"/>
<line x1="1248.7" y1="471.00" x2="1253.56" y2="471.00" stroke="#000" stroke-width="1.111"/>
<line x1="1248.7" y1="424.25" x2="1253.56" y2="424.25" stroke="#000" stroke-width="1.111"/>
<line x1="1248.7" y1="377.50" x2="1253.56" y2="377.50" stroke="#000" stroke-width="1.111"/>
<line x1="1248.7" y1="330.75" x2="1253.56" y2="330.75" stroke="#000" stroke-width="1.111"/>
<line x1="1248.7" y1="284.00" x2="1253.56" y2="284.00" stroke="#000" stroke-width="1.111"/>
<rect x="1234.7" y="487.7" width="109.8" height="175.8" rx="2.8" ry="2.8" fill="#fff" fill-opacity="0.8" stroke="#ccc" stroke-width="1.1"/>
<circle cx="1251.7" cy="498.80" r="3.9" fill="#0000ff"/>
<circle cx="1251.7" cy="518.04" r="3.9" fill="#001fd0"/>
<circle cx="1251.7" cy="537.28" r="3.9" fill="#064180"/>
<circle cx="1251.7" cy="556.52" r="3.9" fill="#065f4b"/>
<circle cx="1251.7" cy="575.76" r="3.9" fill="#00870a"/>
<circle cx="1251.7" cy="595.00" r="3.9" fill="#46600a"/>
<circle cx="1251.7" cy="614.24" r="3.9" fill="#804005"/>
<circle cx="1251.7" cy="633.48" r="3.9" fill="#ba2405"/>
<circle cx="1251.7" cy="652.72" r="3.9" fill="#ff0000"/>
<text transform="translate(675.00 27.80) scale(1 1.07)" font-size="16.667" text-anchor="middle">2025-08-19&#160;&#160;SOLARSPEL&#160;&#160;3-24 GHz spectropolarimeter data&#160;&#160;&#160;Stokes I,V&#160;&#160;&#160;48 frequency channels&#160;&#160;&#160;(calibration preliminary)</text>
<text x="110.80" y="56.60" font-size="13.889" text-anchor="middle">00:00</text>
<text x="110.80" y="708.80" font-size="13.889" text-anchor="middle">00:00</text>
<text x="219.08" y="56.60" font-size="13.889" text-anchor="middle">01:00</text>
<text x="219.08" y="708.80" font-size="13.889" text-anchor="middle">01:00</text>
<text x="327.36" y="56.60" font-size="13.889" text-anchor="middle">02:00</text>
<text x="327.36" y="708.80" font-size="13.889" text-anchor="middle">02:00</text>
<text x="435.65" y="56.60" font-size="13.889" text-anchor="middle">03:00</text>
<text x="435.65" y="708.80" font-size="13.889" text-anchor="middle">03:00</text>
<text x="543.93" y="56.60" font-size="13.889" text-anchor="middle">04:00</text>
<text x="543.93" y="708.80" font-size="13.889" text-anchor="middle">04:00</text>
<text x="652.21" y="56.60" font-size="13.889" text-anchor="middle">05:00</text>
<text x="652.21" y="708.80" font-size="13.889" text-anchor="middle">05:00</text>
<text x="760.49" y="56.60" font-size="13.889" text-anchor="middle">06:00</text>
<text x="760.49" y="708.80" font-size="13.889" text-anchor="middle">06:00</text>
<text x="868.77" y="56.60" font-size="13.889" text-anchor="middle">07:00</text>
<text x="868.77" y="708.80" font-size="13.889" text-anchor="middle">07:00</text>
<text x="977.06" y="56.60" font-size="13.889" text-anchor="middle">08:00</text>
<text x="977.06" y="708.80" font-size="13.889" text-anchor="middle">08:00</text>
<text x="1085.34" y="56.60" font-size="13.889" text-anchor="middle">09:00</text>
<text x="1085.34" y="708.80" font-size="13.889" text-anchor="middle">09:00</text>
<text x="1193.62" y="56.60" font-size="13.889" text-anchor="middle">10:00</text>
<text x="1193.62" y="708.80" font-size="13.889" text-anchor="middle">10:00</text>
<text x="64.30" y="70.70" font-size="13.889" text-anchor="end">24.0</text>
<text x="64.30" y="92.83" font-size="13.889" text-anchor="end">20.0</text>
<text x="64.30" y="114.96" font-size="13.889" text-anchor="end">16.0</text>
<text x="64.30" y="141.51" font-size="13.889" text-anchor="end">12.0</text>
<text x="64.30" y="163.64" font-size="13.889" text-anchor="end">10.0</text>
<text x="64.30" y="185.76" font-size="13.889" text-anchor="end">8.0</text>
<text x="64.30" y="212.32" font-size="13.889" text-anchor="end">6.0</text>
<text x="64.30" y="234.44" font-size="13.889" text-anchor="end">5.0</text>
<text x="64.30" y="256.57" font-size="13.889" text-anchor="end">4.0</text>
<text x="64.30" y="278.70" font-size="13.889" text-anchor="end">3.0</text>
<text x="64.30" y="300.83" font-size="13.889" text-anchor="end">20.0</text>
<text x="64.30" y="322.96" font-size="13.889" text-anchor="end">16.0</text>
<text x="64.30" y="349.51" font-size="13.889" text-anchor="end">12.0</text>
<text x="64.30" y="371.64" font-size="13.889" text-anchor="end">10.0</text>
<text x="64.30" y="393.76" font-size="13.889" text-anchor="end">8.0</text>
<text x="64.30" y="420.32" font-size="13.889" text-anchor="end">6.0</text>
<text x="64.30" y="442.44" font-size="13.889" text-anchor="end">5.0</text>
<text x="64.30" y="464.57" font-size="13.889" text-anchor="end">4.0</text>
<text x="64.30" y="486.70" font-size="13.889" text-anchor="end">3.0</text>
<text x="64.30" y="684.80" font-size="13.889" text-anchor="end">0</text>
<text x="64.30" y="635.27" font-size="13.889" text-anchor="end">500</text>
<text x="64.30" y="585.75" font-size="13.889" text-anchor="end">1000</text>
<text x="64.30" y="536.22" font-size="13.889" text-anchor="end">1500</text>
<text transform="translate(23.00 169.50) rotate(-90) scale(1 1.07)" font-size="16.667" text-anchor="middle">Frequency, GHz</text>
<text transform="translate(23.00 377.50) rotate(-90) scale(1 1.07)" font-size="16.667" text-anchor="middle">Frequency, GHz</text>
<text transform="translate(18.80 585.50) rotate(-90) scale(1 1.07)" font-size="16.667" text-anchor="middle">Stokes I,V plot, sfu</text>
<text x="1232.30" y="709.20" font-size="15.278" text-anchor="start">UTC Time</text>
<text x="1258.46" y="267.20" font-size="13.889" text-anchor="start">0</text>
<text x="1258.46" y="220.60" font-size="13.889" text-anchor="start">500</text>
<text x="1258.46" y="174.00" font-size="13.889" text-anchor="start">1000</text>
<text x="1258.46" y="127.40" font-size="13.889" text-anchor="start">1500</text>
<text x="1258.46" y="80.80" font-size="13.889" text-anchor="start">2000</text>
<text transform="translate(1311.50 170.80) rotate(-90) scale(1 1.07)" font-size="16.667" text-anchor="middle">Stokes I map, sfu</text>
<text x="1258.46" y="475.40" font-size="13.889" text-anchor="start">&#8722;200</text>
<text x="1258.46" y="428.65" font-size="13.889" text-anchor="start">&#8722;100</text>
<text x="1258.46" y="381.90" font-size="13.889" text-anchor="start">0</text>
<text x="1258.46" y="335.15" font-size="13.889" text-anchor="start">100</text>
<text x="1258.46" y="288.40" font-size="13.889" text-anchor="start">200</text>
<text transform="translate(1313.30 378.70) rotate(-90) scale(1 1.07)" font-size="16.667" text-anchor="middle">Stokes V map, sfu</text>
<text x="1274.60" y="502.80" font-size="12.5" text-anchor="start">19.69 GHz</text>
<text x="1274.60" y="522.04" font-size="12.5" text-anchor="start">15.69 GHz</text>
<text x="1274.60" y="541.28" font-size="12.5" text-anchor="start">11.83 GHz</text>
<text x="1274.60" y="560.52" font-size="12.5" text-anchor="start">9.83 GHz</text>
<text x="1274.60" y="579.76" font-size="12.5" text-anchor="start">7.83 GHz</text>
<text x="1274.60" y="599.00" font-size="12.5" text-anchor="start">5.90 GHz</text>
<text x="1274.60" y="618.24" font-size="12.5" text-anchor="start">4.90 GHz</text>
<text x="1274.60" y="637.48" font-size="12.5" text-anchor="start">3.90 GHz</text>
<text x="1274.60" y="656.72" font-size="12.5" text-anchor="start">3.00 GHz</text>
</svg>
</body></html>
